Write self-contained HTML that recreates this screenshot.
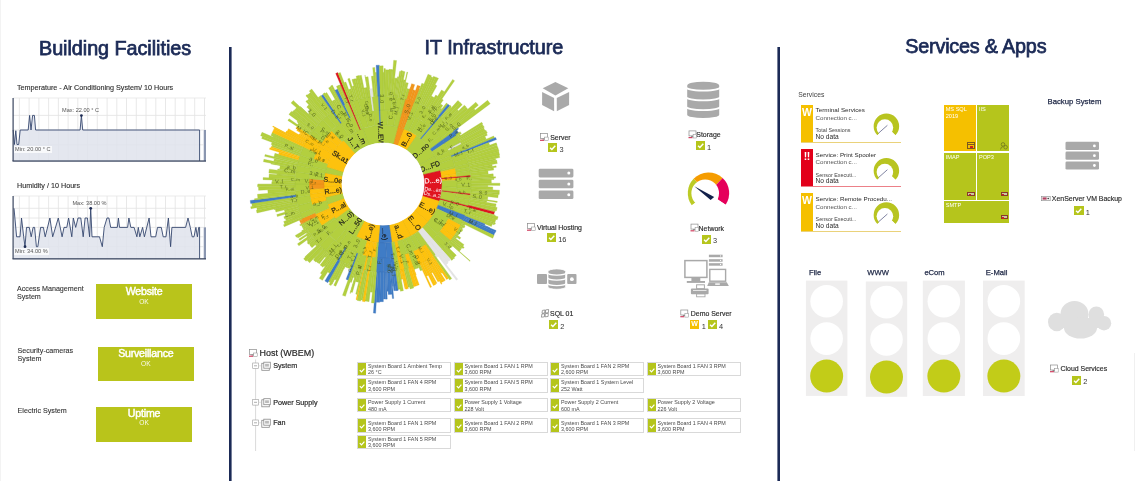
<!DOCTYPE html><html><head><meta charset="utf-8"><title>Dashboard</title><style>
*{margin:0;padding:0;box-sizing:border-box}
html,body{width:1136px;height:481px;overflow:hidden;background:#fff}
body{position:relative;font-family:"Liberation Sans",Arial,sans-serif;color:#333}
svg.bg{position:absolute;left:0;top:0}
div svg{display:block}
div{position:absolute;white-space:nowrap}
.t{font-size:19.8px;font-weight:normal;color:#1b2a56;line-height:22px;transform-origin:0 0;-webkit-text-stroke:0.75px #1b2a56}
.ct{font-size:7.2px;color:#2e2e2e;-webkit-text-stroke:0.12px #2e2e2e;line-height:8px}
.clbl{font-size:5.6px;color:#555;line-height:7px}
.clbl.mn{background:rgba(255,255,255,0.75);padding:0 1px}
.sb{background:#b9c41b}
.sbt{font-size:10.6px;font-weight:normal;color:#fff;text-align:center;line-height:13px;letter-spacing:-0.2px;-webkit-text-stroke:0.45px #fff}
.sbo{font-size:6.6px;color:rgba(255,255,255,0.92);text-align:center;line-height:7px}
.sl{font-size:7.15px;color:#333;-webkit-text-stroke:0.1px #333;line-height:8.3px;white-space:nowrap}
.il{font-size:6.95px;color:#2a2a2a;line-height:10px;-webkit-text-stroke:0.15px #2a2a2a}
.cn{font-size:7.4px;color:#333;line-height:10px}
.ck{background:#b5c51c}
.ck svg{position:absolute;left:0;top:0}
.wb{width:9.2px;height:9px;background:#f5c000;color:#fff;font-weight:bold;font-size:7px;line-height:8.6px;text-align:center}
.th{font-size:8.95px;color:#2a2a2a;line-height:13px;-webkit-text-stroke:0.2px #2a2a2a}
.tn{font-size:7.2px;color:#2a2a2a;line-height:11px;-webkit-text-stroke:0.2px #2a2a2a}
.sc{width:94px;height:14.4px;background:#fff;border:0.6px solid #d9d9d9}
.scg{left:0;top:0;width:8px;height:100%;background:#b5c51c}
.scg svg{position:absolute;left:0;top:0}
.sct{left:10px;top:0.3px;font-size:5.4px;line-height:6.2px;color:#4a4a4a}
.svh{font-size:6.8px;color:#444;line-height:9px}
.svc{left:801px;width:100px;height:38.4px;border-bottom:1px solid #f5c000}
.svs{left:0;top:0;width:11.6px;height:100%;color:#fff;font-weight:bold;font-size:10.5px;line-height:11px;padding-top:2.2px;text-align:center;letter-spacing:-0.5px}
.sv1{left:14.6px;top:1.5px;font-size:6.25px;color:#2a2a2a;line-height:8px}
.sv2{left:14.6px;top:9.3px;font-size:6.2px;color:#555;line-height:8px}
.sv3{left:14.6px;top:22.5px;font-size:5.4px;color:#444;line-height:7px}
.sv4{left:14.6px;top:28.4px;font-size:6.6px;color:#2a2a2a;line-height:8px}
.tm{font-size:5.6px;color:#fff;line-height:7.6px;padding:1px 0 0 2px}
.bk{font-size:7.75px;color:#1f2846;line-height:10px;-webkit-text-stroke:0.25px #1f2846}
.tll{font-size:7.6px;color:#1f2846;line-height:10px;-webkit-text-stroke:0.25px #1f2846}
</style></head><body><svg class="bg" width="1136" height="481" viewBox="0 0 1136 481"><rect x="229" y="47" width="2.6" height="434" fill="#1b2a56"/>
<rect x="777.4" y="47" width="2.6" height="434" fill="#1b2a56"/>
<rect x="0" y="0" width="1" height="481" fill="#f3f3f3"/>
<rect x="1134" y="353" width="1" height="98" fill="#f0f0f0"/>
<rect x="13" y="98" width="193" height="63" fill="#fff"/>
<line x1="19.4" y1="98" x2="19.4" y2="161" stroke="#e2e2e2" stroke-width="0.8"/>
<line x1="29.1" y1="98" x2="29.1" y2="161" stroke="#e2e2e2" stroke-width="0.8"/>
<line x1="38.9" y1="98" x2="38.9" y2="161" stroke="#e2e2e2" stroke-width="0.8"/>
<line x1="48.6" y1="98" x2="48.6" y2="161" stroke="#e2e2e2" stroke-width="0.8"/>
<line x1="58.4" y1="98" x2="58.4" y2="161" stroke="#e2e2e2" stroke-width="0.8"/>
<line x1="68.1" y1="98" x2="68.1" y2="161" stroke="#e2e2e2" stroke-width="0.8"/>
<line x1="77.8" y1="98" x2="77.8" y2="161" stroke="#e2e2e2" stroke-width="0.8"/>
<line x1="87.6" y1="98" x2="87.6" y2="161" stroke="#e2e2e2" stroke-width="0.8"/>
<line x1="97.3" y1="98" x2="97.3" y2="161" stroke="#e2e2e2" stroke-width="0.8"/>
<line x1="107.1" y1="98" x2="107.1" y2="161" stroke="#e2e2e2" stroke-width="0.8"/>
<line x1="116.8" y1="98" x2="116.8" y2="161" stroke="#e2e2e2" stroke-width="0.8"/>
<line x1="126.5" y1="98" x2="126.5" y2="161" stroke="#e2e2e2" stroke-width="0.8"/>
<line x1="136.3" y1="98" x2="136.3" y2="161" stroke="#e2e2e2" stroke-width="0.8"/>
<line x1="146.0" y1="98" x2="146.0" y2="161" stroke="#e2e2e2" stroke-width="0.8"/>
<line x1="155.8" y1="98" x2="155.8" y2="161" stroke="#e2e2e2" stroke-width="0.8"/>
<line x1="165.5" y1="98" x2="165.5" y2="161" stroke="#e2e2e2" stroke-width="0.8"/>
<line x1="175.2" y1="98" x2="175.2" y2="161" stroke="#e2e2e2" stroke-width="0.8"/>
<line x1="185.0" y1="98" x2="185.0" y2="161" stroke="#e2e2e2" stroke-width="0.8"/>
<line x1="194.7" y1="98" x2="194.7" y2="161" stroke="#e2e2e2" stroke-width="0.8"/>
<line x1="204.5" y1="98" x2="204.5" y2="161" stroke="#e2e2e2" stroke-width="0.8"/>
<line x1="13" y1="115.4" x2="206" y2="115.4" stroke="#e2e2e2" stroke-width="0.8"/>
<line x1="13" y1="130" x2="206" y2="130" stroke="#e2e2e2" stroke-width="0.8"/>
<line x1="13" y1="144.8" x2="206" y2="144.8" stroke="#e2e2e2" stroke-width="0.8"/>
<line x1="13" y1="98" x2="206" y2="98" stroke="#e6e6e6" stroke-width="0.8"/>
<path d="M13.2,130.0 L14.4,144.5 L15.8,130.7 L17.0,144.5 L18.7,144.5 L20.2,130.0 L28.2,130.0 L29.6,115.4 L31.0,130.0 L32.6,115.4 L34.4,115.4 L35.6,130.0 L80.1,130.0 L81.4,115.6 L82.7,130.0 L199.6,130.0 L199.6,161 L13.2,161 Z" fill="#dfe3ec" opacity="0.85"/>
<path d="M13.2,130.0 L14.4,144.5 L15.8,130.7 L17.0,144.5 L18.7,144.5 L20.2,130.0 L28.2,130.0 L29.6,115.4 L31.0,130.0 L32.6,115.4 L34.4,115.4 L35.6,130.0 L80.1,130.0 L81.4,115.6 L82.7,130.0 L199.6,130.0 L199.6,161" fill="none" stroke="#34466e" stroke-width="0.9"/>
<rect x="203.8" y="130" width="2.2" height="31" fill="#8a96b0"/>
<rect x="203.0" y="130" width="0.8" height="31" fill="#dfe3ec"/>
<rect x="12.5" y="98" width="1.2" height="63" fill="#3b4660"/>
<rect x="12.5" y="160.4" width="193.5" height="1.3" fill="#3b4660"/>
<circle cx="81.4" cy="115.6" r="1.4" fill="#1f2d55"/>
<rect x="13" y="196" width="193" height="62.80000000000001" fill="#fff"/>
<line x1="19.4" y1="196" x2="19.4" y2="258.8" stroke="#e2e2e2" stroke-width="0.8"/>
<line x1="29.1" y1="196" x2="29.1" y2="258.8" stroke="#e2e2e2" stroke-width="0.8"/>
<line x1="38.9" y1="196" x2="38.9" y2="258.8" stroke="#e2e2e2" stroke-width="0.8"/>
<line x1="48.6" y1="196" x2="48.6" y2="258.8" stroke="#e2e2e2" stroke-width="0.8"/>
<line x1="58.4" y1="196" x2="58.4" y2="258.8" stroke="#e2e2e2" stroke-width="0.8"/>
<line x1="68.1" y1="196" x2="68.1" y2="258.8" stroke="#e2e2e2" stroke-width="0.8"/>
<line x1="77.8" y1="196" x2="77.8" y2="258.8" stroke="#e2e2e2" stroke-width="0.8"/>
<line x1="87.6" y1="196" x2="87.6" y2="258.8" stroke="#e2e2e2" stroke-width="0.8"/>
<line x1="97.3" y1="196" x2="97.3" y2="258.8" stroke="#e2e2e2" stroke-width="0.8"/>
<line x1="107.1" y1="196" x2="107.1" y2="258.8" stroke="#e2e2e2" stroke-width="0.8"/>
<line x1="116.8" y1="196" x2="116.8" y2="258.8" stroke="#e2e2e2" stroke-width="0.8"/>
<line x1="126.5" y1="196" x2="126.5" y2="258.8" stroke="#e2e2e2" stroke-width="0.8"/>
<line x1="136.3" y1="196" x2="136.3" y2="258.8" stroke="#e2e2e2" stroke-width="0.8"/>
<line x1="146.0" y1="196" x2="146.0" y2="258.8" stroke="#e2e2e2" stroke-width="0.8"/>
<line x1="155.8" y1="196" x2="155.8" y2="258.8" stroke="#e2e2e2" stroke-width="0.8"/>
<line x1="165.5" y1="196" x2="165.5" y2="258.8" stroke="#e2e2e2" stroke-width="0.8"/>
<line x1="175.2" y1="196" x2="175.2" y2="258.8" stroke="#e2e2e2" stroke-width="0.8"/>
<line x1="185.0" y1="196" x2="185.0" y2="258.8" stroke="#e2e2e2" stroke-width="0.8"/>
<line x1="194.7" y1="196" x2="194.7" y2="258.8" stroke="#e2e2e2" stroke-width="0.8"/>
<line x1="204.5" y1="196" x2="204.5" y2="258.8" stroke="#e2e2e2" stroke-width="0.8"/>
<line x1="13" y1="208.3" x2="206" y2="208.3" stroke="#e2e2e2" stroke-width="0.8"/>
<line x1="13" y1="218" x2="206" y2="218" stroke="#e2e2e2" stroke-width="0.8"/>
<line x1="13" y1="227.4" x2="206" y2="227.4" stroke="#e2e2e2" stroke-width="0.8"/>
<line x1="13" y1="236.8" x2="206" y2="236.8" stroke="#e2e2e2" stroke-width="0.8"/>
<line x1="13" y1="246.7" x2="206" y2="246.7" stroke="#e2e2e2" stroke-width="0.8"/>
<line x1="13" y1="196" x2="206" y2="196" stroke="#e6e6e6" stroke-width="0.8"/>
<path d="M14.0,208.3 L16.6,236.8 L20.0,236.8 L21.5,218.0 L23.7,236.8 L25.0,246.7 L26.5,227.4 L29.3,227.4 L31.2,236.8 L33.1,227.4 L34.6,227.4 L36.4,246.7 L37.8,246.7 L40.6,227.4 L43.4,227.4 L45.2,236.8 L49.9,218.0 L52.7,236.8 L58.3,218.0 L62.1,236.8 L64.0,227.4 L66.8,227.4 L68.6,218.0 L71.8,236.8 L73.3,218.0 L75.7,227.4 L78.0,218.0 L80.8,218.0 L83.2,236.8 L85.1,218.0 L87.4,218.0 L89.6,236.8 L90.7,208.3 L92.0,236.8 L99.5,236.8 L102.3,246.7 L104.2,227.4 L107.0,218.0 L108.9,218.0 L110.7,227.4 L117.3,227.4 L118.4,218.0 L119.5,227.4 L127.6,227.4 L128.9,218.0 L130.8,227.4 L134.1,227.4 L136.9,236.8 L138.3,227.4 L139.8,236.8 L142.6,227.4 L144.4,236.8 L149.1,218.0 L151.0,236.8 L155.7,236.8 L157.5,227.4 L161.3,227.4 L163.2,236.8 L166.0,236.8 L168.4,218.0 L170.6,246.7 L171.9,227.4 L185.6,227.4 L188.0,218.0 L190.3,227.4 L192.2,236.8 L194.0,236.8 L195.9,227.4 L197.4,236.8 L198.7,227.4 L199.6,227.4 L199.6,258.8 L14.0,258.8 Z" fill="#dfe3ec" opacity="0.85"/>
<path d="M14.0,208.3 L16.6,236.8 L20.0,236.8 L21.5,218.0 L23.7,236.8 L25.0,246.7 L26.5,227.4 L29.3,227.4 L31.2,236.8 L33.1,227.4 L34.6,227.4 L36.4,246.7 L37.8,246.7 L40.6,227.4 L43.4,227.4 L45.2,236.8 L49.9,218.0 L52.7,236.8 L58.3,218.0 L62.1,236.8 L64.0,227.4 L66.8,227.4 L68.6,218.0 L71.8,236.8 L73.3,218.0 L75.7,227.4 L78.0,218.0 L80.8,218.0 L83.2,236.8 L85.1,218.0 L87.4,218.0 L89.6,236.8 L90.7,208.3 L92.0,236.8 L99.5,236.8 L102.3,246.7 L104.2,227.4 L107.0,218.0 L108.9,218.0 L110.7,227.4 L117.3,227.4 L118.4,218.0 L119.5,227.4 L127.6,227.4 L128.9,218.0 L130.8,227.4 L134.1,227.4 L136.9,236.8 L138.3,227.4 L139.8,236.8 L142.6,227.4 L144.4,236.8 L149.1,218.0 L151.0,236.8 L155.7,236.8 L157.5,227.4 L161.3,227.4 L163.2,236.8 L166.0,236.8 L168.4,218.0 L170.6,246.7 L171.9,227.4 L185.6,227.4 L188.0,218.0 L190.3,227.4 L192.2,236.8 L194.0,236.8 L195.9,227.4 L197.4,236.8 L198.7,227.4 L199.6,227.4 L199.6,258.8" fill="none" stroke="#34466e" stroke-width="0.9"/>
<rect x="203.8" y="227.4" width="2.2" height="31.400000000000006" fill="#8a96b0"/>
<rect x="203.0" y="227.4" width="0.8" height="31.400000000000006" fill="#dfe3ec"/>
<rect x="12.5" y="196" width="1.2" height="62.80000000000001" fill="#3b4660"/>
<rect x="12.5" y="258.2" width="193.5" height="1.3" fill="#3b4660"/>
<circle cx="90.71963316488863" cy="208.3146172562231" r="1.4" fill="#1f2d55"/>
<circle cx="25.026202507954334" cy="246.68257533221038" r="1.4" fill="#1f2d55"/>
<path d="M555.4,82.1 L568.3,88.3 L555.4,95.4 L542.7,88.3 Z" fill="#a9a9a9"/>
<path d="M542.1,92 L554.1,97.9 L554.1,111.2 L542.1,105 Z" fill="#a9a9a9"/>
<path d="M556.8,97.9 L569.1,92 L569.1,105 L556.8,111.2 Z" fill="#a9a9a9"/>
<path d="M687.2,85.7 A16,4 0 0 1 719.2,85.7 L719.2,114.7 A16,3.4 0 0 1 687.2,114.7 Z" fill="#a9a9a9"/>
<path d="M686.2,87.0 A17,3.6 0 0 0 720.2,87.0" fill="none" stroke="#fff" stroke-width="1.7"/>
<path d="M686.2,96.8 A17,3.6 0 0 0 720.2,96.8" fill="none" stroke="#fff" stroke-width="1.7"/>
<path d="M686.2,106.5 A17,3.6 0 0 0 720.2,106.5" fill="none" stroke="#fff" stroke-width="1.7"/>
<rect x="538.7" y="168.8" width="34.69999999999993" height="8.6" rx="1.3" fill="#a9a9a9"/>
<circle cx="568.8" cy="173.10000000000002" r="1.5" fill="#fff"/>
<rect x="538.7" y="179.7" width="34.69999999999993" height="8.6" rx="1.3" fill="#a9a9a9"/>
<circle cx="568.8" cy="184.0" r="1.5" fill="#fff"/>
<rect x="538.7" y="190.4" width="34.69999999999993" height="8.6" rx="1.3" fill="#a9a9a9"/>
<circle cx="568.8" cy="194.70000000000002" r="1.5" fill="#fff"/>
<path d="M708.5,193.1 L691.75,205.27 A20.7,20.7 0 0 1 693.61,178.72 Z" fill="#bccb26"/>
<path d="M708.5,193.1 L693.61,178.72 A20.7,20.7 0 0 1 722.62,177.96 Z" fill="#f59c00"/>
<path d="M708.5,193.1 L722.62,177.96 A20.7,20.7 0 0 1 725.66,204.68 Z" fill="#e5005b"/>
<circle cx="705.2" cy="193.3" r="13.8" fill="#fff"/>
<path d="M708.5,194.1 L690.14,206.44 L690.14,223.1 L727.32,223.1 L727.32,205.79 Z" fill="#fff"/>
<path d="M694.3,186.3 L714.2,197.0 L710.6,200.0 Z" fill="#13214a"/>
<rect x="537" y="274" width="10" height="10" rx="1" fill="#a9a9a9"/>
<rect x="567.2" y="274" width="9.3" height="10" rx="1" fill="#a9a9a9"/>
<circle cx="571.9" cy="279.2" r="1.9" fill="#fff"/>
<path d="M548,271.5 A8.800000000000011,2.6 0 0 1 565.6,271.5 L565.6,287 A8.800000000000011,2.3 0 0 1 548,287 Z" fill="#a9a9a9" stroke="#fff" stroke-width="0.8"/>
<path d="M547.5,272.6 A9.300000000000011,2.6 0 0 0 566.1,272.6" fill="none" stroke="#fff" stroke-width="1.2"/>
<path d="M547.5,277.6 A9.300000000000011,2.6 0 0 0 566.1,277.6" fill="none" stroke="#fff" stroke-width="1.2"/>
<path d="M547.5,283.0 A9.300000000000011,2.6 0 0 0 566.1,283.0" fill="none" stroke="#fff" stroke-width="1.2"/>
<rect x="684.9" y="260.6" width="22" height="16.8" fill="none" stroke="#a9a9a9" stroke-width="1.5"/>
<rect x="691.4" y="278" width="8.9" height="3.2" fill="#a9a9a9"/>
<rect x="686.8" y="281" width="18.2" height="1.9" fill="#a9a9a9"/>
<rect x="708.9" y="254.7" width="13.7" height="2.5" fill="#a9a9a9"/>
<circle cx="720.6" cy="255.95" r="0.6" fill="#fff"/>
<rect x="708.9" y="259.2" width="13.7" height="2.5" fill="#a9a9a9"/>
<circle cx="720.6" cy="260.45" r="0.6" fill="#fff"/>
<rect x="708.9" y="263.2" width="13.7" height="2.5" fill="#a9a9a9"/>
<circle cx="720.6" cy="264.45" r="0.6" fill="#fff"/>
<rect x="709.8" y="269.4" width="15.8" height="11.8" fill="none" stroke="#a9a9a9" stroke-width="1.4"/>
<path d="M708.8,282.2 L726.8,282.2 L728.9,285.9 L707.2,285.9 Z" fill="#a9a9a9"/>
<rect x="715.2" y="283.4" width="4.6" height="1.4" fill="#fff"/>
<rect x="696.6" y="284.8" width="7.8" height="3.9" fill="none" stroke="#a9a9a9" stroke-width="1"/>
<rect x="690.9" y="288.5" width="17.7" height="5.8" rx="1" fill="#a9a9a9"/>
<rect x="693" y="290" width="13.5" height="0.7" fill="#fff"/>
<rect x="696.6" y="293.8" width="8.4" height="3" fill="none" stroke="#a9a9a9" stroke-width="0.9"/>
<g fill="#dfdfdf"><ellipse cx="1056.8" cy="322" rx="8.8" ry="9.3"/><ellipse cx="1074.5" cy="314.2" rx="14" ry="13.2"/><ellipse cx="1096.3" cy="314.6" rx="7.8" ry="8.2"/><ellipse cx="1104" cy="323.2" rx="7.2" ry="7.2"/><ellipse cx="1080.5" cy="328" rx="16.5" ry="10.6"/><rect x="1058" y="318" width="46" height="10"/></g>
<rect x="1065.5" y="141.8" width="33.5" height="8.2" rx="1.3" fill="#a9a9a9"/>
<circle cx="1094.4" cy="145.9" r="1.4" fill="#fff"/>
<rect x="1065.5" y="151.6" width="33.5" height="8.2" rx="1.3" fill="#a9a9a9"/>
<circle cx="1094.4" cy="155.7" r="1.4" fill="#fff"/>
<rect x="1065.5" y="161.4" width="33.5" height="8.2" rx="1.3" fill="#a9a9a9"/>
<circle cx="1094.4" cy="165.5" r="1.4" fill="#fff"/>
<g transform="translate(540,133.10000000000002) scale(1.0)"><rect x="0.5" y="0.5" width="7" height="5" fill="none" stroke="#8a8a8a" stroke-width="0.7"/><rect x="2.5" y="5.5" width="3" height="1" fill="#8a8a8a"/><rect x="0" y="6.6" width="4" height="1.2" fill="#d04060"/><rect x="4.6" y="4" width="3.6" height="3.6" fill="#fff" stroke="#8a8a8a" stroke-width="0.5"/></g>
<g transform="translate(688.5,130.4) scale(1.0)"><rect x="0.5" y="0.5" width="7" height="5" fill="none" stroke="#8a8a8a" stroke-width="0.7"/><rect x="2.5" y="5.5" width="3" height="1" fill="#8a8a8a"/><rect x="0" y="6.6" width="4" height="1.2" fill="#d04060"/><rect x="4.6" y="4" width="3.6" height="3.6" fill="#fff" stroke="#8a8a8a" stroke-width="0.5"/></g>
<g transform="translate(527,223.0) scale(1.0)"><rect x="0.5" y="0.5" width="7" height="5" fill="none" stroke="#8a8a8a" stroke-width="0.7"/><rect x="2.5" y="5.5" width="3" height="1" fill="#8a8a8a"/><rect x="0" y="6.6" width="4" height="1.2" fill="#d04060"/><rect x="4.6" y="4" width="3.6" height="3.6" fill="#fff" stroke="#8a8a8a" stroke-width="0.5"/></g>
<g transform="translate(690.5,223.60000000000002) scale(1.0)"><rect x="0.5" y="0.5" width="7" height="5" fill="none" stroke="#8a8a8a" stroke-width="0.7"/><rect x="2.5" y="5.5" width="3" height="1" fill="#8a8a8a"/><rect x="0" y="6.6" width="4" height="1.2" fill="#d04060"/><rect x="4.6" y="4" width="3.6" height="3.6" fill="#fff" stroke="#8a8a8a" stroke-width="0.5"/></g>
<g transform="translate(540.4,309.4)" fill="none" stroke="#7a7a7a" stroke-width="0.7"><path d="M2,1 L4.5,0.6 L4.3,3.6 L1.6,3.9 Z"/><path d="M5.2,0.5 L8.2,0.1 L8,3.3 L5,3.6 Z"/><path d="M1.5,4.6 L4.2,4.3 L4,7.4 L1,7.8 Z"/><path d="M4.9,4.2 L7.9,3.9 L7.7,7.1 L4.7,7.4 Z"/></g>
<g transform="translate(680.3,309.5) scale(1.0)"><rect x="0.5" y="0.5" width="7" height="5" fill="none" stroke="#8a8a8a" stroke-width="0.7"/><rect x="2.5" y="5.5" width="3" height="1" fill="#8a8a8a"/><rect x="0" y="6.6" width="4" height="1.2" fill="#d04060"/><rect x="4.6" y="4" width="3.6" height="3.6" fill="#fff" stroke="#8a8a8a" stroke-width="0.5"/></g>
<rect x="1041.6" y="196.29999999999998" width="8.6" height="4.4" fill="#f4f4f4" stroke="#8a8a8a" stroke-width="0.6"/><rect x="1042.6" y="197.4" width="4" height="2.2" fill="#b04060"/><circle cx="1048.1999999999998" cy="198.5" r="0.8" fill="#333"/>
<g transform="translate(1050,364.5) scale(1.0)"><rect x="0.5" y="0.5" width="7" height="5" fill="none" stroke="#8a8a8a" stroke-width="0.7"/><rect x="2.5" y="5.5" width="3" height="1" fill="#8a8a8a"/><rect x="0" y="6.6" width="4" height="1.2" fill="#d04060"/><rect x="4.6" y="4" width="3.6" height="3.6" fill="#fff" stroke="#8a8a8a" stroke-width="0.5"/></g>
<g transform="translate(249,349) scale(1.0)"><rect x="0.5" y="0.5" width="7" height="5" fill="none" stroke="#8a8a8a" stroke-width="0.7"/><rect x="2.5" y="5.5" width="3" height="1" fill="#8a8a8a"/><rect x="0" y="6.6" width="4" height="1.2" fill="#d04060"/><rect x="4.6" y="4" width="3.6" height="3.6" fill="#fff" stroke="#8a8a8a" stroke-width="0.5"/></g>
<line x1="255.6" y1="359.5" x2="255.6" y2="451" stroke="#cfcfcf" stroke-width="0.8"/>
<rect x="252.7" y="363" width="5.6" height="5.6" fill="#fff" stroke="#9a9a9a" stroke-width="0.6"/>
<line x1="254" y1="365.8" x2="257" y2="365.8" stroke="#777" stroke-width="0.6"/>
<line x1="258.3" y1="365.8" x2="261" y2="365.8" stroke="#cfcfcf" stroke-width="0.6"/>
<g transform="translate(261.3,361.8)"><rect x="0.5" y="1.5" width="7.5" height="7" fill="none" stroke="#8a8a8a" stroke-width="0.8"/><rect x="2.5" y="0.4" width="6.5" height="6" fill="#fff" stroke="#8a8a8a" stroke-width="0.8"/><rect x="3.8" y="2" width="3.8" height="2.8" fill="#bbb"/></g>
<rect x="252.7" y="399.5" width="5.6" height="5.6" fill="#fff" stroke="#9a9a9a" stroke-width="0.6"/>
<line x1="254" y1="402.3" x2="257" y2="402.3" stroke="#777" stroke-width="0.6"/>
<line x1="258.3" y1="402.3" x2="261" y2="402.3" stroke="#cfcfcf" stroke-width="0.6"/>
<g transform="translate(261.3,398.3)"><rect x="0.5" y="1.5" width="7.5" height="7" fill="none" stroke="#8a8a8a" stroke-width="0.8"/><rect x="2.5" y="0.4" width="6.5" height="6" fill="#fff" stroke="#8a8a8a" stroke-width="0.8"/><rect x="3.8" y="2" width="3.8" height="2.8" fill="#bbb"/></g>
<rect x="252.7" y="420" width="5.6" height="5.6" fill="#fff" stroke="#9a9a9a" stroke-width="0.6"/>
<line x1="254" y1="422.8" x2="257" y2="422.8" stroke="#777" stroke-width="0.6"/>
<line x1="258.3" y1="422.8" x2="261" y2="422.8" stroke="#cfcfcf" stroke-width="0.6"/>
<g transform="translate(261.3,418.8)"><rect x="0.5" y="1.5" width="7.5" height="7" fill="none" stroke="#8a8a8a" stroke-width="0.8"/><rect x="2.5" y="0.4" width="6.5" height="6" fill="#fff" stroke="#8a8a8a" stroke-width="0.8"/><rect x="3.8" y="2" width="3.8" height="2.8" fill="#bbb"/></g>
<path d="M886.4,126.25 L877.38,135.27 A12.75,12.75 0 1 1 895.42,135.27 Z" fill="#b8c420"/>
<circle cx="884.9" cy="127.6" r="8.3" fill="#fff"/>
<path d="M886.4,126.75 L875.97,136.68 L875.97,146.25 L896.83,146.25 L896.83,136.68 Z" fill="#fff"/>
<line x1="878.6" y1="133.1" x2="887.4" y2="125.3" stroke="#4a4f7a" stroke-width="0.7"/>
<path d="M886.4,170.65 L877.38,179.67 A12.75,12.75 0 1 1 895.42,179.67 Z" fill="#b8c420"/>
<circle cx="884.9" cy="172.0" r="8.3" fill="#fff"/>
<path d="M886.4,171.15 L875.97,181.08 L875.97,190.65 L896.83,190.65 L896.83,181.08 Z" fill="#fff"/>
<line x1="878.6" y1="177.5" x2="887.4" y2="169.7" stroke="#4a4f7a" stroke-width="0.7"/>
<path d="M886.4,214.95000000000002 L877.38,223.97 A12.75,12.75 0 1 1 895.42,223.97 Z" fill="#b8c420"/>
<circle cx="884.9" cy="216.3" r="8.3" fill="#fff"/>
<path d="M886.4,215.45000000000002 L875.97,225.38 L875.97,234.95000000000002 L896.83,234.95000000000002 L896.83,225.38 Z" fill="#fff"/>
<line x1="878.6" y1="221.8" x2="887.4" y2="214.0" stroke="#4a4f7a" stroke-width="0.7"/>
<rect x="805.9" y="280.6" width="41.5" height="115.29999999999995" fill="#efeeee"/>
<circle cx="826.65" cy="301.20000000000005" r="16.3" fill="#fff"/>
<circle cx="826.65" cy="338.6" r="16.3" fill="#fff"/>
<circle cx="826.65" cy="376.1" r="16.5" fill="#c2cc18"/>
<rect x="865.8" y="281.5" width="41.40000000000009" height="115.30000000000001" fill="#efeeee"/>
<circle cx="886.5" cy="302.1" r="16.3" fill="#fff"/>
<circle cx="886.5" cy="339.5" r="16.3" fill="#fff"/>
<circle cx="886.5" cy="377.0" r="16.5" fill="#c2cc18"/>
<rect x="922.8" y="280.6" width="42.10000000000002" height="115.39999999999998" fill="#efeeee"/>
<circle cx="943.8499999999999" cy="301.20000000000005" r="16.3" fill="#fff"/>
<circle cx="943.8499999999999" cy="338.6" r="16.3" fill="#fff"/>
<circle cx="943.8499999999999" cy="376.1" r="16.5" fill="#c2cc18"/>
<rect x="983" y="280.6" width="41.700000000000045" height="115.39999999999998" fill="#efeeee"/>
<circle cx="1003.85" cy="301.20000000000005" r="16.3" fill="#fff"/>
<circle cx="1003.85" cy="338.6" r="16.3" fill="#fff"/>
<circle cx="1003.85" cy="376.1" r="16.5" fill="#c2cc18"/>
<g><path d="M362.82,128.56 A59.0,59.0 0 0 1 398.27,127.01 L393.74,143.91 A41.5,41.5 0 0 0 368.81,145.00 Z" fill="#b3cf3f" stroke="#a2c23a" stroke-width="0.5"/>
<path d="M398.27,127.01 A59.0,59.0 0 0 1 404.14,128.92 L397.87,145.26 A41.5,41.5 0 0 0 393.74,143.91 Z" fill="#f2961c" stroke="#e08a10" stroke-width="0.5"/>
<path d="M404.14,128.92 A59.0,59.0 0 0 1 416.84,135.67 L406.80,150.01 A41.5,41.5 0 0 0 397.87,145.26 Z" fill="#fdc20e" stroke="#eeb400" stroke-width="0.5"/>
<path d="M416.84,135.67 A59.0,59.0 0 0 1 435.09,156.30 L419.64,164.52 A41.5,41.5 0 0 0 406.80,150.01 Z" fill="#b3cf3f" stroke="#a2c23a" stroke-width="0.5"/>
<path d="M435.09,156.30 A59.0,59.0 0 0 1 440.49,170.73 L423.44,174.66 A41.5,41.5 0 0 0 419.64,164.52 Z" fill="#b3cf3f" stroke="#a2c23a" stroke-width="0.5"/>
<path d="M440.49,170.73 A59.0,59.0 0 0 1 439.42,201.25 L422.69,196.13 A41.5,41.5 0 0 0 423.44,174.66 Z" fill="#e0141f" stroke="#c8101a" stroke-width="0.5"/>
<path d="M439.42,201.25 A59.0,59.0 0 0 1 428.20,221.92 L414.79,210.68 A41.5,41.5 0 0 0 422.69,196.13 Z" fill="#fdc20e" stroke="#eeb400" stroke-width="0.5"/>
<path d="M428.20,221.92 A59.0,59.0 0 0 1 410.70,236.09 L402.48,220.64 A41.5,41.5 0 0 0 414.79,210.68 Z" fill="#fdc20e" stroke="#eeb400" stroke-width="0.5"/>
<path d="M410.70,236.09 A59.0,59.0 0 0 1 391.72,242.35 L389.13,225.04 A41.5,41.5 0 0 0 402.48,220.64 Z" fill="#fdc20e" stroke="#eeb400" stroke-width="0.5"/>
<path d="M391.72,242.35 A59.0,59.0 0 0 1 378.37,242.82 L379.74,225.37 A41.5,41.5 0 0 0 389.13,225.04 Z" fill="#3f7cc6" stroke="#3a70b4" stroke-width="0.5"/>
<path d="M378.37,242.82 A59.0,59.0 0 0 1 356.21,236.57 L364.16,220.98 A41.5,41.5 0 0 0 379.74,225.37 Z" fill="#fdc20e" stroke="#eeb400" stroke-width="0.5"/>
<path d="M356.21,236.57 A59.0,59.0 0 0 1 345.08,229.20 L356.32,215.79 A41.5,41.5 0 0 0 364.16,220.98 Z" fill="#b3cf3f" stroke="#a2c23a" stroke-width="0.5"/>
<path d="M345.08,229.20 A59.0,59.0 0 0 1 335.27,218.68 L349.43,208.39 A41.5,41.5 0 0 0 356.32,215.79 Z" fill="#b3cf3f" stroke="#a2c23a" stroke-width="0.5"/>
<path d="M335.27,218.68 A59.0,59.0 0 0 1 327.56,204.18 L344.00,198.19 A41.5,41.5 0 0 0 349.43,208.39 Z" fill="#fdc20e" stroke="#eeb400" stroke-width="0.5"/>
<path d="M327.56,204.18 A59.0,59.0 0 0 1 325.51,197.27 L342.56,193.34 A41.5,41.5 0 0 0 344.00,198.19 Z" fill="#b3cf3f" stroke="#a2c23a" stroke-width="0.5"/>
<path d="M325.51,197.27 A59.0,59.0 0 0 1 324.04,186.06 L341.53,185.45 A41.5,41.5 0 0 0 342.56,193.34 Z" fill="#fdc20e" stroke="#eeb400" stroke-width="0.5"/>
<path d="M324.04,186.06 A59.0,59.0 0 0 1 325.08,172.74 L342.26,176.08 A41.5,41.5 0 0 0 341.53,185.45 Z" fill="#fdc20e" stroke="#eeb400" stroke-width="0.5"/>
<path d="M325.08,172.74 A59.0,59.0 0 0 1 326.58,166.75 L343.31,171.87 A41.5,41.5 0 0 0 342.26,176.08 Z" fill="#b3cf3f" stroke="#a2c23a" stroke-width="0.5"/>
<path d="M326.58,166.75 A59.0,59.0 0 0 1 343.52,140.15 L355.23,153.16 A41.5,41.5 0 0 0 343.31,171.87 Z" fill="#fdc20e" stroke="#eeb400" stroke-width="0.5"/>
<path d="M343.52,140.15 A59.0,59.0 0 0 1 353.50,132.90 L362.25,148.06 A41.5,41.5 0 0 0 355.23,153.16 Z" fill="#b3cf3f" stroke="#a2c23a" stroke-width="0.5"/>
<path d="M353.50,132.90 A59.0,59.0 0 0 1 362.82,128.56 L368.81,145.00 A41.5,41.5 0 0 0 362.25,148.06 Z" fill="#b3cf3f" stroke="#a2c23a" stroke-width="0.5"/>
<path d="M357.69,114.46 A74.0,74.0 0 0 1 364.74,112.29 L368.44,126.82 A59,59 0 0 0 362.82,128.56 Z" fill="#b3cf3f" stroke="#a2c23a" stroke-width="0.4"/>
<path d="M364.74,112.29 A74.0,74.0 0 0 1 372.79,110.71 L374.86,125.56 A59,59 0 0 0 368.44,126.82 Z" fill="#b3cf3f" stroke="#a2c23a" stroke-width="0.4"/>
<path d="M372.79,110.71 A74.0,74.0 0 0 1 379.13,110.10 L379.91,125.08 A59,59 0 0 0 374.86,125.56 Z" fill="#b3cf3f" stroke="#a2c23a" stroke-width="0.4"/>
<path d="M379.13,110.10 A74.0,74.0 0 0 1 380.42,110.05 L380.94,125.04 A59,59 0 0 0 379.91,125.08 Z" fill="#3f7cc6" stroke="#3a70b4" stroke-width="0.4"/>
<path d="M380.42,110.05 A74.0,74.0 0 0 1 388.22,110.18 L387.16,125.15 A59,59 0 0 0 380.94,125.04 Z" fill="#b3cf3f" stroke="#a2c23a" stroke-width="0.4"/>
<path d="M388.22,110.18 A74.0,74.0 0 0 1 396.58,111.26 L393.82,126.00 A59,59 0 0 0 387.16,125.15 Z" fill="#b3cf3f" stroke="#a2c23a" stroke-width="0.4"/>
<path d="M396.58,111.26 A74.0,74.0 0 0 1 401.75,112.42 L397.95,126.93 A59,59 0 0 0 393.82,126.00 Z" fill="#b3cf3f" stroke="#a2c23a" stroke-width="0.4"/>
<path d="M401.75,112.42 A74.0,74.0 0 0 1 402.15,112.52 L398.27,127.01 A59,59 0 0 0 397.95,126.93 Z" fill="#b3cf3f" stroke="#a2c23a" stroke-width="0.4"/>
<path d="M402.15,112.52 A74.0,74.0 0 0 1 405.25,113.42 L400.74,127.73 A59,59 0 0 0 398.27,127.01 Z" fill="#f2961c" stroke="#e08a10" stroke-width="0.4"/>
<path d="M405.25,113.42 A74.0,74.0 0 0 1 407.09,114.03 L402.21,128.21 A59,59 0 0 0 400.74,127.73 Z" fill="#f2961c" stroke="#e08a10" stroke-width="0.4"/>
<path d="M407.09,114.03 A74.0,74.0 0 0 1 409.52,114.92 L404.14,128.92 A59,59 0 0 0 402.21,128.21 Z" fill="#f2961c" stroke="#e08a10" stroke-width="0.4"/>
<path d="M409.52,114.92 A74.0,74.0 0 0 1 415.23,117.39 L408.70,130.89 A59,59 0 0 0 404.14,128.92 Z" fill="#b3cf3f" stroke="#a2c23a" stroke-width="0.4"/>
<path d="M415.23,117.39 A74.0,74.0 0 0 1 419.29,119.51 L411.93,132.58 A59,59 0 0 0 408.70,130.89 Z" fill="#b3cf3f" stroke="#a2c23a" stroke-width="0.4"/>
<path d="M419.29,119.51 A74.0,74.0 0 0 1 427.76,125.07 L418.69,137.02 A59,59 0 0 0 411.93,132.58 Z" fill="#b3cf3f" stroke="#a2c23a" stroke-width="0.4"/>
<path d="M427.76,125.07 A74.0,74.0 0 0 1 430.07,126.90 L420.53,138.47 A59,59 0 0 0 418.69,137.02 Z" fill="#b3cf3f" stroke="#a2c23a" stroke-width="0.4"/>
<path d="M430.07,126.90 A74.0,74.0 0 0 1 431.06,127.73 L421.32,139.14 A59,59 0 0 0 420.53,138.47 Z" fill="#3f7cc6" stroke="#3a70b4" stroke-width="0.4"/>
<path d="M431.06,127.73 A74.0,74.0 0 0 1 439.18,135.84 L427.79,145.60 A59,59 0 0 0 421.32,139.14 Z" fill="#b3cf3f" stroke="#a2c23a" stroke-width="0.4"/>
<path d="M439.18,135.84 A74.0,74.0 0 0 1 442.49,139.98 L430.43,148.91 A59,59 0 0 0 427.79,145.60 Z" fill="#b3cf3f" stroke="#a2c23a" stroke-width="0.4"/>
<path d="M442.49,139.98 A74.0,74.0 0 0 1 444.71,143.16 L432.20,151.44 A59,59 0 0 0 430.43,148.91 Z" fill="#3f7cc6" stroke="#3a70b4" stroke-width="0.4"/>
<path d="M444.71,143.16 A74.0,74.0 0 0 1 449.05,150.63 L435.66,157.39 A59,59 0 0 0 432.20,151.44 Z" fill="#b3cf3f" stroke="#a2c23a" stroke-width="0.4"/>
<path d="M449.05,150.63 A74.0,74.0 0 0 1 451.19,155.25 L437.37,161.08 A59,59 0 0 0 435.66,157.39 Z" fill="#b3cf3f" stroke="#a2c23a" stroke-width="0.4"/>
<path d="M451.19,155.25 A74.0,74.0 0 0 1 452.64,158.97 L438.52,164.04 A59,59 0 0 0 437.37,161.08 Z" fill="#b3cf3f" stroke="#a2c23a" stroke-width="0.4"/>
<path d="M452.64,158.97 A74.0,74.0 0 0 1 454.92,166.60 L440.35,170.13 A59,59 0 0 0 438.52,164.04 Z" fill="#b3cf3f" stroke="#a2c23a" stroke-width="0.4"/>
<path d="M454.92,166.60 A74.0,74.0 0 0 1 455.38,168.61 L440.71,171.73 A59,59 0 0 0 440.35,170.13 Z" fill="#b3cf3f" stroke="#a2c23a" stroke-width="0.4"/>
<path d="M455.38,168.61 A74.0,74.0 0 0 1 456.31,173.88 L441.45,175.93 A59,59 0 0 0 440.71,171.73 Z" fill="#fdc20e" stroke="#eeb400" stroke-width="0.4"/>
<path d="M456.31,173.88 A74.0,74.0 0 0 1 456.66,176.91 L441.73,178.35 A59,59 0 0 0 441.45,175.93 Z" fill="#fdc20e" stroke="#eeb400" stroke-width="0.4"/>
<path d="M456.66,176.91 A74.0,74.0 0 0 1 456.76,178.07 L441.81,179.27 A59,59 0 0 0 441.73,178.35 Z" fill="#e0141f" stroke="#c8101a" stroke-width="0.4"/>
<path d="M456.76,178.07 A74.0,74.0 0 0 1 456.90,180.13 L441.92,180.91 A59,59 0 0 0 441.81,179.27 Z" fill="#fdc20e" stroke="#eeb400" stroke-width="0.4"/>
<path d="M456.90,180.13 A74.0,74.0 0 0 1 456.92,187.41 L441.94,186.72 A59,59 0 0 0 441.92,180.91 Z" fill="#b3cf3f" stroke="#a2c23a" stroke-width="0.4"/>
<path d="M456.92,187.41 A74.0,74.0 0 0 1 456.52,192.38 L441.62,190.68 A59,59 0 0 0 441.94,186.72 Z" fill="#b3cf3f" stroke="#a2c23a" stroke-width="0.4"/>
<path d="M456.52,192.38 A74.0,74.0 0 0 1 456.40,193.40 L441.52,191.50 A59,59 0 0 0 441.62,190.68 Z" fill="#e0141f" stroke="#c8101a" stroke-width="0.4"/>
<path d="M456.40,193.40 A74.0,74.0 0 0 1 454.76,202.08 L440.21,198.41 A59,59 0 0 0 441.52,191.50 Z" fill="#b3cf3f" stroke="#a2c23a" stroke-width="0.4"/>
<path d="M454.76,202.08 A74.0,74.0 0 0 1 454.64,202.53 L440.12,198.77 A59,59 0 0 0 440.21,198.41 Z" fill="#b3cf3f" stroke="#a2c23a" stroke-width="0.4"/>
<path d="M454.64,202.53 A74.0,74.0 0 0 1 454.34,203.65 L439.88,199.67 A59,59 0 0 0 440.12,198.77 Z" fill="#e0141f" stroke="#c8101a" stroke-width="0.4"/>
<path d="M454.34,203.65 A74.0,74.0 0 0 1 452.08,210.52 L438.08,205.14 A59,59 0 0 0 439.88,199.67 Z" fill="#b3cf3f" stroke="#a2c23a" stroke-width="0.4"/>
<path d="M452.08,210.52 A74.0,74.0 0 0 1 450.34,214.69 L436.69,208.47 A59,59 0 0 0 438.08,205.14 Z" fill="#3f7cc6" stroke="#3a70b4" stroke-width="0.4"/>
<path d="M450.34,214.69 A74.0,74.0 0 0 1 444.72,224.83 L432.21,216.55 A59,59 0 0 0 436.69,208.47 Z" fill="#b3cf3f" stroke="#a2c23a" stroke-width="0.4"/>
<path d="M444.72,224.83 A74.0,74.0 0 0 1 437.59,233.96 L426.53,223.83 A59,59 0 0 0 432.21,216.55 Z" fill="#b3cf3f" stroke="#a2c23a" stroke-width="0.4"/>
<path d="M437.59,233.96 A74.0,74.0 0 0 1 432.52,238.99 L422.48,227.85 A59,59 0 0 0 426.53,223.83 Z" fill="#b3cf3f" stroke="#a2c23a" stroke-width="0.4"/>
<path d="M432.52,238.99 A74.0,74.0 0 0 1 427.02,243.49 L418.09,231.43 A59,59 0 0 0 422.48,227.85 Z" fill="#e4e4e4" stroke="#d8d8d8" stroke-width="0.4"/>
<path d="M427.02,243.49 A74.0,74.0 0 0 1 421.78,247.02 L413.92,234.25 A59,59 0 0 0 418.09,231.43 Z" fill="#b3cf3f" stroke="#a2c23a" stroke-width="0.4"/>
<path d="M421.78,247.02 A74.0,74.0 0 0 1 416.86,249.80 L410.00,236.46 A59,59 0 0 0 413.92,234.25 Z" fill="#b3cf3f" stroke="#a2c23a" stroke-width="0.4"/>
<path d="M416.86,249.80 A74.0,74.0 0 0 1 411.31,252.37 L405.57,238.51 A59,59 0 0 0 410.00,236.46 Z" fill="#b3cf3f" stroke="#a2c23a" stroke-width="0.4"/>
<path d="M411.31,252.37 A74.0,74.0 0 0 1 407.18,253.94 L402.28,239.76 A59,59 0 0 0 405.57,238.51 Z" fill="#b3cf3f" stroke="#a2c23a" stroke-width="0.4"/>
<path d="M407.18,253.94 A74.0,74.0 0 0 1 400.90,255.80 L397.27,241.25 A59,59 0 0 0 402.28,239.76 Z" fill="#b3cf3f" stroke="#a2c23a" stroke-width="0.4"/>
<path d="M400.90,255.80 A74.0,74.0 0 0 1 397.12,256.64 L394.26,241.92 A59,59 0 0 0 397.27,241.25 Z" fill="#fdc20e" stroke="#eeb400" stroke-width="0.4"/>
<path d="M397.12,256.64 A74.0,74.0 0 0 1 393.30,257.28 L391.21,242.43 A59,59 0 0 0 394.26,241.92 Z" fill="#b3cf3f" stroke="#a2c23a" stroke-width="0.4"/>
<path d="M393.30,257.28 A74.0,74.0 0 0 1 386.46,257.92 L385.76,242.94 A59,59 0 0 0 391.21,242.43 Z" fill="#3f7cc6" stroke="#3a70b4" stroke-width="0.4"/>
<path d="M386.46,257.92 A74.0,74.0 0 0 1 377.19,257.77 L378.37,242.82 A59,59 0 0 0 385.76,242.94 Z" fill="#3f7cc6" stroke="#3a70b4" stroke-width="0.4"/>
<path d="M377.19,257.77 A74.0,74.0 0 0 1 375.26,257.59 L376.83,242.68 A59,59 0 0 0 378.37,242.82 Z" fill="#b3cf3f" stroke="#a2c23a" stroke-width="0.4"/>
<path d="M375.26,257.59 A74.0,74.0 0 0 1 371.42,257.09 L373.77,242.27 A59,59 0 0 0 376.83,242.68 Z" fill="#fdc20e" stroke="#eeb400" stroke-width="0.4"/>
<path d="M371.42,257.09 A74.0,74.0 0 0 1 366.02,256.03 L369.47,241.43 A59,59 0 0 0 373.77,242.27 Z" fill="#fdc20e" stroke="#eeb400" stroke-width="0.4"/>
<path d="M366.02,256.03 A74.0,74.0 0 0 1 362.60,255.13 L366.74,240.71 A59,59 0 0 0 369.47,241.43 Z" fill="#fdc20e" stroke="#eeb400" stroke-width="0.4"/>
<path d="M362.60,255.13 A74.0,74.0 0 0 1 355.49,252.70 L361.07,238.77 A59,59 0 0 0 366.74,240.71 Z" fill="#b3cf3f" stroke="#a2c23a" stroke-width="0.4"/>
<path d="M355.49,252.70 A74.0,74.0 0 0 1 345.22,247.63 L352.88,234.73 A59,59 0 0 0 361.07,238.77 Z" fill="#b3cf3f" stroke="#a2c23a" stroke-width="0.4"/>
<path d="M345.22,247.63 A74.0,74.0 0 0 1 339.41,243.80 L348.25,231.68 A59,59 0 0 0 352.88,234.73 Z" fill="#b3cf3f" stroke="#a2c23a" stroke-width="0.4"/>
<path d="M339.41,243.80 A74.0,74.0 0 0 1 335.91,241.08 L345.45,229.51 A59,59 0 0 0 348.25,231.68 Z" fill="#b3cf3f" stroke="#a2c23a" stroke-width="0.4"/>
<path d="M335.91,241.08 A74.0,74.0 0 0 1 329.50,235.12 L340.34,224.76 A59,59 0 0 0 345.45,229.51 Z" fill="#b3cf3f" stroke="#a2c23a" stroke-width="0.4"/>
<path d="M329.50,235.12 A74.0,74.0 0 0 1 323.15,227.52 L335.28,218.70 A59,59 0 0 0 340.34,224.76 Z" fill="#b3cf3f" stroke="#a2c23a" stroke-width="0.4"/>
<path d="M323.15,227.52 A74.0,74.0 0 0 1 321.65,225.38 L334.09,216.99 A59,59 0 0 0 335.28,218.70 Z" fill="#b3cf3f" stroke="#a2c23a" stroke-width="0.4"/>
<path d="M321.65,225.38 A74.0,74.0 0 0 1 319.22,221.53 L332.15,213.92 A59,59 0 0 0 334.09,216.99 Z" fill="#fdc20e" stroke="#eeb400" stroke-width="0.4"/>
<path d="M319.22,221.53 A74.0,74.0 0 0 1 316.20,215.84 L329.74,209.38 A59,59 0 0 0 332.15,213.92 Z" fill="#fdc20e" stroke="#eeb400" stroke-width="0.4"/>
<path d="M316.20,215.84 A74.0,74.0 0 0 1 315.40,214.10 L329.10,208.00 A59,59 0 0 0 329.74,209.38 Z" fill="#fdc20e" stroke="#eeb400" stroke-width="0.4"/>
<path d="M315.40,214.10 A74.0,74.0 0 0 1 312.03,204.96 L326.42,200.71 A59,59 0 0 0 329.10,208.00 Z" fill="#b3cf3f" stroke="#a2c23a" stroke-width="0.4"/>
<path d="M312.03,204.96 A74.0,74.0 0 0 1 311.87,204.40 L326.29,200.26 A59,59 0 0 0 326.42,200.71 Z" fill="#b3cf3f" stroke="#a2c23a" stroke-width="0.4"/>
<path d="M311.87,204.40 A74.0,74.0 0 0 1 310.49,198.78 L325.19,195.78 A59,59 0 0 0 326.29,200.26 Z" fill="#fdc20e" stroke="#eeb400" stroke-width="0.4"/>
<path d="M310.49,198.78 A74.0,74.0 0 0 1 309.71,194.19 L324.56,192.12 A59,59 0 0 0 325.19,195.78 Z" fill="#fdc20e" stroke="#eeb400" stroke-width="0.4"/>
<path d="M309.71,194.19 A74.0,74.0 0 0 1 309.23,189.88 L324.19,188.69 A59,59 0 0 0 324.56,192.12 Z" fill="#fdc20e" stroke="#eeb400" stroke-width="0.4"/>
<path d="M309.23,189.88 A74.0,74.0 0 0 1 309.18,189.16 L324.14,188.12 A59,59 0 0 0 324.19,188.69 Z" fill="#fdc20e" stroke="#eeb400" stroke-width="0.4"/>
<path d="M309.18,189.16 A74.0,74.0 0 0 1 309.00,183.91 L324.00,183.93 A59,59 0 0 0 324.14,188.12 Z" fill="#f2961c" stroke="#e08a10" stroke-width="0.4"/>
<path d="M309.00,183.91 A74.0,74.0 0 0 1 309.18,178.84 L324.14,179.88 A59,59 0 0 0 324.00,183.93 Z" fill="#f2961c" stroke="#e08a10" stroke-width="0.4"/>
<path d="M309.18,178.84 A74.0,74.0 0 0 1 310.05,171.55 L324.84,174.07 A59,59 0 0 0 324.14,179.88 Z" fill="#b3cf3f" stroke="#a2c23a" stroke-width="0.4"/>
<path d="M310.05,171.55 A74.0,74.0 0 0 1 311.14,166.31 L325.71,169.90 A59,59 0 0 0 324.84,174.07 Z" fill="#b3cf3f" stroke="#a2c23a" stroke-width="0.4"/>
<path d="M311.14,166.31 A74.0,74.0 0 0 1 313.46,158.69 L327.56,163.82 A59,59 0 0 0 325.71,169.90 Z" fill="#b3cf3f" stroke="#a2c23a" stroke-width="0.4"/>
<path d="M313.46,158.69 A74.0,74.0 0 0 1 315.29,154.15 L329.01,160.20 A59,59 0 0 0 327.56,163.82 Z" fill="#fdc20e" stroke="#eeb400" stroke-width="0.4"/>
<path d="M315.29,154.15 A74.0,74.0 0 0 1 319.34,146.28 L332.24,153.92 A59,59 0 0 0 329.01,160.20 Z" fill="#fdc20e" stroke="#eeb400" stroke-width="0.4"/>
<path d="M319.34,146.28 A74.0,74.0 0 0 1 321.90,142.25 L334.29,150.71 A59,59 0 0 0 332.24,153.92 Z" fill="#fdc20e" stroke="#eeb400" stroke-width="0.4"/>
<path d="M321.90,142.25 A74.0,74.0 0 0 1 326.21,136.56 L337.72,146.18 A59,59 0 0 0 334.29,150.71 Z" fill="#fdc20e" stroke="#eeb400" stroke-width="0.4"/>
<path d="M326.21,136.56 A74.0,74.0 0 0 1 329.90,132.46 L340.67,142.91 A59,59 0 0 0 337.72,146.18 Z" fill="#fdc20e" stroke="#eeb400" stroke-width="0.4"/>
<path d="M329.90,132.46 A74.0,74.0 0 0 1 331.60,130.77 L342.02,141.56 A59,59 0 0 0 340.67,142.91 Z" fill="#fdc20e" stroke="#eeb400" stroke-width="0.4"/>
<path d="M331.60,130.77 A74.0,74.0 0 0 1 340.37,123.51 L349.01,135.77 A59,59 0 0 0 342.02,141.56 Z" fill="#b3cf3f" stroke="#a2c23a" stroke-width="0.4"/>
<path d="M340.37,123.51 A74.0,74.0 0 0 1 349.00,118.27 L355.89,131.60 A59,59 0 0 0 349.01,135.77 Z" fill="#b3cf3f" stroke="#a2c23a" stroke-width="0.4"/>
<path d="M349.00,118.27 A74.0,74.0 0 0 1 354.09,115.88 L359.95,129.69 A59,59 0 0 0 355.89,131.60 Z" fill="#b3cf3f" stroke="#a2c23a" stroke-width="0.4"/>
<path d="M354.09,115.88 A74.0,74.0 0 0 1 355.04,115.49 L360.71,129.37 A59,59 0 0 0 359.95,129.69 Z" fill="#e0141f" stroke="#c8101a" stroke-width="0.4"/>
<path d="M355.04,115.49 A74.0,74.0 0 0 1 357.69,114.46 L362.82,128.56 A59,59 0 0 0 360.71,129.37 Z" fill="#b3cf3f" stroke="#a2c23a" stroke-width="0.4"/>
<path d="M352.90,101.31 A88.0,88.0 0 0 1 358.12,99.59 L362.08,113.02 A74,74 0 0 0 357.69,114.46 Z" fill="#b3cf3f" stroke="#a2c23a" stroke-width="0.4"/>
<path d="M358.12,99.59 A88.0,88.0 0 0 1 366.20,97.62 L368.87,111.36 A74,74 0 0 0 362.08,113.02 Z" fill="#b3cf3f" stroke="#a2c23a" stroke-width="0.4"/>
<path d="M366.20,97.62 A88.0,88.0 0 0 1 370.75,96.86 L372.70,110.72 A74,74 0 0 0 368.87,111.36 Z" fill="#b3cf3f" stroke="#a2c23a" stroke-width="0.4"/>
<path d="M370.75,96.86 A88.0,88.0 0 0 1 372.28,96.66 L373.98,110.55 A74,74 0 0 0 372.70,110.72 Z" fill="#e4e4e4" stroke="#d8d8d8" stroke-width="0.4"/>
<path d="M372.28,96.66 A88.0,88.0 0 0 1 378.39,96.12 L379.13,110.10 A74,74 0 0 0 373.98,110.55 Z" fill="#b3cf3f" stroke="#a2c23a" stroke-width="0.4"/>
<path d="M378.39,96.12 A88.0,88.0 0 0 1 379.93,96.05 L380.42,110.05 A74,74 0 0 0 379.13,110.10 Z" fill="#3f7cc6" stroke="#3a70b4" stroke-width="0.4"/>
<path d="M379.93,96.05 A88.0,88.0 0 0 1 384.59,96.01 L384.33,110.01 A74,74 0 0 0 380.42,110.05 Z" fill="#b3cf3f" stroke="#a2c23a" stroke-width="0.4"/>
<path d="M384.59,96.01 A88.0,88.0 0 0 1 392.39,96.50 L390.89,110.42 A74,74 0 0 0 384.33,110.01 Z" fill="#b3cf3f" stroke="#a2c23a" stroke-width="0.4"/>
<path d="M392.39,96.50 A88.0,88.0 0 0 1 397.43,97.19 L395.14,111.00 A74,74 0 0 0 390.89,110.42 Z" fill="#b3cf3f" stroke="#a2c23a" stroke-width="0.4"/>
<path d="M397.43,97.19 A88.0,88.0 0 0 1 402.23,98.13 L399.17,111.79 A74,74 0 0 0 395.14,111.00 Z" fill="#b3cf3f" stroke="#a2c23a" stroke-width="0.4"/>
<path d="M402.23,98.13 A88.0,88.0 0 0 1 405.66,98.97 L402.05,112.49 A74,74 0 0 0 399.17,111.79 Z" fill="#b3cf3f" stroke="#a2c23a" stroke-width="0.4"/>
<path d="M405.66,98.97 A88.0,88.0 0 0 1 405.78,99.00 L402.15,112.52 A74,74 0 0 0 402.05,112.49 Z" fill="#b3cf3f" stroke="#a2c23a" stroke-width="0.4"/>
<path d="M405.78,99.00 A88.0,88.0 0 0 1 409.46,100.07 L405.25,113.42 A74,74 0 0 0 402.15,112.52 Z" fill="#f2961c" stroke="#e08a10" stroke-width="0.4"/>
<path d="M409.46,100.07 A88.0,88.0 0 0 1 411.65,100.79 L407.09,114.03 A74,74 0 0 0 405.25,113.42 Z" fill="#f2961c" stroke="#e08a10" stroke-width="0.4"/>
<path d="M411.65,100.79 A88.0,88.0 0 0 1 414.54,101.84 L409.52,114.92 A74,74 0 0 0 407.09,114.03 Z" fill="#f2961c" stroke="#e08a10" stroke-width="0.4"/>
<path d="M414.54,101.84 A88.0,88.0 0 0 1 419.47,103.92 L413.67,116.66 A74,74 0 0 0 409.52,114.92 Z" fill="#b3cf3f" stroke="#a2c23a" stroke-width="0.4"/>
<path d="M419.47,103.92 A88.0,88.0 0 0 1 424.72,106.52 L418.08,118.84 A74,74 0 0 0 413.67,116.66 Z" fill="#b3cf3f" stroke="#a2c23a" stroke-width="0.4"/>
<path d="M424.72,106.52 A88.0,88.0 0 0 1 432.38,111.16 L424.53,122.75 A74,74 0 0 0 418.08,118.84 Z" fill="#b3cf3f" stroke="#a2c23a" stroke-width="0.4"/>
<path d="M432.38,111.16 A88.0,88.0 0 0 1 437.26,114.72 L428.63,125.74 A74,74 0 0 0 424.53,122.75 Z" fill="#b3cf3f" stroke="#a2c23a" stroke-width="0.4"/>
<path d="M437.26,114.72 A88.0,88.0 0 0 1 438.97,116.10 L430.07,126.90 A74,74 0 0 0 428.63,125.74 Z" fill="#b3cf3f" stroke="#a2c23a" stroke-width="0.4"/>
<path d="M438.97,116.10 A88.0,88.0 0 0 1 440.15,117.08 L431.06,127.73 A74,74 0 0 0 430.07,126.90 Z" fill="#3f7cc6" stroke="#3a70b4" stroke-width="0.4"/>
<path d="M440.15,117.08 A88.0,88.0 0 0 1 443.28,119.88 L433.69,130.08 A74,74 0 0 0 431.06,127.73 Z" fill="#b3cf3f" stroke="#a2c23a" stroke-width="0.4"/>
<path d="M443.28,119.88 A88.0,88.0 0 0 1 446.14,122.70 L436.09,132.45 A74,74 0 0 0 433.69,130.08 Z" fill="#b3cf3f" stroke="#a2c23a" stroke-width="0.4"/>
<path d="M446.14,122.70 A88.0,88.0 0 0 1 451.85,129.20 L440.90,137.92 A74,74 0 0 0 436.09,132.45 Z" fill="#b3cf3f" stroke="#a2c23a" stroke-width="0.4"/>
<path d="M451.85,129.20 A88.0,88.0 0 0 1 453.74,131.66 L442.49,139.98 A74,74 0 0 0 440.90,137.92 Z" fill="#b3cf3f" stroke="#a2c23a" stroke-width="0.4"/>
<path d="M453.74,131.66 A88.0,88.0 0 0 1 456.38,135.43 L444.71,143.15 A74,74 0 0 0 442.49,139.98 Z" fill="#3f7cc6" stroke="#3a70b4" stroke-width="0.4"/>
<path d="M456.38,135.43 A88.0,88.0 0 0 1 456.38,135.43 L444.71,143.16 A74,74 0 0 0 444.71,143.15 Z" fill="#3f7cc6" stroke="#3a70b4" stroke-width="0.4"/>
<path d="M456.38,135.43 A88.0,88.0 0 0 1 460.30,141.95 L448.01,148.64 A74,74 0 0 0 444.71,143.16 Z" fill="#b3cf3f" stroke="#a2c23a" stroke-width="0.4"/>
<path d="M460.30,141.95 A88.0,88.0 0 0 1 460.70,142.69 L448.34,149.26 A74,74 0 0 0 448.01,148.64 Z" fill="#b3cf3f" stroke="#a2c23a" stroke-width="0.4"/>
<path d="M460.70,142.69 A88.0,88.0 0 0 1 461.41,144.05 L448.93,150.40 A74,74 0 0 0 448.34,149.26 Z" fill="#e4e4e4" stroke="#d8d8d8" stroke-width="0.4"/>
<path d="M461.41,144.05 A88.0,88.0 0 0 1 464.30,150.32 L451.37,155.68 A74,74 0 0 0 448.93,150.40 Z" fill="#b3cf3f" stroke="#a2c23a" stroke-width="0.4"/>
<path d="M464.30,150.32 A88.0,88.0 0 0 1 464.88,151.75 L451.85,156.88 A74,74 0 0 0 451.37,155.68 Z" fill="#3f7cc6" stroke="#3a70b4" stroke-width="0.4"/>
<path d="M464.88,151.75 A88.0,88.0 0 0 1 467.12,158.15 L453.73,162.26 A74,74 0 0 0 451.85,156.88 Z" fill="#b3cf3f" stroke="#a2c23a" stroke-width="0.4"/>
<path d="M467.12,158.15 A88.0,88.0 0 0 1 468.60,163.61 L454.99,166.85 A74,74 0 0 0 453.73,162.26 Z" fill="#b3cf3f" stroke="#a2c23a" stroke-width="0.4"/>
<path d="M468.60,163.61 A88.0,88.0 0 0 1 469.39,167.23 L455.64,169.90 A74,74 0 0 0 454.99,166.85 Z" fill="#b3cf3f" stroke="#a2c23a" stroke-width="0.4"/>
<path d="M469.39,167.23 A88.0,88.0 0 0 1 469.96,170.49 L456.12,172.64 A74,74 0 0 0 455.64,169.90 Z" fill="#b3cf3f" stroke="#a2c23a" stroke-width="0.4"/>
<path d="M469.96,170.49 A88.0,88.0 0 0 1 470.59,175.57 L456.66,176.91 A74,74 0 0 0 456.12,172.64 Z" fill="#b3cf3f" stroke="#a2c23a" stroke-width="0.4"/>
<path d="M470.59,175.57 A88.0,88.0 0 0 1 470.72,176.94 L456.76,178.07 A74,74 0 0 0 456.66,176.91 Z" fill="#e0141f" stroke="#c8101a" stroke-width="0.4"/>
<path d="M470.72,176.94 A88.0,88.0 0 0 1 471.00,184.34 L457.00,184.28 A74,74 0 0 0 456.76,178.07 Z" fill="#b3cf3f" stroke="#a2c23a" stroke-width="0.4"/>
<path d="M471.00,184.34 A88.0,88.0 0 0 1 470.86,188.98 L456.88,188.19 A74,74 0 0 0 457.00,184.28 Z" fill="#b3cf3f" stroke="#a2c23a" stroke-width="0.4"/>
<path d="M470.86,188.98 A88.0,88.0 0 0 1 470.43,193.96 L456.52,192.38 A74,74 0 0 0 456.88,188.19 Z" fill="#b3cf3f" stroke="#a2c23a" stroke-width="0.4"/>
<path d="M470.43,193.96 A88.0,88.0 0 0 1 470.29,195.18 L456.40,193.40 A74,74 0 0 0 456.52,192.38 Z" fill="#e0141f" stroke="#c8101a" stroke-width="0.4"/>
<path d="M470.29,195.18 A88.0,88.0 0 0 1 469.53,200.00 L455.77,197.45 A74,74 0 0 0 456.40,193.40 Z" fill="#b3cf3f" stroke="#a2c23a" stroke-width="0.4"/>
<path d="M469.53,200.00 A88.0,88.0 0 0 1 468.68,204.06 L455.05,200.87 A74,74 0 0 0 455.77,197.45 Z" fill="#b3cf3f" stroke="#a2c23a" stroke-width="0.4"/>
<path d="M468.68,204.06 A88.0,88.0 0 0 1 468.20,206.03 L454.64,202.53 A74,74 0 0 0 455.05,200.87 Z" fill="#b3cf3f" stroke="#a2c23a" stroke-width="0.4"/>
<path d="M468.20,206.03 A88.0,88.0 0 0 1 467.84,207.37 L454.34,203.65 A74,74 0 0 0 454.64,202.53 Z" fill="#e0141f" stroke="#c8101a" stroke-width="0.4"/>
<path d="M467.84,207.37 A88.0,88.0 0 0 1 466.54,211.65 L453.25,207.25 A74,74 0 0 0 454.34,203.65 Z" fill="#b3cf3f" stroke="#a2c23a" stroke-width="0.4"/>
<path d="M466.54,211.65 A88.0,88.0 0 0 1 465.16,215.54 L452.08,210.52 A74,74 0 0 0 453.25,207.25 Z" fill="#b3cf3f" stroke="#a2c23a" stroke-width="0.4"/>
<path d="M465.16,215.54 A88.0,88.0 0 0 1 463.08,220.49 L450.34,214.69 A74,74 0 0 0 452.08,210.52 Z" fill="#3f7cc6" stroke="#3a70b4" stroke-width="0.4"/>
<path d="M463.08,220.49 A88.0,88.0 0 0 1 460.70,225.31 L448.34,218.74 A74,74 0 0 0 450.34,214.69 Z" fill="#b3cf3f" stroke="#a2c23a" stroke-width="0.4"/>
<path d="M460.70,225.31 A88.0,88.0 0 0 1 458.33,229.48 L446.35,222.25 A74,74 0 0 0 448.34,218.74 Z" fill="#fdc20e" stroke="#eeb400" stroke-width="0.4"/>
<path d="M458.33,229.48 A88.0,88.0 0 0 1 453.47,236.70 L442.26,228.32 A74,74 0 0 0 446.35,222.25 Z" fill="#fdc20e" stroke="#eeb400" stroke-width="0.4"/>
<path d="M453.47,236.70 A88.0,88.0 0 0 1 450.80,240.10 L440.01,231.18 A74,74 0 0 0 442.26,228.32 Z" fill="#fdc20e" stroke="#eeb400" stroke-width="0.4"/>
<path d="M450.80,240.10 A88.0,88.0 0 0 1 450.41,240.57 L439.69,231.57 A74,74 0 0 0 440.01,231.18 Z" fill="#fdc20e" stroke="#eeb400" stroke-width="0.4"/>
<path d="M450.41,240.57 A88.0,88.0 0 0 1 447.28,244.10 L437.05,234.54 A74,74 0 0 0 439.69,231.57 Z" fill="#b3cf3f" stroke="#a2c23a" stroke-width="0.4"/>
<path d="M447.28,244.10 A88.0,88.0 0 0 1 443.17,248.21 L433.60,238.00 A74,74 0 0 0 437.05,234.54 Z" fill="#b3cf3f" stroke="#a2c23a" stroke-width="0.4"/>
<path d="M443.17,248.21 A88.0,88.0 0 0 1 441.88,249.40 L432.52,238.99 A74,74 0 0 0 433.60,238.00 Z" fill="#b3cf3f" stroke="#a2c23a" stroke-width="0.4"/>
<path d="M441.88,249.40 A88.0,88.0 0 0 1 438.73,252.10 L429.87,241.27 A74,74 0 0 0 432.52,238.99 Z" fill="#e4e4e4" stroke="#d8d8d8" stroke-width="0.4"/>
<path d="M438.73,252.10 A88.0,88.0 0 0 1 435.34,254.74 L427.02,243.49 A74,74 0 0 0 429.87,241.27 Z" fill="#e4e4e4" stroke="#d8d8d8" stroke-width="0.4"/>
<path d="M435.34,254.74 A88.0,88.0 0 0 1 433.47,256.09 L425.44,244.62 A74,74 0 0 0 427.02,243.49 Z" fill="#b3cf3f" stroke="#a2c23a" stroke-width="0.4"/>
<path d="M433.47,256.09 A88.0,88.0 0 0 1 430.25,258.24 L422.73,246.43 A74,74 0 0 0 425.44,244.62 Z" fill="#fdc20e" stroke="#eeb400" stroke-width="0.4"/>
<path d="M430.25,258.24 A88.0,88.0 0 0 1 425.70,260.95 L418.90,248.71 A74,74 0 0 0 422.73,246.43 Z" fill="#fdc20e" stroke="#eeb400" stroke-width="0.4"/>
<path d="M425.70,260.95 A88.0,88.0 0 0 1 418.79,264.39 L413.10,251.60 A74,74 0 0 0 418.90,248.71 Z" fill="#fdc20e" stroke="#eeb400" stroke-width="0.4"/>
<path d="M418.79,264.39 A88.0,88.0 0 0 1 413.10,266.69 L408.31,253.54 A74,74 0 0 0 413.10,251.60 Z" fill="#b3cf3f" stroke="#a2c23a" stroke-width="0.4"/>
<path d="M413.10,266.69 A88.0,88.0 0 0 1 408.73,268.15 L404.64,254.77 A74,74 0 0 0 408.31,253.54 Z" fill="#fdc20e" stroke="#eeb400" stroke-width="0.4"/>
<path d="M408.73,268.15 A88.0,88.0 0 0 1 404.29,269.39 L400.90,255.80 A74,74 0 0 0 404.64,254.77 Z" fill="#b3cf3f" stroke="#a2c23a" stroke-width="0.4"/>
<path d="M404.29,269.39 A88.0,88.0 0 0 1 399.79,270.38 L397.12,256.64 A74,74 0 0 0 400.90,255.80 Z" fill="#fdc20e" stroke="#eeb400" stroke-width="0.4"/>
<path d="M399.79,270.38 A88.0,88.0 0 0 1 395.91,271.05 L393.86,257.20 A74,74 0 0 0 397.12,256.64 Z" fill="#b3cf3f" stroke="#a2c23a" stroke-width="0.4"/>
<path d="M395.91,271.05 A88.0,88.0 0 0 1 395.25,271.14 L393.30,257.28 A74,74 0 0 0 393.86,257.20 Z" fill="#b3cf3f" stroke="#a2c23a" stroke-width="0.4"/>
<path d="M395.25,271.14 A88.0,88.0 0 0 1 392.09,271.53 L390.64,257.60 A74,74 0 0 0 393.30,257.28 Z" fill="#3f7cc6" stroke="#3a70b4" stroke-width="0.4"/>
<path d="M392.09,271.53 A88.0,88.0 0 0 1 383.44,272.00 L383.37,258.00 A74,74 0 0 0 390.64,257.60 Z" fill="#3f7cc6" stroke="#3a70b4" stroke-width="0.4"/>
<path d="M383.44,272.00 A88.0,88.0 0 0 1 376.10,271.73 L377.19,257.77 A74,74 0 0 0 383.37,258.00 Z" fill="#3f7cc6" stroke="#3a70b4" stroke-width="0.4"/>
<path d="M376.10,271.73 A88.0,88.0 0 0 1 369.99,271.03 L372.06,257.19 A74,74 0 0 0 377.19,257.77 Z" fill="#b3cf3f" stroke="#a2c23a" stroke-width="0.4"/>
<path d="M369.99,271.03 A88.0,88.0 0 0 1 368.48,270.79 L370.79,256.99 A74,74 0 0 0 372.06,257.19 Z" fill="#fdc20e" stroke="#eeb400" stroke-width="0.4"/>
<path d="M368.48,270.79 A88.0,88.0 0 0 1 365.00,270.14 L367.87,256.44 A74,74 0 0 0 370.79,256.99 Z" fill="#b3cf3f" stroke="#a2c23a" stroke-width="0.4"/>
<path d="M365.00,270.14 A88.0,88.0 0 0 1 363.20,269.74 L366.35,256.10 A74,74 0 0 0 367.87,256.44 Z" fill="#fdc20e" stroke="#eeb400" stroke-width="0.4"/>
<path d="M363.20,269.74 A88.0,88.0 0 0 1 355.92,267.73 L360.23,254.41 A74,74 0 0 0 366.35,256.10 Z" fill="#b3cf3f" stroke="#a2c23a" stroke-width="0.4"/>
<path d="M355.92,267.73 A88.0,88.0 0 0 1 352.90,266.69 L357.69,253.54 A74,74 0 0 0 360.23,254.41 Z" fill="#b3cf3f" stroke="#a2c23a" stroke-width="0.4"/>
<path d="M352.90,266.69 A88.0,88.0 0 0 1 351.46,266.16 L356.48,253.08 A74,74 0 0 0 357.69,253.54 Z" fill="#3f7cc6" stroke="#3a70b4" stroke-width="0.4"/>
<path d="M351.46,266.16 A88.0,88.0 0 0 1 348.19,264.82 L353.73,251.96 A74,74 0 0 0 356.48,253.08 Z" fill="#b3cf3f" stroke="#a2c23a" stroke-width="0.4"/>
<path d="M348.19,264.82 A88.0,88.0 0 0 1 342.39,262.07 L348.85,249.65 A74,74 0 0 0 353.73,251.96 Z" fill="#b3cf3f" stroke="#a2c23a" stroke-width="0.4"/>
<path d="M342.39,262.07 A88.0,88.0 0 0 1 339.00,260.21 L346.00,248.09 A74,74 0 0 0 348.85,249.65 Z" fill="#b3cf3f" stroke="#a2c23a" stroke-width="0.4"/>
<path d="M339.00,260.21 A88.0,88.0 0 0 1 337.68,259.43 L344.89,247.43 A74,74 0 0 0 346.00,248.09 Z" fill="#3f7cc6" stroke="#3a70b4" stroke-width="0.4"/>
<path d="M337.68,259.43 A88.0,88.0 0 0 1 331.34,255.24 L339.56,243.91 A74,74 0 0 0 344.89,247.43 Z" fill="#b3cf3f" stroke="#a2c23a" stroke-width="0.4"/>
<path d="M331.34,255.24 A88.0,88.0 0 0 1 325.54,250.65 L334.68,240.05 A74,74 0 0 0 339.56,243.91 Z" fill="#b3cf3f" stroke="#a2c23a" stroke-width="0.4"/>
<path d="M325.54,250.65 A88.0,88.0 0 0 1 319.77,245.20 L329.83,235.46 A74,74 0 0 0 334.68,240.05 Z" fill="#b3cf3f" stroke="#a2c23a" stroke-width="0.4"/>
<path d="M319.77,245.20 A88.0,88.0 0 0 1 314.04,238.67 L325.01,229.97 A74,74 0 0 0 329.83,235.46 Z" fill="#b3cf3f" stroke="#a2c23a" stroke-width="0.4"/>
<path d="M314.04,238.67 A88.0,88.0 0 0 1 310.91,234.47 L322.38,226.44 A74,74 0 0 0 325.01,229.97 Z" fill="#b3cf3f" stroke="#a2c23a" stroke-width="0.4"/>
<path d="M310.91,234.47 A88.0,88.0 0 0 1 306.99,228.34 L319.08,221.29 A74,74 0 0 0 322.38,226.44 Z" fill="#b3cf3f" stroke="#a2c23a" stroke-width="0.4"/>
<path d="M306.99,228.34 A88.0,88.0 0 0 1 303.91,222.58 L316.49,216.44 A74,74 0 0 0 319.08,221.29 Z" fill="#b3cf3f" stroke="#a2c23a" stroke-width="0.4"/>
<path d="M303.91,222.58 A88.0,88.0 0 0 1 302.00,218.38 L314.88,212.91 A74,74 0 0 0 316.49,216.44 Z" fill="#f2961c" stroke="#e08a10" stroke-width="0.4"/>
<path d="M302.00,218.38 A88.0,88.0 0 0 1 299.96,213.13 L313.17,208.50 A74,74 0 0 0 314.88,212.91 Z" fill="#b3cf3f" stroke="#a2c23a" stroke-width="0.4"/>
<path d="M299.96,213.13 A88.0,88.0 0 0 1 297.68,205.54 L311.25,202.11 A74,74 0 0 0 313.17,208.50 Z" fill="#b3cf3f" stroke="#a2c23a" stroke-width="0.4"/>
<path d="M297.68,205.54 A88.0,88.0 0 0 1 296.02,197.33 L309.85,195.21 A74,74 0 0 0 311.25,202.11 Z" fill="#b3cf3f" stroke="#a2c23a" stroke-width="0.4"/>
<path d="M296.02,197.33 A88.0,88.0 0 0 1 295.26,190.79 L309.22,189.71 A74,74 0 0 0 309.85,195.21 Z" fill="#b3cf3f" stroke="#a2c23a" stroke-width="0.4"/>
<path d="M295.26,190.79 A88.0,88.0 0 0 1 295.00,183.88 L309.00,183.90 A74,74 0 0 0 309.22,189.71 Z" fill="#b3cf3f" stroke="#a2c23a" stroke-width="0.4"/>
<path d="M295.00,183.88 A88.0,88.0 0 0 1 295.17,178.47 L309.15,179.35 A74,74 0 0 0 309.00,183.90 Z" fill="#b3cf3f" stroke="#a2c23a" stroke-width="0.4"/>
<path d="M295.17,178.47 A88.0,88.0 0 0 1 295.84,171.85 L309.71,173.78 A74,74 0 0 0 309.15,179.35 Z" fill="#b3cf3f" stroke="#a2c23a" stroke-width="0.4"/>
<path d="M295.84,171.85 A88.0,88.0 0 0 1 297.04,165.15 L310.72,168.15 A74,74 0 0 0 309.71,173.78 Z" fill="#b3cf3f" stroke="#a2c23a" stroke-width="0.4"/>
<path d="M297.04,165.15 A88.0,88.0 0 0 1 297.88,161.68 L311.42,165.23 A74,74 0 0 0 310.72,168.15 Z" fill="#b3cf3f" stroke="#a2c23a" stroke-width="0.4"/>
<path d="M297.88,161.68 A88.0,88.0 0 0 1 299.92,154.99 L313.14,159.60 A74,74 0 0 0 311.42,165.23 Z" fill="#b3cf3f" stroke="#a2c23a" stroke-width="0.4"/>
<path d="M299.92,154.99 A88.0,88.0 0 0 1 303.24,146.81 L315.93,152.73 A74,74 0 0 0 313.14,159.60 Z" fill="#b3cf3f" stroke="#a2c23a" stroke-width="0.4"/>
<path d="M303.24,146.81 A88.0,88.0 0 0 1 307.19,139.31 L319.25,146.42 A74,74 0 0 0 315.93,152.73 Z" fill="#fdc20e" stroke="#eeb400" stroke-width="0.4"/>
<path d="M307.19,139.31 A88.0,88.0 0 0 1 310.04,134.79 L321.65,142.62 A74,74 0 0 0 319.25,146.42 Z" fill="#fdc20e" stroke="#eeb400" stroke-width="0.4"/>
<path d="M310.04,134.79 A88.0,88.0 0 0 1 313.24,130.36 L324.33,138.90 A74,74 0 0 0 321.65,142.62 Z" fill="#b3cf3f" stroke="#a2c23a" stroke-width="0.4"/>
<path d="M313.24,130.36 A88.0,88.0 0 0 1 318.11,124.55 L328.44,134.01 A74,74 0 0 0 324.33,138.90 Z" fill="#b3cf3f" stroke="#a2c23a" stroke-width="0.4"/>
<path d="M318.11,124.55 A88.0,88.0 0 0 1 322.78,119.83 L332.36,130.04 A74,74 0 0 0 328.44,134.01 Z" fill="#b3cf3f" stroke="#a2c23a" stroke-width="0.4"/>
<path d="M322.78,119.83 A88.0,88.0 0 0 1 327.12,116.02 L336.01,126.83 A74,74 0 0 0 332.36,130.04 Z" fill="#b3cf3f" stroke="#a2c23a" stroke-width="0.4"/>
<path d="M327.12,116.02 A88.0,88.0 0 0 1 332.53,111.91 L340.56,123.38 A74,74 0 0 0 336.01,126.83 Z" fill="#b3cf3f" stroke="#a2c23a" stroke-width="0.4"/>
<path d="M332.53,111.91 A88.0,88.0 0 0 1 333.79,111.04 L341.62,122.65 A74,74 0 0 0 340.56,123.38 Z" fill="#3f7cc6" stroke="#3a70b4" stroke-width="0.4"/>
<path d="M333.79,111.04 A88.0,88.0 0 0 1 340.34,107.03 L347.13,119.28 A74,74 0 0 0 341.62,122.65 Z" fill="#b3cf3f" stroke="#a2c23a" stroke-width="0.4"/>
<path d="M340.34,107.03 A88.0,88.0 0 0 1 343.05,105.59 L349.40,118.07 A74,74 0 0 0 347.13,119.28 Z" fill="#b3cf3f" stroke="#a2c23a" stroke-width="0.4"/>
<path d="M343.05,105.59 A88.0,88.0 0 0 1 344.42,104.91 L350.56,117.49 A74,74 0 0 0 349.40,118.07 Z" fill="#3f7cc6" stroke="#3a70b4" stroke-width="0.4"/>
<path d="M344.42,104.91 A88.0,88.0 0 0 1 348.62,103.00 L354.09,115.88 A74,74 0 0 0 350.56,117.49 Z" fill="#b3cf3f" stroke="#a2c23a" stroke-width="0.4"/>
<path d="M348.62,103.00 A88.0,88.0 0 0 1 349.75,102.52 L355.04,115.49 A74,74 0 0 0 354.09,115.88 Z" fill="#e0141f" stroke="#c8101a" stroke-width="0.4"/>
<path d="M349.75,102.52 A88.0,88.0 0 0 1 352.90,101.31 L357.69,114.46 A74,74 0 0 0 355.04,115.49 Z" fill="#b3cf3f" stroke="#a2c23a" stroke-width="0.4"/>
<path d="M348.64,89.60 A100.5,100.5 0 0 1 351.03,88.76 L355.00,100.57 A88,88 0 0 0 352.90,101.31 Z" fill="#b3cf3f" stroke="#a2c23a" stroke-width="0.3"/>
<path d="M347.74,78.95 A110.8,110.8 0 0 1 349.51,78.37 L356.40,100.12 A88,88 0 0 0 355.00,100.57 Z" fill="#b3cf3f" stroke="#a2c23a" stroke-width="0.3"/>
<path d="M352.09,86.50 A102.3,102.3 0 0 1 353.83,85.96 L357.90,99.66 A88,88 0 0 0 356.40,100.12 Z" fill="#b3cf3f" stroke="#a2c23a" stroke-width="0.3"/>
<path d="M351.94,79.62 A108.9,108.9 0 0 1 354.76,78.83 L360.18,99.01 A88,88 0 0 0 357.90,99.66 Z" fill="#b3cf3f" stroke="#a2c23a" stroke-width="0.3"/>
<path d="M354.78,78.91 A108.8,108.8 0 0 1 356.66,78.42 L361.70,98.62 A88,88 0 0 0 360.18,99.01 Z" fill="#b3cf3f" stroke="#a2c23a" stroke-width="0.3"/>
<path d="M356.12,76.28 A111.0,111.0 0 0 1 359.15,75.57 L364.10,98.05 A88,88 0 0 0 361.70,98.62 Z" fill="#b3cf3f" stroke="#a2c23a" stroke-width="0.3"/>
<path d="M359.20,75.77 A110.8,110.8 0 0 1 361.38,75.31 L365.83,97.69 A88,88 0 0 0 364.10,98.05 Z" fill="#b3cf3f" stroke="#a2c23a" stroke-width="0.3"/>
<path d="M363.91,88.04 A97.8,97.8 0 0 1 366.98,87.47 L368.60,97.19 A88,88 0 0 0 365.83,97.69 Z" fill="#b3cf3f" stroke="#a2c23a" stroke-width="0.3"/>
<path d="M364.94,75.13 A110.4,110.4 0 0 1 365.04,75.11 L368.68,97.17 A88,88 0 0 0 368.60,97.19 Z" fill="#b3cf3f" stroke="#a2c23a" stroke-width="0.3"/>
<path d="M365.37,77.11 A108.3,108.3 0 0 1 368.02,76.70 L370.83,96.84 A88,88 0 0 0 368.68,97.17 Z" fill="#b3cf3f" stroke="#a2c23a" stroke-width="0.3"/>
<path d="M369.72,88.88 A96.0,96.0 0 0 1 372.72,88.51 L373.58,96.51 A88,88 0 0 0 370.83,96.84 Z" fill="#e4e4e4" stroke="#d8d8d8" stroke-width="0.3"/>
<path d="M371.40,76.29 A108.3,108.3 0 0 1 373.47,76.08 L375.26,96.34 A88,88 0 0 0 373.58,96.51 Z" fill="#b3cf3f" stroke="#a2c23a" stroke-width="0.3"/>
<path d="M372.72,67.65 A116.8,116.8 0 0 1 374.75,67.49 L376.79,96.22 A88,88 0 0 0 375.26,96.34 Z" fill="#b3cf3f" stroke="#a2c23a" stroke-width="0.3"/>
<path d="M375.11,72.49 A111.8,111.8 0 0 1 376.51,72.40 L377.89,96.15 A88,88 0 0 0 376.79,96.22 Z" fill="#b3cf3f" stroke="#a2c23a" stroke-width="0.3"/>
<path d="M376.10,65.30 A118.9,118.9 0 0 1 379.30,65.15 L380.26,96.04 A88,88 0 0 0 377.89,96.15 Z" fill="#3f7cc6" stroke="#3a70b4" stroke-width="0.3"/>
<path d="M379.33,65.92 A118.1,118.1 0 0 1 383.11,65.86 L383.08,96.00 A88,88 0 0 0 380.26,96.04 Z" fill="#b3cf3f" stroke="#a2c23a" stroke-width="0.3"/>
<path d="M383.10,72.39 A111.6,111.6 0 0 1 383.95,72.39 L383.75,96.00 A88,88 0 0 0 383.08,96.00 Z" fill="#b3cf3f" stroke="#a2c23a" stroke-width="0.3"/>
<path d="M383.98,68.49 A115.5,115.5 0 0 1 385.31,68.51 L384.76,96.02 A88,88 0 0 0 383.75,96.00 Z" fill="#b3cf3f" stroke="#a2c23a" stroke-width="0.3"/>
<path d="M385.29,69.78 A114.2,114.2 0 0 1 388.98,69.92 L387.61,96.12 A88,88 0 0 0 384.76,96.02 Z" fill="#b3cf3f" stroke="#a2c23a" stroke-width="0.3"/>
<path d="M389.01,69.35 A114.8,114.8 0 0 1 392.02,69.55 L389.91,96.27 A88,88 0 0 0 387.61,96.12 Z" fill="#b3cf3f" stroke="#a2c23a" stroke-width="0.3"/>
<path d="M392.00,69.78 A114.6,114.6 0 0 1 392.86,69.85 L390.57,96.33 A88,88 0 0 0 389.91,96.27 Z" fill="#b3cf3f" stroke="#a2c23a" stroke-width="0.3"/>
<path d="M393.68,60.30 A124.2,124.2 0 0 1 396.55,60.58 L392.60,96.53 A88,88 0 0 0 390.57,96.33 Z" fill="#b3cf3f" stroke="#a2c23a" stroke-width="0.3"/>
<path d="M394.64,77.99 A106.6,106.6 0 0 1 397.25,78.31 L394.76,96.79 A88,88 0 0 0 392.60,96.53 Z" fill="#b3cf3f" stroke="#a2c23a" stroke-width="0.3"/>
<path d="M397.46,76.75 A108.2,108.2 0 0 1 398.74,76.93 L395.80,96.94 A88,88 0 0 0 394.76,96.79 Z" fill="#b3cf3f" stroke="#a2c23a" stroke-width="0.3"/>
<path d="M399.55,71.42 A113.8,113.8 0 0 1 400.79,71.61 L396.75,97.08 A88,88 0 0 0 395.80,96.94 Z" fill="#b3cf3f" stroke="#a2c23a" stroke-width="0.3"/>
<path d="M400.95,70.59 A114.8,114.8 0 0 1 402.83,70.91 L398.20,97.32 A88,88 0 0 0 396.75,97.08 Z" fill="#b3cf3f" stroke="#a2c23a" stroke-width="0.3"/>
<path d="M402.76,71.27 A114.4,114.4 0 0 1 404.94,71.68 L399.87,97.63 A88,88 0 0 0 398.20,97.32 Z" fill="#b3cf3f" stroke="#a2c23a" stroke-width="0.3"/>
<path d="M403.38,79.66 A106.3,106.3 0 0 1 405.24,80.04 L401.41,97.95 A88,88 0 0 0 399.87,97.63 Z" fill="#b3cf3f" stroke="#a2c23a" stroke-width="0.3"/>
<path d="M406.94,72.09 A114.4,114.4 0 0 1 407.72,72.26 L402.01,98.08 A88,88 0 0 0 401.41,97.95 Z" fill="#b3cf3f" stroke="#a2c23a" stroke-width="0.3"/>
<path d="M405.47,82.43 A104.0,104.0 0 0 1 408.26,83.09 L404.37,98.63 A88,88 0 0 0 402.01,98.08 Z" fill="#b3cf3f" stroke="#a2c23a" stroke-width="0.3"/>
<path d="M406.93,88.42 A98.5,98.5 0 0 1 409.86,89.20 L406.99,99.33 A88,88 0 0 0 404.37,98.63 Z" fill="#b3cf3f" stroke="#a2c23a" stroke-width="0.3"/>
<path d="M410.39,87.33 A100.5,100.5 0 0 1 410.54,87.38 L407.12,99.37 A88,88 0 0 0 406.99,99.33 Z" fill="#f2961c" stroke="#e08a10" stroke-width="0.3"/>
<path d="M411.59,83.69 A104.3,104.3 0 0 1 414.68,84.63 L409.73,100.16 A88,88 0 0 0 407.12,99.37 Z" fill="#f2961c" stroke="#e08a10" stroke-width="0.3"/>
<path d="M413.07,89.68 A99.0,99.0 0 0 1 415.53,90.50 L411.91,100.89 A88,88 0 0 0 409.73,100.16 Z" fill="#f2961c" stroke="#e08a10" stroke-width="0.3"/>
<path d="M417.34,85.27 A104.5,104.5 0 0 1 420.28,86.34 L414.38,101.79 A88,88 0 0 0 411.91,100.89 Z" fill="#f2961c" stroke="#e08a10" stroke-width="0.3"/>
<path d="M419.23,89.10 A101.6,101.6 0 0 1 419.55,89.22 L414.66,101.89 A88,88 0 0 0 414.38,101.79 Z" fill="#f2961c" stroke="#e08a10" stroke-width="0.3"/>
<path d="M421.86,83.22 A108.0,108.0 0 0 1 423.98,84.06 L416.38,102.58 A88,88 0 0 0 414.66,101.89 Z" fill="#b3cf3f" stroke="#a2c23a" stroke-width="0.3"/>
<path d="M428.01,74.23 A118.6,118.6 0 0 1 431.38,75.67 L418.89,103.65 A88,88 0 0 0 416.38,102.58 Z" fill="#b3cf3f" stroke="#a2c23a" stroke-width="0.3"/>
<path d="M430.92,76.70 A117.5,117.5 0 0 1 432.93,77.62 L420.39,104.34 A88,88 0 0 0 418.89,103.65 Z" fill="#b3cf3f" stroke="#a2c23a" stroke-width="0.3"/>
<path d="M433.57,76.25 A119.0,119.0 0 0 1 435.45,77.15 L421.78,105.00 A88,88 0 0 0 420.39,104.34 Z" fill="#b3cf3f" stroke="#a2c23a" stroke-width="0.3"/>
<path d="M435.58,76.89 A119.3,119.3 0 0 1 438.50,78.37 L423.93,106.10 A88,88 0 0 0 421.78,105.00 Z" fill="#b3cf3f" stroke="#a2c23a" stroke-width="0.3"/>
<path d="M435.10,84.83 A112.0,112.0 0 0 1 436.87,85.78 L425.32,106.85 A88,88 0 0 0 423.93,106.10 Z" fill="#b3cf3f" stroke="#a2c23a" stroke-width="0.3"/>
<path d="M431.28,95.98 A100.4,100.4 0 0 1 434.20,97.64 L427.88,108.30 A88,88 0 0 0 425.32,106.85 Z" fill="#b3cf3f" stroke="#a2c23a" stroke-width="0.3"/>
<path d="M435.70,95.11 A103.3,103.3 0 0 1 437.65,96.30 L429.54,109.31 A88,88 0 0 0 427.88,108.30 Z" fill="#b3cf3f" stroke="#a2c23a" stroke-width="0.3"/>
<path d="M441.59,89.97 A110.8,110.8 0 0 1 444.43,91.80 L431.79,110.76 A88,88 0 0 0 429.54,109.31 Z" fill="#b3cf3f" stroke="#a2c23a" stroke-width="0.3"/>
<path d="M452.67,79.43 A125.7,125.7 0 0 1 454.57,80.72 L433.13,111.67 A88,88 0 0 0 431.79,110.76 Z" fill="#b3cf3f" stroke="#a2c23a" stroke-width="0.3"/>
<path d="M441.87,99.05 A103.4,103.4 0 0 1 443.31,100.07 L434.35,112.54 A88,88 0 0 0 433.13,111.67 Z" fill="#b3cf3f" stroke="#a2c23a" stroke-width="0.3"/>
<path d="M440.57,103.88 A98.7,98.7 0 0 1 442.90,105.61 L436.43,114.08 A88,88 0 0 0 434.35,112.54 Z" fill="#b3cf3f" stroke="#a2c23a" stroke-width="0.3"/>
<path d="M440.84,108.31 A95.3,95.3 0 0 1 441.76,109.02 L437.28,114.73 A88,88 0 0 0 436.43,114.08 Z" fill="#b3cf3f" stroke="#a2c23a" stroke-width="0.3"/>
<path d="M446.40,103.09 A102.8,102.8 0 0 1 447.87,104.25 L438.53,115.73 A88,88 0 0 0 437.28,114.73 Z" fill="#b3cf3f" stroke="#a2c23a" stroke-width="0.3"/>
<path d="M447.94,104.16 A102.9,102.9 0 0 1 449.90,105.79 L440.20,117.13 A88,88 0 0 0 438.53,115.73 Z" fill="#3f7cc6" stroke="#3a70b4" stroke-width="0.3"/>
<path d="M450.23,105.41 A103.4,103.4 0 0 1 451.29,106.32 L441.10,117.91 A88,88 0 0 0 440.20,117.13 Z" fill="#b3cf3f" stroke="#a2c23a" stroke-width="0.3"/>
<path d="M450.64,107.06 A102.4,102.4 0 0 1 451.41,107.75 L441.77,118.50 A88,88 0 0 0 441.10,117.91 Z" fill="#b3cf3f" stroke="#a2c23a" stroke-width="0.3"/>
<path d="M457.91,100.51 A112.2,112.2 0 0 1 460.03,102.46 L443.43,120.03 A88,88 0 0 0 441.77,118.50 Z" fill="#b3cf3f" stroke="#a2c23a" stroke-width="0.3"/>
<path d="M460.01,102.48 A112.1,112.1 0 0 1 462.23,104.64 L445.18,121.73 A88,88 0 0 0 443.43,120.03 Z" fill="#b3cf3f" stroke="#a2c23a" stroke-width="0.3"/>
<path d="M457.20,109.68 A105.0,105.0 0 0 1 458.42,110.91 L446.19,122.76 A88,88 0 0 0 445.18,121.73 Z" fill="#b3cf3f" stroke="#a2c23a" stroke-width="0.3"/>
<path d="M464.39,105.13 A113.3,113.3 0 0 1 466.02,106.84 L447.46,124.09 A88,88 0 0 0 446.19,122.76 Z" fill="#b3cf3f" stroke="#a2c23a" stroke-width="0.3"/>
<path d="M465.85,107.00 A113.1,113.1 0 0 1 467.83,109.19 L449.00,125.80 A88,88 0 0 0 447.46,124.09 Z" fill="#b3cf3f" stroke="#a2c23a" stroke-width="0.3"/>
<path d="M475.78,102.19 A123.7,123.7 0 0 1 478.36,105.22 L450.84,127.95 A88,88 0 0 0 449.00,125.80 Z" fill="#b3cf3f" stroke="#a2c23a" stroke-width="0.3"/>
<path d="M474.08,108.75 A118.1,118.1 0 0 1 475.24,110.19 L451.71,129.02 A88,88 0 0 0 450.84,127.95 Z" fill="#b3cf3f" stroke="#a2c23a" stroke-width="0.3"/>
<path d="M487.59,100.31 A133.9,133.9 0 0 1 490.21,103.70 L453.43,131.24 A88,88 0 0 0 451.71,129.02 Z" fill="#b3cf3f" stroke="#a2c23a" stroke-width="0.3"/>
<path d="M457.90,127.90 A93.6,93.6 0 0 1 458.65,128.91 L454.14,132.20 A88,88 0 0 0 453.43,131.24 Z" fill="#3f7cc6" stroke="#3a70b4" stroke-width="0.3"/>
<path d="M456.56,130.43 A91.0,91.0 0 0 1 458.33,132.94 L455.84,134.62 A88,88 0 0 0 454.14,132.20 Z" fill="#3f7cc6" stroke="#3a70b4" stroke-width="0.3"/>
<path d="M460.19,131.68 A93.3,93.3 0 0 1 461.37,133.46 L456.96,136.31 A88,88 0 0 0 455.84,134.62 Z" fill="#b3cf3f" stroke="#a2c23a" stroke-width="0.3"/>
<path d="M459.94,134.39 A91.6,91.6 0 0 1 460.62,135.46 L457.61,137.34 A88,88 0 0 0 456.96,136.31 Z" fill="#b3cf3f" stroke="#a2c23a" stroke-width="0.3"/>
<path d="M481.69,122.28 A116.4,116.4 0 0 1 482.70,123.93 L458.37,138.58 A88,88 0 0 0 457.61,137.34 Z" fill="#b3cf3f" stroke="#a2c23a" stroke-width="0.3"/>
<path d="M482.21,124.22 A115.8,115.8 0 0 1 483.36,126.16 L459.24,140.06 A88,88 0 0 0 458.37,138.58 Z" fill="#b3cf3f" stroke="#a2c23a" stroke-width="0.3"/>
<path d="M483.59,126.03 A116.1,116.1 0 0 1 484.31,127.29 L459.79,141.01 A88,88 0 0 0 459.24,140.06 Z" fill="#b3cf3f" stroke="#a2c23a" stroke-width="0.3"/>
<path d="M483.54,127.72 A115.2,115.2 0 0 1 485.11,130.63 L460.99,143.24 A88,88 0 0 0 459.79,141.01 Z" fill="#b3cf3f" stroke="#a2c23a" stroke-width="0.3"/>
<path d="M485.93,130.20 A116.1,116.1 0 0 1 487.35,132.99 L462.06,145.35 A88,88 0 0 0 460.99,143.24 Z" fill="#b3cf3f" stroke="#a2c23a" stroke-width="0.3"/>
<path d="M486.49,133.41 A115.2,115.2 0 0 1 487.35,135.22 L462.72,146.74 A88,88 0 0 0 462.06,145.35 Z" fill="#b3cf3f" stroke="#a2c23a" stroke-width="0.3"/>
<path d="M484.97,136.34 A112.6,112.6 0 0 1 486.26,139.22 L463.73,148.99 A88,88 0 0 0 462.72,146.74 Z" fill="#b3cf3f" stroke="#a2c23a" stroke-width="0.3"/>
<path d="M493.67,136.00 A120.6,120.6 0 0 1 494.53,138.02 L464.36,150.46 A88,88 0 0 0 463.73,148.99 Z" fill="#b3cf3f" stroke="#a2c23a" stroke-width="0.3"/>
<path d="M495.66,137.55 A121.9,121.9 0 0 1 496.47,139.55 L464.94,151.90 A88,88 0 0 0 464.36,150.46 Z" fill="#3f7cc6" stroke="#3a70b4" stroke-width="0.3"/>
<path d="M488.69,142.60 A113.5,113.5 0 0 1 489.69,145.23 L465.71,153.94 A88,88 0 0 0 464.94,151.90 Z" fill="#b3cf3f" stroke="#a2c23a" stroke-width="0.3"/>
<path d="M496.23,142.85 A120.5,120.5 0 0 1 497.02,145.10 L466.29,155.59 A88,88 0 0 0 465.71,153.94 Z" fill="#b3cf3f" stroke="#a2c23a" stroke-width="0.3"/>
<path d="M496.95,145.13 A120.4,120.4 0 0 1 497.80,147.69 L466.90,157.46 A88,88 0 0 0 466.29,155.59 Z" fill="#b3cf3f" stroke="#a2c23a" stroke-width="0.3"/>
<path d="M497.93,147.65 A120.5,120.5 0 0 1 498.99,151.17 L467.67,160.04 A88,88 0 0 0 466.90,157.46 Z" fill="#b3cf3f" stroke="#a2c23a" stroke-width="0.3"/>
<path d="M498.59,151.28 A120.1,120.1 0 0 1 499.56,154.93 L468.38,162.71 A88,88 0 0 0 467.67,160.04 Z" fill="#b3cf3f" stroke="#a2c23a" stroke-width="0.3"/>
<path d="M499.13,155.04 A119.7,119.7 0 0 1 499.74,157.59 L468.83,164.58 A88,88 0 0 0 468.38,162.71 Z" fill="#b3cf3f" stroke="#a2c23a" stroke-width="0.3"/>
<path d="M495.35,158.58 A115.2,115.2 0 0 1 495.69,160.13 L469.09,165.77 A88,88 0 0 0 468.83,164.58 Z" fill="#b3cf3f" stroke="#a2c23a" stroke-width="0.3"/>
<path d="M496.58,159.94 A116.1,116.1 0 0 1 497.28,163.53 L469.62,168.48 A88,88 0 0 0 469.09,165.77 Z" fill="#b3cf3f" stroke="#a2c23a" stroke-width="0.3"/>
<path d="M491.99,164.48 A110.7,110.7 0 0 1 492.32,166.45 L469.89,170.05 A88,88 0 0 0 469.62,168.48 Z" fill="#b3cf3f" stroke="#a2c23a" stroke-width="0.3"/>
<path d="M496.07,165.85 A114.5,114.5 0 0 1 496.28,167.26 L470.05,171.13 A88,88 0 0 0 469.89,170.05 Z" fill="#b3cf3f" stroke="#a2c23a" stroke-width="0.3"/>
<path d="M493.39,167.68 A111.6,111.6 0 0 1 493.72,170.02 L470.31,172.98 A88,88 0 0 0 470.05,171.13 Z" fill="#b3cf3f" stroke="#a2c23a" stroke-width="0.3"/>
<path d="M487.83,170.76 A105.7,105.7 0 0 1 488.21,174.32 L470.63,175.93 A88,88 0 0 0 470.31,172.98 Z" fill="#b3cf3f" stroke="#a2c23a" stroke-width="0.3"/>
<path d="M493.16,173.86 A110.6,110.6 0 0 1 493.39,176.81 L470.81,178.28 A88,88 0 0 0 470.63,175.93 Z" fill="#b3cf3f" stroke="#a2c23a" stroke-width="0.3"/>
<path d="M495.54,176.67 A112.8,112.8 0 0 1 495.62,178.11 L470.88,179.41 A88,88 0 0 0 470.81,178.28 Z" fill="#b3cf3f" stroke="#a2c23a" stroke-width="0.3"/>
<path d="M493.95,178.20 A111.1,111.1 0 0 1 494.01,179.44 L470.93,180.39 A88,88 0 0 0 470.88,179.41 Z" fill="#b3cf3f" stroke="#a2c23a" stroke-width="0.3"/>
<path d="M491.30,179.55 A108.4,108.4 0 0 1 491.39,183.23 L471.00,183.37 A88,88 0 0 0 470.93,180.39 Z" fill="#b3cf3f" stroke="#a2c23a" stroke-width="0.3"/>
<path d="M499.90,183.17 A116.9,116.9 0 0 1 499.89,185.40 L470.99,185.05 A88,88 0 0 0 471.00,183.37 Z" fill="#b3cf3f" stroke="#a2c23a" stroke-width="0.3"/>
<path d="M487.82,185.25 A104.8,104.8 0 0 1 487.79,186.82 L470.97,186.36 A88,88 0 0 0 470.99,185.05 Z" fill="#b3cf3f" stroke="#a2c23a" stroke-width="0.3"/>
<path d="M492.81,186.95 A109.8,109.8 0 0 1 492.69,189.86 L470.87,188.69 A88,88 0 0 0 470.97,186.36 Z" fill="#b3cf3f" stroke="#a2c23a" stroke-width="0.3"/>
<path d="M499.42,190.22 A116.6,116.6 0 0 1 499.23,193.11 L470.73,190.88 A88,88 0 0 0 470.87,188.69 Z" fill="#b3cf3f" stroke="#a2c23a" stroke-width="0.3"/>
<path d="M499.27,193.11 A116.6,116.6 0 0 1 499.15,194.53 L470.64,191.94 A88,88 0 0 0 470.73,190.88 Z" fill="#b3cf3f" stroke="#a2c23a" stroke-width="0.3"/>
<path d="M498.23,194.44 A115.7,115.7 0 0 1 497.88,197.73 L470.38,194.44 A88,88 0 0 0 470.64,191.94 Z" fill="#b3cf3f" stroke="#a2c23a" stroke-width="0.3"/>
<path d="M487.90,196.53 A105.6,105.6 0 0 1 487.45,199.86 L470.00,197.21 A88,88 0 0 0 470.38,194.44 Z" fill="#b3cf3f" stroke="#a2c23a" stroke-width="0.3"/>
<path d="M497.32,201.36 A115.6,115.6 0 0 1 497.13,202.54 L469.86,198.11 A88,88 0 0 0 470.00,197.21 Z" fill="#b3cf3f" stroke="#a2c23a" stroke-width="0.3"/>
<path d="M486.82,200.87 A105.2,105.2 0 0 1 486.59,202.24 L469.67,199.26 A88,88 0 0 0 469.86,198.11 Z" fill="#b3cf3f" stroke="#a2c23a" stroke-width="0.3"/>
<path d="M496.14,203.92 A114.9,114.9 0 0 1 495.53,207.11 L469.20,201.70 A88,88 0 0 0 469.67,199.26 Z" fill="#b3cf3f" stroke="#a2c23a" stroke-width="0.3"/>
<path d="M497.14,207.44 A116.5,116.5 0 0 1 496.42,210.69 L468.66,204.16 A88,88 0 0 0 469.20,201.70 Z" fill="#b3cf3f" stroke="#a2c23a" stroke-width="0.3"/>
<path d="M495.36,210.45 A115.4,115.4 0 0 1 494.98,212.02 L468.37,205.36 A88,88 0 0 0 468.66,204.16 Z" fill="#b3cf3f" stroke="#a2c23a" stroke-width="0.3"/>
<path d="M494.48,211.90 A114.9,114.9 0 0 1 493.77,214.61 L467.82,207.44 A88,88 0 0 0 468.37,205.36 Z" fill="#e0141f" stroke="#c8101a" stroke-width="0.3"/>
<path d="M495.28,215.02 A116.5,116.5 0 0 1 495.05,215.83 L467.65,208.05 A88,88 0 0 0 467.82,207.44 Z" fill="#b3cf3f" stroke="#a2c23a" stroke-width="0.3"/>
<path d="M498.08,216.69 A119.6,119.6 0 0 1 497.20,219.67 L467.00,210.24 A88,88 0 0 0 467.65,208.05 Z" fill="#b3cf3f" stroke="#a2c23a" stroke-width="0.3"/>
<path d="M495.97,219.29 A118.4,118.4 0 0 1 494.81,222.83 L466.13,212.87 A88,88 0 0 0 467.00,210.24 Z" fill="#b3cf3f" stroke="#a2c23a" stroke-width="0.3"/>
<path d="M495.51,223.07 A119.1,119.1 0 0 1 495.09,224.25 L465.82,213.74 A88,88 0 0 0 466.13,212.87 Z" fill="#b3cf3f" stroke="#a2c23a" stroke-width="0.3"/>
<path d="M494.33,223.98 A118.3,118.3 0 0 1 494.05,224.77 L465.61,214.33 A88,88 0 0 0 465.82,213.74 Z" fill="#b3cf3f" stroke="#a2c23a" stroke-width="0.3"/>
<path d="M492.29,224.12 A116.4,116.4 0 0 1 491.41,226.44 L464.94,216.08 A88,88 0 0 0 465.61,214.33 Z" fill="#b3cf3f" stroke="#a2c23a" stroke-width="0.3"/>
<path d="M484.97,223.92 A109.5,109.5 0 0 1 484.41,225.32 L464.49,217.21 A88,88 0 0 0 464.94,216.08 Z" fill="#3f7cc6" stroke="#3a70b4" stroke-width="0.3"/>
<path d="M489.64,227.45 A115.1,115.1 0 0 1 489.48,227.84 L464.37,217.51 A88,88 0 0 0 464.49,217.21 Z" fill="#3f7cc6" stroke="#3a70b4" stroke-width="0.3"/>
<path d="M496.15,230.59 A122.4,122.4 0 0 1 495.49,232.14 L463.90,218.62 A88,88 0 0 0 464.37,217.51 Z" fill="#3f7cc6" stroke="#3a70b4" stroke-width="0.3"/>
<path d="M495.21,232.02 A122.1,122.1 0 0 1 493.82,235.14 L462.90,220.87 A88,88 0 0 0 463.90,218.62 Z" fill="#3f7cc6" stroke="#3a70b4" stroke-width="0.3"/>
<path d="M494.11,235.27 A122.4,122.4 0 0 1 492.69,238.25 L461.88,223.02 A88,88 0 0 0 462.90,220.87 Z" fill="#b3cf3f" stroke="#a2c23a" stroke-width="0.3"/>
<path d="M465.06,224.59 A91.6,91.6 0 0 1 464.43,225.85 L461.27,224.22 A88,88 0 0 0 461.88,223.02 Z" fill="#b3cf3f" stroke="#a2c23a" stroke-width="0.3"/>
<path d="M465.03,226.16 A92.2,92.2 0 0 1 464.02,228.08 L460.30,226.06 A88,88 0 0 0 461.27,224.22 Z" fill="#b3cf3f" stroke="#a2c23a" stroke-width="0.3"/>
<path d="M462.93,227.49 A91.0,91.0 0 0 1 461.97,229.23 L459.36,227.74 A88,88 0 0 0 460.30,226.06 Z" fill="#b3cf3f" stroke="#a2c23a" stroke-width="0.3"/>
<path d="M462.91,229.77 A92.1,92.1 0 0 1 461.75,231.74 L458.25,229.62 A88,88 0 0 0 459.36,227.74 Z" fill="#b3cf3f" stroke="#a2c23a" stroke-width="0.3"/>
<path d="M460.81,231.18 A91.0,91.0 0 0 1 459.38,233.46 L456.87,231.83 A88,88 0 0 0 458.25,229.62 Z" fill="#b3cf3f" stroke="#a2c23a" stroke-width="0.3"/>
<path d="M459.38,233.46 A91.0,91.0 0 0 1 458.65,234.58 L456.16,232.91 A88,88 0 0 0 456.87,231.83 Z" fill="#b3cf3f" stroke="#a2c23a" stroke-width="0.3"/>
<path d="M458.65,234.58 A91.0,91.0 0 0 1 457.91,235.67 L455.44,233.97 A88,88 0 0 0 456.16,232.91 Z" fill="#b3cf3f" stroke="#a2c23a" stroke-width="0.3"/>
<path d="M460.82,237.68 A94.5,94.5 0 0 1 459.70,239.26 L454.40,235.44 A88,88 0 0 0 455.44,233.97 Z" fill="#b3cf3f" stroke="#a2c23a" stroke-width="0.3"/>
<path d="M456.83,237.19 A91.0,91.0 0 0 1 455.86,238.52 L453.46,236.72 A88,88 0 0 0 454.40,235.44 Z" fill="#b3cf3f" stroke="#a2c23a" stroke-width="0.3"/>
<path d="M464.02,244.63 A101.2,101.2 0 0 1 462.86,246.15 L452.45,238.05 A88,88 0 0 0 453.46,236.72 Z" fill="#b3cf3f" stroke="#a2c23a" stroke-width="0.3"/>
<path d="M464.22,247.21 A102.9,102.9 0 0 1 463.12,248.60 L451.51,239.23 A88,88 0 0 0 452.45,238.05 Z" fill="#b3cf3f" stroke="#a2c23a" stroke-width="0.3"/>
<path d="M462.03,247.72 A101.5,101.5 0 0 1 460.88,249.12 L450.51,240.45 A88,88 0 0 0 451.51,239.23 Z" fill="#b3cf3f" stroke="#a2c23a" stroke-width="0.3"/>
<path d="M461.07,249.28 A101.8,101.8 0 0 1 459.36,251.27 L449.03,242.17 A88,88 0 0 0 450.51,240.45 Z" fill="#b3cf3f" stroke="#a2c23a" stroke-width="0.3"/>
<path d="M470.24,260.86 A116.3,116.3 0 0 1 469.87,261.28 L448.75,242.49 A88,88 0 0 0 449.03,242.17 Z" fill="#b3cf3f" stroke="#a2c23a" stroke-width="0.3"/>
<path d="M452.63,245.94 A93.2,93.2 0 0 1 450.96,247.76 L447.18,244.21 A88,88 0 0 0 448.75,242.49 Z" fill="#b3cf3f" stroke="#a2c23a" stroke-width="0.3"/>
<path d="M450.78,247.59 A92.9,92.9 0 0 1 449.63,248.79 L446.09,245.35 A88,88 0 0 0 447.18,244.21 Z" fill="#b3cf3f" stroke="#a2c23a" stroke-width="0.3"/>
<path d="M456.33,255.30 A102.3,102.3 0 0 1 453.89,257.73 L443.99,247.43 A88,88 0 0 0 446.09,245.35 Z" fill="#b3cf3f" stroke="#a2c23a" stroke-width="0.3"/>
<path d="M454.43,258.29 A103.1,103.1 0 0 1 454.07,258.64 L443.68,247.73 A88,88 0 0 0 443.99,247.43 Z" fill="#b3cf3f" stroke="#a2c23a" stroke-width="0.3"/>
<path d="M453.84,258.40 A102.7,102.7 0 0 1 451.70,260.38 L441.85,249.43 A88,88 0 0 0 443.68,247.73 Z" fill="#b3cf3f" stroke="#a2c23a" stroke-width="0.3"/>
<path d="M450.97,259.57 A101.6,101.6 0 0 1 449.49,260.87 L440.57,250.55 A88,88 0 0 0 441.85,249.43 Z" fill="#e4e4e4" stroke="#d8d8d8" stroke-width="0.3"/>
<path d="M449.24,260.58 A101.3,101.3 0 0 1 447.53,262.03 L439.08,251.82 A88,88 0 0 0 440.57,250.55 Z" fill="#e4e4e4" stroke="#d8d8d8" stroke-width="0.3"/>
<path d="M448.26,262.92 A102.4,102.4 0 0 1 446.24,264.54 L437.35,253.21 A88,88 0 0 0 439.08,251.82 Z" fill="#e4e4e4" stroke="#d8d8d8" stroke-width="0.3"/>
<path d="M457.75,279.20 A121.0,121.0 0 0 1 456.39,280.25 L436.36,253.98 A88,88 0 0 0 437.35,253.21 Z" fill="#e4e4e4" stroke="#d8d8d8" stroke-width="0.3"/>
<path d="M438.18,256.36 A91.0,91.0 0 0 1 436.52,257.60 L434.76,255.17 A88,88 0 0 0 436.36,253.98 Z" fill="#e4e4e4" stroke="#d8d8d8" stroke-width="0.3"/>
<path d="M451.72,278.50 A116.8,116.8 0 0 1 449.68,279.95 L433.22,256.27 A88,88 0 0 0 434.76,255.17 Z" fill="#b3cf3f" stroke="#a2c23a" stroke-width="0.3"/>
<path d="M448.45,278.19 A114.7,114.7 0 0 1 446.60,279.45 L431.80,257.23 A88,88 0 0 0 433.22,256.27 Z" fill="#fdc20e" stroke="#eeb400" stroke-width="0.3"/>
<path d="M442.04,272.60 A106.5,106.5 0 0 1 440.88,273.36 L430.84,257.86 A88,88 0 0 0 431.80,257.23 Z" fill="#fdc20e" stroke="#eeb400" stroke-width="0.3"/>
<path d="M445.32,280.22 A114.6,114.6 0 0 1 443.74,281.23 L429.62,258.63 A88,88 0 0 0 430.84,257.86 Z" fill="#fdc20e" stroke="#eeb400" stroke-width="0.3"/>
<path d="M443.69,281.14 A114.5,114.5 0 0 1 441.26,282.62 L427.76,259.77 A88,88 0 0 0 429.62,258.63 Z" fill="#fdc20e" stroke="#eeb400" stroke-width="0.3"/>
<path d="M441.99,283.85 A116.0,116.0 0 0 1 441.29,284.26 L427.23,260.08 A88,88 0 0 0 427.76,259.77 Z" fill="#fdc20e" stroke="#eeb400" stroke-width="0.3"/>
<path d="M439.35,280.93 A112.1,112.1 0 0 1 437.88,281.77 L426.08,260.74 A88,88 0 0 0 427.23,260.08 Z" fill="#fdc20e" stroke="#eeb400" stroke-width="0.3"/>
<path d="M432.64,272.44 A101.4,101.4 0 0 1 431.47,273.08 L425.06,261.30 A88,88 0 0 0 426.08,260.74 Z" fill="#fdc20e" stroke="#eeb400" stroke-width="0.3"/>
<path d="M436.94,283.14 A112.9,112.9 0 0 1 435.69,283.81 L424.08,261.82 A88,88 0 0 0 425.06,261.30 Z" fill="#fdc20e" stroke="#eeb400" stroke-width="0.3"/>
<path d="M435.91,284.22 A113.3,113.3 0 0 1 433.33,285.53 L422.08,262.84 A88,88 0 0 0 424.08,261.82 Z" fill="#fdc20e" stroke="#eeb400" stroke-width="0.3"/>
<path d="M428.27,275.33 A101.9,101.9 0 0 1 426.54,276.17 L420.59,263.57 A88,88 0 0 0 422.08,262.84 Z" fill="#fdc20e" stroke="#eeb400" stroke-width="0.3"/>
<path d="M431.59,286.88 A113.8,113.8 0 0 1 430.26,287.49 L419.56,264.05 A88,88 0 0 0 420.59,263.57 Z" fill="#fdc20e" stroke="#eeb400" stroke-width="0.3"/>
<path d="M422.27,270.00 A94.5,94.5 0 0 1 420.34,270.85 L417.76,264.84 A88,88 0 0 0 419.56,264.05 Z" fill="#b3cf3f" stroke="#a2c23a" stroke-width="0.3"/>
<path d="M418.95,267.60 A91.0,91.0 0 0 1 417.20,268.33 L416.07,265.55 A88,88 0 0 0 417.76,264.84 Z" fill="#b3cf3f" stroke="#a2c23a" stroke-width="0.3"/>
<path d="M417.20,268.33 A91.0,91.0 0 0 1 414.24,269.47 L413.21,266.65 A88,88 0 0 0 416.07,265.55 Z" fill="#b3cf3f" stroke="#a2c23a" stroke-width="0.3"/>
<path d="M416.23,274.89 A96.8,96.8 0 0 1 415.72,275.08 L412.75,266.82 A88,88 0 0 0 413.21,266.65 Z" fill="#fdc20e" stroke="#eeb400" stroke-width="0.3"/>
<path d="M419.20,284.77 A107.1,107.1 0 0 1 416.82,285.60 L410.79,267.50 A88,88 0 0 0 412.75,266.82 Z" fill="#fdc20e" stroke="#eeb400" stroke-width="0.3"/>
<path d="M416.87,285.76 A107.2,107.2 0 0 1 413.43,286.84 L407.96,268.38 A88,88 0 0 0 410.79,267.50 Z" fill="#fdc20e" stroke="#eeb400" stroke-width="0.3"/>
<path d="M413.75,287.93 A108.4,108.4 0 0 1 410.11,288.94 L405.01,269.20 A88,88 0 0 0 407.96,268.38 Z" fill="#b3cf3f" stroke="#a2c23a" stroke-width="0.3"/>
<path d="M409.57,286.86 A106.2,106.2 0 0 1 408.03,287.25 L403.73,269.52 A88,88 0 0 0 405.01,269.20 Z" fill="#b3cf3f" stroke="#a2c23a" stroke-width="0.3"/>
<path d="M408.36,288.62 A107.7,107.7 0 0 1 405.93,289.18 L401.74,269.98 A88,88 0 0 0 403.73,269.52 Z" fill="#fdc20e" stroke="#eeb400" stroke-width="0.3"/>
<path d="M405.82,288.66 A107.1,107.1 0 0 1 404.98,288.84 L401.06,270.13 A88,88 0 0 0 401.74,269.98 Z" fill="#fdc20e" stroke="#eeb400" stroke-width="0.3"/>
<path d="M402.90,278.93 A97.0,97.0 0 0 1 401.21,279.27 L399.52,270.44 A88,88 0 0 0 401.06,270.13 Z" fill="#fdc20e" stroke="#eeb400" stroke-width="0.3"/>
<path d="M403.39,290.67 A108.6,108.6 0 0 1 400.44,291.19 L397.13,270.86 A88,88 0 0 0 399.52,270.44 Z" fill="#b3cf3f" stroke="#a2c23a" stroke-width="0.3"/>
<path d="M400.10,289.10 A106.5,106.5 0 0 1 398.04,289.41 L395.43,271.12 A88,88 0 0 0 397.13,270.86 Z" fill="#b3cf3f" stroke="#a2c23a" stroke-width="0.3"/>
<path d="M398.18,290.39 A107.5,107.5 0 0 1 395.69,290.72 L393.39,271.38 A88,88 0 0 0 395.43,271.12 Z" fill="#3f7cc6" stroke="#3a70b4" stroke-width="0.3"/>
<path d="M395.67,290.51 A107.3,107.3 0 0 1 393.81,290.72 L391.87,271.55 A88,88 0 0 0 393.39,271.38 Z" fill="#3f7cc6" stroke="#3a70b4" stroke-width="0.3"/>
<path d="M393.35,286.15 A102.7,102.7 0 0 1 392.59,286.23 L391.22,271.62 A88,88 0 0 0 391.87,271.55 Z" fill="#3f7cc6" stroke="#3a70b4" stroke-width="0.3"/>
<path d="M393.73,298.41 A114.9,114.9 0 0 1 392.39,298.53 L390.19,271.71 A88,88 0 0 0 391.22,271.62 Z" fill="#3f7cc6" stroke="#3a70b4" stroke-width="0.3"/>
<path d="M392.03,294.15 A110.5,110.5 0 0 1 388.24,294.39 L387.17,271.90 A88,88 0 0 0 390.19,271.71 Z" fill="#3f7cc6" stroke="#3a70b4" stroke-width="0.3"/>
<path d="M388.09,291.15 A107.3,107.3 0 0 1 386.93,291.19 L386.22,271.94 A88,88 0 0 0 387.17,271.90 Z" fill="#3f7cc6" stroke="#3a70b4" stroke-width="0.3"/>
<path d="M387.22,299.11 A115.2,115.2 0 0 1 385.75,299.16 L385.10,271.97 A88,88 0 0 0 386.22,271.94 Z" fill="#3f7cc6" stroke="#3a70b4" stroke-width="0.3"/>
<path d="M385.75,299.02 A115.1,115.1 0 0 1 383.37,299.06 L383.28,272.00 A88,88 0 0 0 385.10,271.97 Z" fill="#3f7cc6" stroke="#3a70b4" stroke-width="0.3"/>
<path d="M383.36,301.67 A117.7,117.7 0 0 1 379.80,301.63 L380.61,271.97 A88,88 0 0 0 383.27,272.00 Z" fill="#3f7cc6" stroke="#3a70b4" stroke-width="0.3"/>
<path d="M379.78,302.31 A118.4,118.4 0 0 1 376.26,302.16 L377.99,271.86 A88,88 0 0 0 380.61,271.97 Z" fill="#3f7cc6" stroke="#3a70b4" stroke-width="0.3"/>
<path d="M375.63,313.22 A129.4,129.4 0 0 1 373.40,313.07 L376.47,271.76 A88,88 0 0 0 377.99,271.86 Z" fill="#3f7cc6" stroke="#3a70b4" stroke-width="0.3"/>
<path d="M374.14,303.06 A119.4,119.4 0 0 1 371.37,302.82 L374.43,271.58 A88,88 0 0 0 376.47,271.76 Z" fill="#b3cf3f" stroke="#a2c23a" stroke-width="0.3"/>
<path d="M372.41,292.17 A108.7,108.7 0 0 1 370.19,291.93 L372.63,271.39 A88,88 0 0 0 374.43,271.58 Z" fill="#b3cf3f" stroke="#a2c23a" stroke-width="0.3"/>
<path d="M369.03,301.64 A118.5,118.5 0 0 1 364.96,301.08 L369.60,270.97 A88,88 0 0 0 372.63,271.39 Z" fill="#b3cf3f" stroke="#a2c23a" stroke-width="0.3"/>
<path d="M364.86,301.74 A119.1,119.1 0 0 1 362.32,301.32 L367.72,270.66 A88,88 0 0 0 369.60,270.97 Z" fill="#fdc20e" stroke="#eeb400" stroke-width="0.3"/>
<path d="M362.54,300.07 A117.9,117.9 0 0 1 360.89,299.77 L366.49,270.44 A88,88 0 0 0 367.72,270.66 Z" fill="#b3cf3f" stroke="#a2c23a" stroke-width="0.3"/>
<path d="M360.64,301.08 A119.2,119.2 0 0 1 356.99,300.32 L363.80,269.88 A88,88 0 0 0 366.49,270.44 Z" fill="#b3cf3f" stroke="#a2c23a" stroke-width="0.3"/>
<path d="M357.13,299.68 A118.5,118.5 0 0 1 356.01,299.42 L362.96,269.69 A88,88 0 0 0 363.80,269.88 Z" fill="#fdc20e" stroke="#eeb400" stroke-width="0.3"/>
<path d="M357.17,294.44 A113.4,113.4 0 0 1 355.74,294.09 L361.85,269.42 A88,88 0 0 0 362.96,269.69 Z" fill="#b3cf3f" stroke="#a2c23a" stroke-width="0.3"/>
<path d="M358.68,282.23 A101.2,101.2 0 0 1 355.52,281.39 L359.10,268.69 A88,88 0 0 0 361.85,269.42 Z" fill="#b3cf3f" stroke="#a2c23a" stroke-width="0.3"/>
<path d="M352.40,292.44 A112.7,112.7 0 0 1 350.79,291.97 L357.84,268.33 A88,88 0 0 0 359.10,268.69 Z" fill="#b3cf3f" stroke="#a2c23a" stroke-width="0.3"/>
<path d="M350.36,293.38 A114.1,114.1 0 0 1 349.93,293.25 L357.50,268.23 A88,88 0 0 0 357.84,268.33 Z" fill="#b3cf3f" stroke="#a2c23a" stroke-width="0.3"/>
<path d="M354.62,277.75 A97.9,97.9 0 0 1 353.07,277.26 L356.11,267.79 A88,88 0 0 0 357.50,268.23 Z" fill="#b3cf3f" stroke="#a2c23a" stroke-width="0.3"/>
<path d="M351.43,282.38 A103.3,103.3 0 0 1 350.21,281.98 L355.07,267.45 A88,88 0 0 0 356.11,267.79 Z" fill="#b3cf3f" stroke="#a2c23a" stroke-width="0.3"/>
<path d="M345.42,296.30 A118.4,118.4 0 0 1 342.52,295.29 L352.92,266.70 A88,88 0 0 0 355.07,267.45 Z" fill="#b3cf3f" stroke="#a2c23a" stroke-width="0.3"/>
<path d="M348.09,279.98 A102.1,102.1 0 0 1 346.07,279.22 L351.18,266.05 A88,88 0 0 0 352.92,266.70 Z" fill="#3f7cc6" stroke="#3a70b4" stroke-width="0.3"/>
<path d="M350.10,268.84 A91.0,91.0 0 0 1 347.24,267.68 L348.42,264.92 A88,88 0 0 0 351.18,266.05 Z" fill="#b3cf3f" stroke="#a2c23a" stroke-width="0.3"/>
<path d="M347.24,267.68 A91.0,91.0 0 0 1 345.00,266.69 L346.25,263.96 A88,88 0 0 0 348.42,264.92 Z" fill="#b3cf3f" stroke="#a2c23a" stroke-width="0.3"/>
<path d="M343.95,268.98 A93.5,93.5 0 0 1 343.77,268.90 L346.08,263.88 A88,88 0 0 0 346.25,263.96 Z" fill="#b3cf3f" stroke="#a2c23a" stroke-width="0.3"/>
<path d="M335.79,286.16 A112.5,112.5 0 0 1 333.77,285.21 L344.51,263.13 A88,88 0 0 0 346.08,263.88 Z" fill="#b3cf3f" stroke="#a2c23a" stroke-width="0.3"/>
<path d="M336.24,280.12 A106.9,106.9 0 0 1 334.58,279.30 L343.14,262.46 A88,88 0 0 0 344.51,263.13 Z" fill="#b3cf3f" stroke="#a2c23a" stroke-width="0.3"/>
<path d="M332.06,284.27 A112.5,112.5 0 0 1 331.77,284.12 L342.92,262.34 A88,88 0 0 0 343.14,262.46 Z" fill="#b3cf3f" stroke="#a2c23a" stroke-width="0.3"/>
<path d="M331.04,285.55 A114.1,114.1 0 0 1 329.11,284.54 L341.43,261.56 A88,88 0 0 0 342.92,262.34 Z" fill="#b3cf3f" stroke="#a2c23a" stroke-width="0.3"/>
<path d="M330.25,282.41 A111.7,111.7 0 0 1 328.47,281.44 L340.03,260.79 A88,88 0 0 0 341.43,261.56 Z" fill="#b3cf3f" stroke="#a2c23a" stroke-width="0.3"/>
<path d="M327.78,282.68 A113.1,113.1 0 0 1 324.88,281.00 L337.77,259.49 A88,88 0 0 0 340.03,260.79 Z" fill="#3f7cc6" stroke="#3a70b4" stroke-width="0.3"/>
<path d="M329.52,273.26 A104.1,104.1 0 0 1 327.64,272.10 L336.18,258.51 A88,88 0 0 0 337.77,259.49 Z" fill="#b3cf3f" stroke="#a2c23a" stroke-width="0.3"/>
<path d="M322.45,280.36 A113.8,113.8 0 0 1 319.28,278.29 L333.73,256.91 A88,88 0 0 0 336.18,258.51 Z" fill="#b3cf3f" stroke="#a2c23a" stroke-width="0.3"/>
<path d="M322.01,274.25 A108.9,108.9 0 0 1 320.40,273.14 L332.43,256.02 A88,88 0 0 0 333.73,256.91 Z" fill="#b3cf3f" stroke="#a2c23a" stroke-width="0.3"/>
<path d="M325.06,266.50 A100.8,100.8 0 0 1 323.97,265.73 L331.48,255.34 A88,88 0 0 0 332.43,256.02 Z" fill="#b3cf3f" stroke="#a2c23a" stroke-width="0.3"/>
<path d="M322.95,267.14 A102.6,102.6 0 0 1 320.10,265.01 L329.03,253.51 A88,88 0 0 0 331.48,255.34 Z" fill="#b3cf3f" stroke="#a2c23a" stroke-width="0.3"/>
<path d="M325.86,257.60 A93.2,93.2 0 0 1 324.93,256.86 L328.15,252.82 A88,88 0 0 0 329.03,253.51 Z" fill="#b3cf3f" stroke="#a2c23a" stroke-width="0.3"/>
<path d="M319.37,263.84 A102.1,102.1 0 0 1 317.91,262.66 L326.90,251.80 A88,88 0 0 0 328.15,252.82 Z" fill="#b3cf3f" stroke="#a2c23a" stroke-width="0.3"/>
<path d="M317.75,262.85 A102.3,102.3 0 0 1 316.25,261.58 L325.60,250.71 A88,88 0 0 0 326.90,251.80 Z" fill="#b3cf3f" stroke="#a2c23a" stroke-width="0.3"/>
<path d="M315.85,262.04 A103.0,103.0 0 0 1 313.42,259.88 L323.53,248.86 A88,88 0 0 0 325.60,250.71 Z" fill="#b3cf3f" stroke="#a2c23a" stroke-width="0.3"/>
<path d="M314.68,258.52 A101.1,101.1 0 0 1 314.12,258.00 L323.04,248.41 A88,88 0 0 0 323.53,248.86 Z" fill="#b3cf3f" stroke="#a2c23a" stroke-width="0.3"/>
<path d="M309.67,262.78 A107.6,107.6 0 0 1 307.02,260.24 L320.88,246.33 A88,88 0 0 0 323.04,248.41 Z" fill="#b3cf3f" stroke="#a2c23a" stroke-width="0.3"/>
<path d="M306.04,261.22 A109.0,109.0 0 0 1 303.62,258.73 L318.93,244.32 A88,88 0 0 0 320.88,246.33 Z" fill="#b3cf3f" stroke="#a2c23a" stroke-width="0.3"/>
<path d="M305.36,257.10 A106.6,106.6 0 0 1 305.02,256.73 L318.65,244.02 A88,88 0 0 0 318.93,244.32 Z" fill="#b3cf3f" stroke="#a2c23a" stroke-width="0.3"/>
<path d="M316.45,246.07 A91.0,91.0 0 0 1 315.23,244.74 L317.47,242.73 A88,88 0 0 0 318.65,244.02 Z" fill="#b3cf3f" stroke="#a2c23a" stroke-width="0.3"/>
<path d="M311.97,247.66 A95.4,95.4 0 0 1 309.97,245.35 L315.62,240.60 A88,88 0 0 0 317.47,242.73 Z" fill="#b3cf3f" stroke="#a2c23a" stroke-width="0.3"/>
<path d="M310.22,245.13 A95.0,95.0 0 0 1 309.06,243.72 L314.54,239.29 A88,88 0 0 0 315.62,240.60 Z" fill="#b3cf3f" stroke="#a2c23a" stroke-width="0.3"/>
<path d="M308.35,244.29 A96.0,96.0 0 0 1 307.18,242.82 L313.47,237.94 A88,88 0 0 0 314.54,239.29 Z" fill="#b3cf3f" stroke="#a2c23a" stroke-width="0.3"/>
<path d="M308.07,242.13 A94.8,94.8 0 0 1 307.26,241.07 L312.72,236.96 A88,88 0 0 0 313.47,237.94 Z" fill="#b3cf3f" stroke="#a2c23a" stroke-width="0.3"/>
<path d="M307.55,240.85 A94.5,94.5 0 0 1 306.90,239.99 L312.12,236.15 A88,88 0 0 0 312.72,236.96 Z" fill="#b3cf3f" stroke="#a2c23a" stroke-width="0.3"/>
<path d="M298.90,245.87 A104.4,104.4 0 0 1 297.47,243.87 L310.91,234.47 A88,88 0 0 0 312.12,236.15 Z" fill="#b3cf3f" stroke="#a2c23a" stroke-width="0.3"/>
<path d="M307.33,236.97 A92.4,92.4 0 0 1 306.57,235.87 L310.19,233.42 A88,88 0 0 0 310.91,234.47 Z" fill="#b3cf3f" stroke="#a2c23a" stroke-width="0.3"/>
<path d="M299.81,240.46 A100.5,100.5 0 0 1 298.84,239.00 L309.33,232.14 A88,88 0 0 0 310.19,233.42 Z" fill="#b3cf3f" stroke="#a2c23a" stroke-width="0.3"/>
<path d="M306.82,233.78 A91.0,91.0 0 0 1 306.20,232.82 L308.74,231.21 A88,88 0 0 0 309.33,232.14 Z" fill="#b3cf3f" stroke="#a2c23a" stroke-width="0.3"/>
<path d="M297.97,238.05 A100.8,100.8 0 0 1 297.17,236.78 L308.04,230.09 A88,88 0 0 0 308.74,231.21 Z" fill="#b3cf3f" stroke="#a2c23a" stroke-width="0.3"/>
<path d="M296.39,237.26 A101.7,101.7 0 0 1 295.28,235.42 L307.08,228.51 A88,88 0 0 0 308.04,230.09 Z" fill="#b3cf3f" stroke="#a2c23a" stroke-width="0.3"/>
<path d="M302.02,231.47 A93.9,93.9 0 0 1 301.62,230.79 L306.71,227.86 A88,88 0 0 0 307.08,228.51 Z" fill="#b3cf3f" stroke="#a2c23a" stroke-width="0.3"/>
<path d="M303.75,229.56 A91.4,91.4 0 0 1 302.76,227.79 L305.75,226.16 A88,88 0 0 0 306.71,227.86 Z" fill="#b3cf3f" stroke="#a2c23a" stroke-width="0.3"/>
<path d="M302.77,227.79 A91.4,91.4 0 0 1 301.97,226.29 L304.98,224.71 A88,88 0 0 0 305.75,226.16 Z" fill="#b3cf3f" stroke="#a2c23a" stroke-width="0.3"/>
<path d="M302.03,226.26 A91.3,91.3 0 0 1 301.39,225.00 L304.37,223.51 A88,88 0 0 0 304.98,224.71 Z" fill="#b3cf3f" stroke="#a2c23a" stroke-width="0.3"/>
<path d="M300.13,225.64 A92.7,92.7 0 0 1 299.67,224.71 L303.93,222.63 A88,88 0 0 0 304.37,223.51 Z" fill="#b3cf3f" stroke="#a2c23a" stroke-width="0.3"/>
<path d="M301.24,223.95 A91.0,91.0 0 0 1 300.74,222.92 L303.45,221.63 A88,88 0 0 0 303.93,222.63 Z" fill="#f2961c" stroke="#e08a10" stroke-width="0.3"/>
<path d="M300.69,222.94 A91.1,91.1 0 0 1 299.80,220.98 L302.59,219.74 A88,88 0 0 0 303.45,221.63 Z" fill="#f2961c" stroke="#e08a10" stroke-width="0.3"/>
<path d="M299.84,220.96 A91.0,91.0 0 0 1 299.47,220.10 L302.22,218.91 A88,88 0 0 0 302.59,219.74 Z" fill="#f2961c" stroke="#e08a10" stroke-width="0.3"/>
<path d="M284.27,226.67 A107.6,107.6 0 0 1 283.47,224.77 L301.57,217.36 A88,88 0 0 0 302.22,218.91 Z" fill="#b3cf3f" stroke="#a2c23a" stroke-width="0.3"/>
<path d="M284.83,224.22 A106.1,106.1 0 0 1 283.72,221.40 L300.65,215.02 A88,88 0 0 0 301.57,217.36 Z" fill="#b3cf3f" stroke="#a2c23a" stroke-width="0.3"/>
<path d="M293.21,217.83 A96.0,96.0 0 0 1 293.17,217.72 L300.61,214.93 A88,88 0 0 0 300.65,215.02 Z" fill="#b3cf3f" stroke="#a2c23a" stroke-width="0.3"/>
<path d="M286.05,220.39 A103.6,103.6 0 0 1 285.34,218.43 L300.01,213.26 A88,88 0 0 0 300.61,214.93 Z" fill="#b3cf3f" stroke="#a2c23a" stroke-width="0.3"/>
<path d="M284.51,218.72 A104.4,104.4 0 0 1 283.84,216.76 L299.44,211.61 A88,88 0 0 0 300.01,213.26 Z" fill="#b3cf3f" stroke="#a2c23a" stroke-width="0.3"/>
<path d="M286.34,215.93 A101.8,101.8 0 0 1 285.72,214.00 L298.91,209.93 A88,88 0 0 0 299.44,211.61 Z" fill="#b3cf3f" stroke="#a2c23a" stroke-width="0.3"/>
<path d="M277.38,216.57 A110.5,110.5 0 0 1 276.78,214.58 L298.43,208.35 A88,88 0 0 0 298.91,209.93 Z" fill="#b3cf3f" stroke="#a2c23a" stroke-width="0.3"/>
<path d="M284.98,212.22 A102.0,102.0 0 0 1 284.32,209.83 L297.87,206.29 A88,88 0 0 0 298.43,208.35 Z" fill="#b3cf3f" stroke="#a2c23a" stroke-width="0.3"/>
<path d="M275.91,212.04 A110.7,110.7 0 0 1 275.23,209.31 L297.33,204.12 A88,88 0 0 0 297.87,206.29 Z" fill="#b3cf3f" stroke="#a2c23a" stroke-width="0.3"/>
<path d="M274.16,209.56 A111.8,111.8 0 0 1 274.05,209.05 L297.24,203.72 A88,88 0 0 0 297.33,204.12 Z" fill="#b3cf3f" stroke="#a2c23a" stroke-width="0.3"/>
<path d="M256.99,212.98 A129.3,129.3 0 0 1 256.37,210.14 L296.82,201.79 A88,88 0 0 0 297.24,203.72 Z" fill="#b3cf3f" stroke="#a2c23a" stroke-width="0.3"/>
<path d="M257.28,209.95 A128.4,128.4 0 0 1 256.83,207.65 L296.51,200.21 A88,88 0 0 0 296.82,201.79 Z" fill="#b3cf3f" stroke="#a2c23a" stroke-width="0.3"/>
<path d="M251.03,208.73 A134.3,134.3 0 0 1 250.68,206.77 L296.27,198.92 A88,88 0 0 0 296.51,200.21 Z" fill="#b3cf3f" stroke="#a2c23a" stroke-width="0.3"/>
<path d="M252.24,206.50 A132.7,132.7 0 0 1 251.73,203.26 L295.93,196.78 A88,88 0 0 0 296.27,198.92 Z" fill="#b3cf3f" stroke="#a2c23a" stroke-width="0.3"/>
<path d="M250.62,203.42 A133.8,133.8 0 0 1 250.22,200.49 L295.67,194.84 A88,88 0 0 0 295.93,196.78 Z" fill="#3f7cc6" stroke="#3a70b4" stroke-width="0.3"/>
<path d="M254.63,199.94 A129.4,129.4 0 0 1 254.48,198.73 L295.57,194.02 A88,88 0 0 0 295.67,194.84 Z" fill="#b3cf3f" stroke="#a2c23a" stroke-width="0.3"/>
<path d="M257.87,198.34 A126.0,126.0 0 0 1 257.47,194.30 L295.29,191.19 A88,88 0 0 0 295.57,194.02 Z" fill="#b3cf3f" stroke="#a2c23a" stroke-width="0.3"/>
<path d="M268.04,193.43 A115.3,115.3 0 0 1 267.80,189.87 L295.11,188.48 A88,88 0 0 0 295.29,191.19 Z" fill="#b3cf3f" stroke="#a2c23a" stroke-width="0.3"/>
<path d="M258.60,190.34 A124.6,124.6 0 0 1 258.47,186.80 L295.02,185.98 A88,88 0 0 0 295.11,188.48 Z" fill="#b3cf3f" stroke="#a2c23a" stroke-width="0.3"/>
<path d="M257.57,186.82 A125.5,125.5 0 0 1 257.54,184.75 L295.00,184.52 A88,88 0 0 0 295.02,185.98 Z" fill="#b3cf3f" stroke="#a2c23a" stroke-width="0.3"/>
<path d="M257.91,184.74 A125.1,125.1 0 0 1 257.91,183.94 L295.00,183.96 A88,88 0 0 0 295.00,184.52 Z" fill="#b3cf3f" stroke="#a2c23a" stroke-width="0.3"/>
<path d="M271.77,183.94 A111.2,111.2 0 0 1 271.80,181.67 L295.02,182.16 A88,88 0 0 0 295.00,183.96 Z" fill="#b3cf3f" stroke="#a2c23a" stroke-width="0.3"/>
<path d="M272.30,181.68 A110.7,110.7 0 0 1 272.34,179.98 L295.06,180.80 A88,88 0 0 0 295.02,182.16 Z" fill="#b3cf3f" stroke="#a2c23a" stroke-width="0.3"/>
<path d="M263.06,179.64 A120.0,120.0 0 0 1 263.15,177.59 L295.13,179.30 A88,88 0 0 0 295.06,180.80 Z" fill="#b3cf3f" stroke="#a2c23a" stroke-width="0.3"/>
<path d="M268.96,177.90 A114.2,114.2 0 0 1 269.23,174.08 L295.33,176.36 A88,88 0 0 0 295.13,179.30 Z" fill="#b3cf3f" stroke="#a2c23a" stroke-width="0.3"/>
<path d="M276.85,174.75 A106.6,106.6 0 0 1 276.93,173.86 L295.40,175.63 A88,88 0 0 0 295.33,176.36 Z" fill="#b3cf3f" stroke="#a2c23a" stroke-width="0.3"/>
<path d="M268.87,173.09 A114.6,114.6 0 0 1 269.32,169.16 L295.74,172.61 A88,88 0 0 0 295.40,175.63 Z" fill="#b3cf3f" stroke="#a2c23a" stroke-width="0.3"/>
<path d="M277.62,170.24 A106.3,106.3 0 0 1 277.80,168.88 L295.89,171.48 A88,88 0 0 0 295.74,172.61 Z" fill="#b3cf3f" stroke="#a2c23a" stroke-width="0.3"/>
<path d="M279.68,169.15 A104.4,104.4 0 0 1 280.25,165.62 L296.38,168.50 A88,88 0 0 0 295.89,171.48 Z" fill="#b3cf3f" stroke="#a2c23a" stroke-width="0.3"/>
<path d="M270.87,163.94 A113.9,113.9 0 0 1 271.00,163.19 L296.48,167.93 A88,88 0 0 0 296.38,168.50 Z" fill="#b3cf3f" stroke="#a2c23a" stroke-width="0.3"/>
<path d="M263.42,161.78 A121.6,121.6 0 0 1 263.92,159.29 L296.84,166.12 A88,88 0 0 0 296.48,167.93 Z" fill="#b3cf3f" stroke="#a2c23a" stroke-width="0.3"/>
<path d="M273.76,161.33 A111.6,111.6 0 0 1 274.36,158.63 L297.31,163.99 A88,88 0 0 0 296.84,166.12 Z" fill="#b3cf3f" stroke="#a2c23a" stroke-width="0.3"/>
<path d="M264.68,156.37 A121.5,121.5 0 0 1 265.13,154.53 L297.63,162.65 A88,88 0 0 0 297.31,163.99 Z" fill="#b3cf3f" stroke="#a2c23a" stroke-width="0.3"/>
<path d="M274.03,156.75 A112.3,112.3 0 0 1 274.94,153.37 L298.34,160.00 A88,88 0 0 0 297.63,162.65 Z" fill="#b3cf3f" stroke="#a2c23a" stroke-width="0.3"/>
<path d="M278.61,154.41 A108.5,108.5 0 0 1 279.23,152.29 L298.84,158.28 A88,88 0 0 0 298.34,160.00 Z" fill="#fdc20e" stroke="#eeb400" stroke-width="0.3"/>
<path d="M269.45,149.30 A118.7,118.7 0 0 1 269.95,147.70 L299.21,157.09 A88,88 0 0 0 298.84,158.28 Z" fill="#fdc20e" stroke="#eeb400" stroke-width="0.3"/>
<path d="M270.96,148.02 A117.7,117.7 0 0 1 271.49,146.41 L299.61,155.89 A88,88 0 0 0 299.21,157.09 Z" fill="#fdc20e" stroke="#eeb400" stroke-width="0.3"/>
<path d="M271.81,146.52 A117.3,117.3 0 0 1 272.34,144.98 L300.01,154.74 A88,88 0 0 0 299.61,155.89 Z" fill="#b3cf3f" stroke="#a2c23a" stroke-width="0.3"/>
<path d="M271.24,144.59 A118.5,118.5 0 0 1 272.05,142.36 L300.61,153.08 A88,88 0 0 0 300.01,154.74 Z" fill="#b3cf3f" stroke="#a2c23a" stroke-width="0.3"/>
<path d="M261.67,138.47 A129.6,129.6 0 0 1 262.46,136.43 L301.14,151.69 A88,88 0 0 0 300.61,153.08 Z" fill="#b3cf3f" stroke="#a2c23a" stroke-width="0.3"/>
<path d="M260.62,135.70 A131.6,131.6 0 0 1 262.00,132.35 L302.07,149.45 A88,88 0 0 0 301.14,151.69 Z" fill="#b3cf3f" stroke="#a2c23a" stroke-width="0.3"/>
<path d="M272.77,136.95 A119.8,119.8 0 0 1 273.03,136.34 L302.26,149.01 A88,88 0 0 0 302.07,149.45 Z" fill="#b3cf3f" stroke="#a2c23a" stroke-width="0.3"/>
<path d="M270.96,135.44 A122.1,122.1 0 0 1 272.30,132.46 L303.22,146.86 A88,88 0 0 0 302.26,149.01 Z" fill="#b3cf3f" stroke="#a2c23a" stroke-width="0.3"/>
<path d="M272.25,132.44 A122.2,122.2 0 0 1 273.85,129.14 L304.37,144.48 A88,88 0 0 0 303.22,146.86 Z" fill="#fdc20e" stroke="#eeb400" stroke-width="0.3"/>
<path d="M273.92,129.17 A122.1,122.1 0 0 1 274.63,127.78 L304.89,143.48 A88,88 0 0 0 304.37,144.48 Z" fill="#fdc20e" stroke="#eeb400" stroke-width="0.3"/>
<path d="M272.67,126.76 A124.3,124.3 0 0 1 273.01,126.10 L305.13,143.01 A88,88 0 0 0 304.89,143.48 Z" fill="#fdc20e" stroke="#eeb400" stroke-width="0.3"/>
<path d="M285.66,132.76 A110.0,110.0 0 0 1 286.54,131.12 L305.84,141.70 A88,88 0 0 0 305.13,143.01 Z" fill="#fdc20e" stroke="#eeb400" stroke-width="0.3"/>
<path d="M287.09,131.42 A109.4,109.4 0 0 1 288.62,128.71 L307.07,139.52 A88,88 0 0 0 305.84,141.70 Z" fill="#fdc20e" stroke="#eeb400" stroke-width="0.3"/>
<path d="M298.89,134.73 A97.5,97.5 0 0 1 299.49,133.72 L307.61,138.61 A88,88 0 0 0 307.07,139.52 Z" fill="#fdc20e" stroke="#eeb400" stroke-width="0.3"/>
<path d="M300.05,134.06 A96.8,96.8 0 0 1 300.70,132.98 L308.21,137.63 A88,88 0 0 0 307.61,138.61 Z" fill="#fdc20e" stroke="#eeb400" stroke-width="0.3"/>
<path d="M296.72,130.51 A101.5,101.5 0 0 1 297.44,129.36 L308.84,136.63 A88,88 0 0 0 308.21,137.63 Z" fill="#fdc20e" stroke="#eeb400" stroke-width="0.3"/>
<path d="M295.81,128.31 A103.5,103.5 0 0 1 296.97,126.53 L309.83,135.11 A88,88 0 0 0 308.84,136.63 Z" fill="#fdc20e" stroke="#eeb400" stroke-width="0.3"/>
<path d="M287.88,120.45 A114.4,114.4 0 0 1 289.07,118.71 L310.74,133.77 A88,88 0 0 0 309.83,135.11 Z" fill="#b3cf3f" stroke="#a2c23a" stroke-width="0.3"/>
<path d="M297.53,124.59 A104.1,104.1 0 0 1 298.61,123.06 L311.65,132.48 A88,88 0 0 0 310.74,133.77 Z" fill="#b3cf3f" stroke="#a2c23a" stroke-width="0.3"/>
<path d="M297.01,121.91 A106.1,106.1 0 0 1 297.73,120.92 L312.25,131.66 A88,88 0 0 0 311.65,132.48 Z" fill="#b3cf3f" stroke="#a2c23a" stroke-width="0.3"/>
<path d="M288.96,114.43 A117.0,117.0 0 0 1 290.62,112.25 L313.50,130.02 A88,88 0 0 0 312.25,131.66 Z" fill="#b3cf3f" stroke="#a2c23a" stroke-width="0.3"/>
<path d="M290.82,112.40 A116.7,116.7 0 0 1 291.72,111.26 L314.18,129.16 A88,88 0 0 0 313.50,130.02 Z" fill="#b3cf3f" stroke="#a2c23a" stroke-width="0.3"/>
<path d="M292.95,112.24 A115.1,115.1 0 0 1 293.05,112.11 L314.26,129.06 A88,88 0 0 0 314.18,129.16 Z" fill="#b3cf3f" stroke="#a2c23a" stroke-width="0.3"/>
<path d="M292.65,111.79 A115.7,115.7 0 0 1 294.11,109.99 L315.37,127.69 A88,88 0 0 0 314.26,129.06 Z" fill="#b3cf3f" stroke="#a2c23a" stroke-width="0.3"/>
<path d="M294.47,110.29 A115.2,115.2 0 0 1 296.61,107.80 L317.00,125.79 A88,88 0 0 0 315.37,127.69 Z" fill="#b3cf3f" stroke="#a2c23a" stroke-width="0.3"/>
<path d="M291.09,102.94 A122.5,122.5 0 0 1 293.26,100.54 L318.56,124.07 A88,88 0 0 0 317.00,125.79 Z" fill="#b3cf3f" stroke="#a2c23a" stroke-width="0.3"/>
<path d="M300.14,106.94 A113.2,113.2 0 0 1 300.47,106.59 L318.81,123.80 A88,88 0 0 0 318.56,124.07 Z" fill="#b3cf3f" stroke="#a2c23a" stroke-width="0.3"/>
<path d="M308.33,113.97 A102.4,102.4 0 0 1 309.24,113.02 L319.59,122.98 A88,88 0 0 0 318.81,123.80 Z" fill="#b3cf3f" stroke="#a2c23a" stroke-width="0.3"/>
<path d="M308.26,112.08 A103.7,103.7 0 0 1 310.03,110.28 L321.09,121.46 A88,88 0 0 0 319.59,122.98 Z" fill="#b3cf3f" stroke="#a2c23a" stroke-width="0.3"/>
<path d="M306.78,107.00 A108.3,108.3 0 0 1 309.03,104.83 L322.92,119.70 A88,88 0 0 0 321.09,121.46 Z" fill="#b3cf3f" stroke="#a2c23a" stroke-width="0.3"/>
<path d="M305.83,101.41 A113.0,113.0 0 0 1 307.16,100.18 L323.96,118.74 A88,88 0 0 0 322.92,119.70 Z" fill="#b3cf3f" stroke="#a2c23a" stroke-width="0.3"/>
<path d="M307.33,100.36 A112.8,112.8 0 0 1 308.75,99.09 L325.07,117.76 A88,88 0 0 0 323.96,118.74 Z" fill="#b3cf3f" stroke="#a2c23a" stroke-width="0.3"/>
<path d="M305.85,95.78 A117.2,117.2 0 0 1 307.21,94.61 L326.09,116.88 A88,88 0 0 0 325.07,117.76 Z" fill="#b3cf3f" stroke="#a2c23a" stroke-width="0.3"/>
<path d="M307.55,95.00 A116.7,116.7 0 0 1 310.51,92.58 L328.33,115.04 A88,88 0 0 0 326.09,116.88 Z" fill="#b3cf3f" stroke="#a2c23a" stroke-width="0.3"/>
<path d="M309.25,90.98 A118.7,118.7 0 0 1 311.72,89.07 L330.16,113.63 A88,88 0 0 0 328.33,115.04 Z" fill="#b3cf3f" stroke="#a2c23a" stroke-width="0.3"/>
<path d="M318.07,97.53 A108.1,108.1 0 0 1 321.02,95.39 L332.56,111.89 A88,88 0 0 0 330.16,113.63 Z" fill="#b3cf3f" stroke="#a2c23a" stroke-width="0.3"/>
<path d="M321.24,95.71 A107.7,107.7 0 0 1 323.11,94.42 L334.09,110.84 A88,88 0 0 0 332.56,111.89 Z" fill="#3f7cc6" stroke="#3a70b4" stroke-width="0.3"/>
<path d="M322.87,94.06 A108.2,108.2 0 0 1 324.75,92.83 L335.62,109.84 A88,88 0 0 0 334.09,110.84 Z" fill="#b3cf3f" stroke="#a2c23a" stroke-width="0.3"/>
<path d="M325.17,93.48 A107.4,107.4 0 0 1 326.68,92.53 L336.87,109.06 A88,88 0 0 0 335.62,109.84 Z" fill="#b3cf3f" stroke="#a2c23a" stroke-width="0.3"/>
<path d="M332.05,101.24 A97.2,97.2 0 0 1 333.71,100.25 L338.37,108.16 A88,88 0 0 0 336.87,109.06 Z" fill="#b3cf3f" stroke="#a2c23a" stroke-width="0.3"/>
<path d="M333.77,100.35 A97.1,97.1 0 0 1 335.15,99.55 L339.62,107.44 A88,88 0 0 0 338.37,108.16 Z" fill="#b3cf3f" stroke="#a2c23a" stroke-width="0.3"/>
<path d="M328.62,87.90 A110.4,110.4 0 0 1 330.92,86.64 L341.49,106.40 A88,88 0 0 0 339.66,107.41 Z" fill="#b3cf3f" stroke="#a2c23a" stroke-width="0.3"/>
<path d="M330.58,86.00 A111.1,111.1 0 0 1 332.32,85.08 L342.88,105.68 A88,88 0 0 0 341.49,106.40 Z" fill="#b3cf3f" stroke="#a2c23a" stroke-width="0.3"/>
<path d="M334.96,90.22 A105.4,105.4 0 0 1 337.63,88.90 L345.11,104.58 A88,88 0 0 0 342.88,105.68 Z" fill="#3f7cc6" stroke="#3a70b4" stroke-width="0.3"/>
<path d="M336.43,86.38 A108.2,108.2 0 0 1 338.80,85.29 L347.03,103.69 A88,88 0 0 0 345.11,104.58 Z" fill="#b3cf3f" stroke="#a2c23a" stroke-width="0.3"/>
<path d="M338.86,85.43 A108.0,108.0 0 0 1 340.54,84.70 L348.40,103.09 A88,88 0 0 0 347.03,103.69 Z" fill="#b3cf3f" stroke="#a2c23a" stroke-width="0.3"/>
<path d="M335.73,73.45 A120.2,120.2 0 0 1 337.74,72.62 L349.87,102.47 A88,88 0 0 0 348.40,103.09 Z" fill="#e0141f" stroke="#c8101a" stroke-width="0.3"/>
<path d="M338.05,73.39 A119.4,119.4 0 0 1 340.29,72.50 L351.52,101.82 A88,88 0 0 0 349.87,102.47 Z" fill="#b3cf3f" stroke="#a2c23a" stroke-width="0.3"/>
<path d="M344.21,82.72 A108.5,108.5 0 0 1 345.89,82.09 L352.89,101.31 A88,88 0 0 0 351.52,101.82 Z" fill="#b3cf3f" stroke="#a2c23a" stroke-width="0.3"/>
<g font-family="Liberation Sans, sans-serif"><text x="380.8" y="133.8" transform="rotate(447.5 380.8 133.8)" font-size="7.2" fill="#1a1a1a" stroke="#1a1a1a" stroke-width="0.15" text-anchor="middle" dominant-baseline="central">W...EW</text>
<text x="406.6" y="139.6" transform="rotate(-62.0 406.6 139.6)" font-size="7.2" fill="#1a1a1a" stroke="#1a1a1a" stroke-width="0.15" text-anchor="middle" dominant-baseline="central">B...0</text>
<text x="420.6" y="150.7" transform="rotate(-41.5 420.6 150.7)" font-size="7.2" fill="#1a1a1a" stroke="#1a1a1a" stroke-width="0.15" text-anchor="middle" dominant-baseline="central">D...no</text>
<text x="430.1" y="166.4" transform="rotate(-20.5 430.1 166.4)" font-size="7.2" fill="#1a1a1a" stroke="#1a1a1a" stroke-width="0.15" text-anchor="middle" dominant-baseline="central">D...FD</text>
<text x="433.1" y="180.5" transform="rotate(-4.0 433.1 180.5)" font-size="7.2" fill="#fff" stroke="#fff" stroke-width="0.15" text-anchor="middle" dominant-baseline="central">D...e)</text>
<text x="427.2" y="208.0" transform="rotate(28.5 427.2 208.0)" font-size="7.2" fill="#1a1a1a" stroke="#1a1a1a" stroke-width="0.15" text-anchor="middle" dominant-baseline="central">E...e)</text>
<text x="414.6" y="223.1" transform="rotate(51.0 414.6 223.1)" font-size="7.2" fill="#1a1a1a" stroke="#1a1a1a" stroke-width="0.15" text-anchor="middle" dominant-baseline="central">E...O</text>
<text x="398.7" y="231.7" transform="rotate(71.8 398.7 231.7)" font-size="7.2" fill="#1a1a1a" stroke="#1a1a1a" stroke-width="0.15" text-anchor="middle" dominant-baseline="central">a...d</text>
<text x="384.8" y="234.2" transform="rotate(88.0 384.8 234.2)" font-size="7.2" fill="#1a1a1a" stroke="#1a1a1a" stroke-width="0.15" text-anchor="middle" dominant-baseline="central">...e)</text>
<text x="369.4" y="232.4" transform="rotate(285.8 369.4 232.4)" font-size="7.2" fill="#1a1a1a" stroke="#1a1a1a" stroke-width="0.15" text-anchor="middle" dominant-baseline="central">K...e)</text>
<text x="355.3" y="225.9" transform="rotate(303.5 355.3 225.9)" font-size="7.2" fill="#1a1a1a" stroke="#1a1a1a" stroke-width="0.15" text-anchor="middle" dominant-baseline="central">L...50</text>
<text x="346.2" y="218.3" transform="rotate(317.0 346.2 218.3)" font-size="7.2" fill="#1a1a1a" stroke="#1a1a1a" stroke-width="0.15" text-anchor="middle" dominant-baseline="central">N...0)</text>
<text x="338.6" y="207.6" transform="rotate(332.0 338.6 207.6)" font-size="7.2" fill="#1a1a1a" stroke="#1a1a1a" stroke-width="0.15" text-anchor="middle" dominant-baseline="central">P...al</text>
<text x="333.2" y="190.6" transform="rotate(352.5 333.2 190.6)" font-size="7.2" fill="#1a1a1a" stroke="#1a1a1a" stroke-width="0.15" text-anchor="middle" dominant-baseline="central">R...e)</text>
<text x="332.9" y="180.1" transform="rotate(364.5 332.9 180.1)" font-size="7.2" fill="#1a1a1a" stroke="#1a1a1a" stroke-width="0.15" text-anchor="middle" dominant-baseline="central">S...0e</text>
<text x="340.6" y="157.0" transform="rotate(392.5 340.6 157.0)" font-size="7.2" fill="#1a1a1a" stroke="#1a1a1a" stroke-width="0.15" text-anchor="middle" dominant-baseline="central">Sk.a1</text>
<text x="353.5" y="143.3" transform="rotate(414.0 353.5 143.3)" font-size="7.2" fill="#1a1a1a" stroke="#1a1a1a" stroke-width="0.15" text-anchor="middle" dominant-baseline="central">J...T</text>
<text x="361.8" y="138.5" transform="rotate(425.0 361.8 138.5)" font-size="7.2" fill="#1a1a1a" stroke="#1a1a1a" stroke-width="0.15" text-anchor="middle" dominant-baseline="central">...m</text>
<text x="433.0" y="189.3" transform="rotate(6.0 433.0 189.3)" font-size="5.4" fill="#fff" text-anchor="middle" dominant-baseline="central">De...an</text>
<text x="432.2" y="194.4" transform="rotate(12.0 432.2 194.4)" font-size="5.4" fill="#fff" text-anchor="middle" dominant-baseline="central">Ds..a.2</text>
<text x="469.1" y="177.5" transform="rotate(-4.3 469.1 177.5)" font-size="5.4" fill="#3a4a10" fill-opacity="0.75" text-anchor="middle" dominant-baseline="central">F..</text>
<text x="396.3" y="264.7" transform="rotate(80.7 396.3 264.7)" font-size="4.2" fill="#3a4a10" fill-opacity="0.75" text-anchor="middle" dominant-baseline="central">V..1</text>
<text x="339.2" y="116.1" transform="rotate(417.2 339.2 116.1)" font-size="4.2" fill="#3a4a10" fill-opacity="0.75" text-anchor="middle" dominant-baseline="central">T..r</text>
<text x="470.2" y="150.6" transform="rotate(-21.0 470.2 150.6)" font-size="5.4" fill="#3a4a10" fill-opacity="0.75" text-anchor="middle" dominant-baseline="central">T..r</text>
<text x="395.5" y="267.2" transform="rotate(81.5 395.5 267.2)" font-size="4.2" fill="#3a4a10" fill-opacity="0.75" text-anchor="middle" dominant-baseline="central">a_b</text>
<text x="319.2" y="240.3" transform="rotate(318.5 319.2 240.3)" font-size="4.8" fill="#3a4a10" fill-opacity="0.75" text-anchor="middle" dominant-baseline="central">T..r</text>
<text x="289.7" y="189.1" transform="rotate(356.9 289.7 189.1)" font-size="4.2" fill="#3a4a10" fill-opacity="0.75" text-anchor="middle" dominant-baseline="central">P..al</text>
<text x="295.3" y="179.5" transform="rotate(363.0 295.3 179.5)" font-size="4.2" fill="#3a4a10" fill-opacity="0.75" text-anchor="middle" dominant-baseline="central">C..m</text>
<text x="316.9" y="151.1" transform="rotate(386.5 316.9 151.1)" font-size="5.4" fill="#3a4a10" fill-opacity="0.75" text-anchor="middle" dominant-baseline="central">V..1</text>
<text x="345.8" y="116.2" transform="rotate(421.3 345.8 116.2)" font-size="4.8" fill="#3a4a10" fill-opacity="0.75" text-anchor="middle" dominant-baseline="central">M..l</text>
<text x="294.2" y="196.3" transform="rotate(352.1 294.2 196.3)" font-size="4.8" fill="#3a4a10" fill-opacity="0.75" text-anchor="middle" dominant-baseline="central">a_b</text>
<text x="422.2" y="128.1" transform="rotate(-54.9 422.2 128.1)" font-size="4.8" fill="#3a4a10" fill-opacity="0.75" text-anchor="middle" dominant-baseline="central">D..e</text>
<text x="366.5" y="108.9" transform="rotate(437.6 366.5 108.9)" font-size="4.8" fill="#3a4a10" fill-opacity="0.75" text-anchor="middle" dominant-baseline="central">C..m</text>
<text x="379.5" y="261.4" transform="rotate(272.6 379.5 261.4)" font-size="5.4" fill="#3a4a10" fill-opacity="0.75" text-anchor="middle" dominant-baseline="central">F..</text>
<text x="343.3" y="251.1" transform="rotate(300.6 343.3 251.1)" font-size="5.4" fill="#3a4a10" fill-opacity="0.75" text-anchor="middle" dominant-baseline="central">F..</text>
<text x="350.2" y="127.9" transform="rotate(419.7 350.2 127.9)" font-size="5.4" fill="#3a4a10" fill-opacity="0.75" text-anchor="middle" dominant-baseline="central">C..m</text>
<text x="323.8" y="216.0" transform="rotate(331.7 323.8 216.0)" font-size="5.4" fill="#3a4a10" fill-opacity="0.75" text-anchor="middle" dominant-baseline="central">F..</text>
<text x="335.3" y="114.1" transform="rotate(415.7 335.3 114.1)" font-size="5.4" fill="#3a4a10" fill-opacity="0.75" text-anchor="middle" dominant-baseline="central">D..e</text>
<text x="309.6" y="142.7" transform="rotate(389.4 309.6 142.7)" font-size="4.2" fill="#3a4a10" fill-opacity="0.75" text-anchor="middle" dominant-baseline="central">C..m</text>
<text x="418.1" y="100.6" transform="rotate(-67.2 418.1 100.6)" font-size="4.2" fill="#3a4a10" fill-opacity="0.75" text-anchor="middle" dominant-baseline="central">3..0</text>
<text x="437.8" y="220.8" transform="rotate(33.9 437.8 220.8)" font-size="4.2" fill="#3a4a10" fill-opacity="0.75" text-anchor="middle" dominant-baseline="central">a_b</text>
<text x="472.6" y="209.3" transform="rotate(15.8 472.6 209.3)" font-size="4.2" fill="#3a4a10" fill-opacity="0.75" text-anchor="middle" dominant-baseline="central">P..al</text>
<text x="332.8" y="248.8" transform="rotate(307.8 332.8 248.8)" font-size="5.4" fill="#3a4a10" fill-opacity="0.75" text-anchor="middle" dominant-baseline="central">M..l</text>
<text x="343.2" y="250.0" transform="rotate(301.1 343.2 250.0)" font-size="5.4" fill="#3a4a10" fill-opacity="0.75" text-anchor="middle" dominant-baseline="central">C..m</text>
<text x="448.2" y="178.2" transform="rotate(-5.1 448.2 178.2)" font-size="4.2" fill="#3a4a10" fill-opacity="0.75" text-anchor="middle" dominant-baseline="central">S..0</text>
<text x="433.9" y="120.9" transform="rotate(-51.1 433.9 120.9)" font-size="4.8" fill="#3a4a10" fill-opacity="0.75" text-anchor="middle" dominant-baseline="central">D..e</text>
<text x="454.5" y="203.1" transform="rotate(15.0 454.5 203.1)" font-size="4.8" fill="#3a4a10" fill-opacity="0.75" text-anchor="middle" dominant-baseline="central">S..0</text>
<text x="473.0" y="222.2" transform="rotate(23.0 473.0 222.2)" font-size="4.8" fill="#3a4a10" fill-opacity="0.75" text-anchor="middle" dominant-baseline="central">M..l</text>
<text x="402.1" y="259.0" transform="rotate(75.7 402.1 259.0)" font-size="5.4" fill="#3a4a10" fill-opacity="0.75" text-anchor="middle" dominant-baseline="central">V..1</text>
<text x="353.7" y="258.9" transform="rotate(291.3 353.7 258.9)" font-size="4.8" fill="#3a4a10" fill-opacity="0.75" text-anchor="middle" dominant-baseline="central">T..r</text>
<text x="418.0" y="259.7" transform="rotate(65.2 418.0 259.7)" font-size="4.8" fill="#3a4a10" fill-opacity="0.75" text-anchor="middle" dominant-baseline="central">D..e</text>
<text x="410.1" y="249.4" transform="rotate(67.5 410.1 249.4)" font-size="5.4" fill="#3a4a10" fill-opacity="0.75" text-anchor="middle" dominant-baseline="central">C..m</text>
<text x="457.6" y="230.7" transform="rotate(32.0 457.6 230.7)" font-size="4.8" fill="#3a4a10" fill-opacity="0.75" text-anchor="middle" dominant-baseline="central">V..1</text>
<text x="393.5" y="101.2" transform="rotate(-82.8 393.5 101.2)" font-size="4.2" fill="#3a4a10" fill-opacity="0.75" text-anchor="middle" dominant-baseline="central">a_b</text>
<text x="329.4" y="232.2" transform="rotate(318.1 329.4 232.2)" font-size="5.4" fill="#3a4a10" fill-opacity="0.75" text-anchor="middle" dominant-baseline="central">F..</text>
<text x="340.7" y="110.0" transform="rotate(420.2 340.7 110.0)" font-size="5.4" fill="#3a4a10" fill-opacity="0.75" text-anchor="middle" dominant-baseline="central">C..m</text>
<text x="388.6" y="268.4" transform="rotate(86.2 388.6 268.4)" font-size="4.8" fill="#3a4a10" fill-opacity="0.75" text-anchor="middle" dominant-baseline="central">S..0</text>
<text x="465.7" y="184.6" transform="rotate(0.4 465.7 184.6)" font-size="5.4" fill="#3a4a10" fill-opacity="0.75" text-anchor="middle" dominant-baseline="central">V..1</text>
<text x="452.1" y="216.5" transform="rotate(25.2 452.1 216.5)" font-size="4.8" fill="#3a4a10" fill-opacity="0.75" text-anchor="middle" dominant-baseline="central">F..</text>
<text x="321.9" y="143.1" transform="rotate(393.8 321.9 143.1)" font-size="4.2" fill="#3a4a10" fill-opacity="0.75" text-anchor="middle" dominant-baseline="central">M..l</text>
<text x="318.6" y="174.9" transform="rotate(368.0 318.6 174.9)" font-size="5.4" fill="#3a4a10" fill-opacity="0.75" text-anchor="middle" dominant-baseline="central">V..1</text>
<text x="305.4" y="191.2" transform="rotate(354.7 305.4 191.2)" font-size="5.4" fill="#3a4a10" fill-opacity="0.75" text-anchor="middle" dominant-baseline="central">D..e</text>
<text x="313.8" y="159.7" transform="rotate(379.4 313.8 159.7)" font-size="5.4" fill="#3a4a10" fill-opacity="0.75" text-anchor="middle" dominant-baseline="central">a_b</text>
<text x="415.7" y="259.9" transform="rotate(66.7 415.7 259.9)" font-size="5.4" fill="#3a4a10" fill-opacity="0.75" text-anchor="middle" dominant-baseline="central">P..al</text>
<text x="450.6" y="216.8" transform="rotate(25.9 450.6 216.8)" font-size="4.8" fill="#3a4a10" fill-opacity="0.75" text-anchor="middle" dominant-baseline="central">D..e</text>
<text x="289.1" y="147.0" transform="rotate(381.5 289.1 147.0)" font-size="4.8" fill="#3a4a10" fill-opacity="0.75" text-anchor="middle" dominant-baseline="central">P..al</text>
<text x="309.6" y="187.7" transform="rotate(357.1 309.6 187.7)" font-size="4.8" fill="#3a4a10" fill-opacity="0.75" text-anchor="middle" dominant-baseline="central">V..1</text>
<text x="477.3" y="196.3" transform="rotate(7.4 477.3 196.3)" font-size="5.4" fill="#3a4a10" fill-opacity="0.75" text-anchor="middle" dominant-baseline="central">S..0</text>
<text x="363.6" y="113.1" transform="rotate(434.7 363.6 113.1)" font-size="4.2" fill="#3a4a10" fill-opacity="0.75" text-anchor="middle" dominant-baseline="central">V..1</text>
<text x="324.9" y="133.6" transform="rotate(400.9 324.9 133.6)" font-size="5.4" fill="#3a4a10" fill-opacity="0.75" text-anchor="middle" dominant-baseline="central">P..al</text>
<text x="439.1" y="222.2" transform="rotate(34.3 439.1 222.2)" font-size="5.4" fill="#3a4a10" fill-opacity="0.75" text-anchor="middle" dominant-baseline="central">C..m</text>
<text x="310.8" y="163.6" transform="rotate(375.8 310.8 163.6)" font-size="5.4" fill="#3a4a10" fill-opacity="0.75" text-anchor="middle" dominant-baseline="central">F..</text>
<text x="420.8" y="249.7" transform="rotate(60.1 420.8 249.7)" font-size="4.2" fill="#3a4a10" fill-opacity="0.75" text-anchor="middle" dominant-baseline="central">M..l</text>
<text x="349.8" y="123.1" transform="rotate(421.4 349.8 123.1)" font-size="4.8" fill="#3a4a10" fill-opacity="0.75" text-anchor="middle" dominant-baseline="central">S..0</text>
<text x="351.1" y="98.3" transform="rotate(429.6 351.1 98.3)" font-size="4.8" fill="#3a4a10" fill-opacity="0.75" text-anchor="middle" dominant-baseline="central">T..r</text>
<text x="350.4" y="268.0" transform="rotate(291.2 350.4 268.0)" font-size="4.2" fill="#3a4a10" fill-opacity="0.75" text-anchor="middle" dominant-baseline="central">D..e</text>
<text x="283.1" y="186.8" transform="rotate(358.4 283.1 186.8)" font-size="4.8" fill="#3a4a10" fill-opacity="0.75" text-anchor="middle" dominant-baseline="central">T..r</text>
<text x="358.6" y="270.1" transform="rotate(285.8 358.6 270.1)" font-size="5.4" fill="#3a4a10" fill-opacity="0.75" text-anchor="middle" dominant-baseline="central">P..al</text>
<text x="370.8" y="117.6" transform="rotate(439.5 370.8 117.6)" font-size="4.2" fill="#3a4a10" fill-opacity="0.75" text-anchor="middle" dominant-baseline="central">D..e</text>
<text x="402.5" y="97.3" transform="rotate(-77.3 402.5 97.3)" font-size="4.2" fill="#3a4a10" fill-opacity="0.75" text-anchor="middle" dominant-baseline="central">T..r</text>
<text x="324.2" y="106.6" transform="rotate(412.8 324.2 106.6)" font-size="4.2" fill="#3a4a10" fill-opacity="0.75" text-anchor="middle" dominant-baseline="central">V..1</text>
<text x="390.3" y="96.4" transform="rotate(-85.3 390.3 96.4)" font-size="5.4" fill="#3a4a10" fill-opacity="0.75" text-anchor="middle" dominant-baseline="central">a_b</text>
<text x="467.5" y="211.4" transform="rotate(18.0 467.5 211.4)" font-size="5.4" fill="#3a4a10" fill-opacity="0.75" text-anchor="middle" dominant-baseline="central">T..r</text>
<text x="429.7" y="261.5" transform="rotate(59.0 429.7 261.5)" font-size="4.2" fill="#3a4a10" fill-opacity="0.75" text-anchor="middle" dominant-baseline="central">V..1</text>
<text x="443.2" y="222.9" transform="rotate(32.9 443.2 222.9)" font-size="4.8" fill="#3a4a10" fill-opacity="0.75" text-anchor="middle" dominant-baseline="central">T..r</text>
<text x="321.6" y="159.0" transform="rotate(382.2 321.6 159.0)" font-size="4.2" fill="#3a4a10" fill-opacity="0.75" text-anchor="middle" dominant-baseline="central">D..e</text>
<text x="448.4" y="116.3" transform="rotate(-46.0 448.4 116.3)" font-size="4.2" fill="#3a4a10" fill-opacity="0.75" text-anchor="middle" dominant-baseline="central">P..al</text>
<text x="458.1" y="179.0" transform="rotate(-3.8 458.1 179.0)" font-size="4.2" fill="#3a4a10" fill-opacity="0.75" text-anchor="middle" dominant-baseline="central">a_b</text>
<text x="389.6" y="267.7" transform="rotate(85.5 389.6 267.7)" font-size="4.2" fill="#3a4a10" fill-opacity="0.75" text-anchor="middle" dominant-baseline="central">M..l</text>
<text x="309.0" y="181.0" transform="rotate(362.3 309.0 181.0)" font-size="5.4" fill="#3a4a10" fill-opacity="0.75" text-anchor="middle" dominant-baseline="central">V..1</text>
<text x="374.9" y="249.2" transform="rotate(277.1 374.9 249.2)" font-size="4.2" fill="#3a4a10" fill-opacity="0.75" text-anchor="middle" dominant-baseline="central">F..</text>
<text x="310.3" y="126.1" transform="rotate(398.5 310.3 126.1)" font-size="4.2" fill="#3a4a10" fill-opacity="0.75" text-anchor="middle" dominant-baseline="central">S..0</text>
<text x="407.3" y="108.9" transform="rotate(-72.1 407.3 108.9)" font-size="5.4" fill="#3a4a10" fill-opacity="0.75" text-anchor="middle" dominant-baseline="central">S..0</text>
<text x="424.0" y="115.8" transform="rotate(-59.0 424.0 115.8)" font-size="4.2" fill="#3a4a10" fill-opacity="0.75" text-anchor="middle" dominant-baseline="central">F..</text>
<text x="453.1" y="214.1" transform="rotate(23.2 453.1 214.1)" font-size="5.4" fill="#3a4a10" fill-opacity="0.75" text-anchor="middle" dominant-baseline="central">M..l</text>
<text x="452.6" y="208.6" transform="rotate(19.5 452.6 208.6)" font-size="4.8" fill="#3a4a10" fill-opacity="0.75" text-anchor="middle" dominant-baseline="central">F..</text>
<text x="441.3" y="124.8" transform="rotate(-45.4 441.3 124.8)" font-size="4.2" fill="#3a4a10" fill-opacity="0.75" text-anchor="middle" dominant-baseline="central">M..l</text>
<text x="356.5" y="243.5" transform="rotate(294.0 356.5 243.5)" font-size="5.4" fill="#3a4a10" fill-opacity="0.75" text-anchor="middle" dominant-baseline="central">3..0</text>
<text x="321.0" y="228.9" transform="rotate(324.1 321.0 228.9)" font-size="5.4" fill="#3a4a10" fill-opacity="0.75" text-anchor="middle" dominant-baseline="central">S..0</text>
<text x="339.8" y="134.1" transform="rotate(409.2 339.8 134.1)" font-size="5.4" fill="#3a4a10" fill-opacity="0.75" text-anchor="middle" dominant-baseline="central">3..0</text>
<text x="472.2" y="222.6" transform="rotate(23.4 472.2 222.6)" font-size="4.8" fill="#3a4a10" fill-opacity="0.75" text-anchor="middle" dominant-baseline="central">M..l</text>
<text x="391.0" y="113.5" transform="rotate(-83.5 391.0 113.5)" font-size="5.4" fill="#3a4a10" fill-opacity="0.75" text-anchor="middle" dominant-baseline="central">C..m</text>
<text x="338.6" y="254.0" transform="rotate(302.4 338.6 254.0)" font-size="4.8" fill="#3a4a10" fill-opacity="0.75" text-anchor="middle" dominant-baseline="central">D..e</text>
<text x="430.5" y="139.6" transform="rotate(-43.1 430.5 139.6)" font-size="4.8" fill="#3a4a10" fill-opacity="0.75" text-anchor="middle" dominant-baseline="central">F..</text>
<text x="367.4" y="105.2" transform="rotate(438.8 367.4 105.2)" font-size="4.2" fill="#3a4a10" fill-opacity="0.75" text-anchor="middle" dominant-baseline="central">C..m</text>
<text x="398.0" y="249.6" transform="rotate(77.1 398.0 249.6)" font-size="4.8" fill="#3a4a10" fill-opacity="0.75" text-anchor="middle" dominant-baseline="central">T..r</text>
<text x="314.1" y="223.3" transform="rotate(330.3 314.1 223.3)" font-size="5.4" fill="#3a4a10" fill-opacity="0.75" text-anchor="middle" dominant-baseline="central">V..1</text>
<text x="432.9" y="118.1" transform="rotate(-52.9 432.9 118.1)" font-size="4.8" fill="#3a4a10" fill-opacity="0.75" text-anchor="middle" dominant-baseline="central">S..0</text>
<text x="456.1" y="126.2" transform="rotate(-38.3 456.1 126.2)" font-size="5.4" fill="#3a4a10" fill-opacity="0.75" text-anchor="middle" dominant-baseline="central">S..0</text>
<text x="419.6" y="127.7" transform="rotate(-57.0 419.6 127.7)" font-size="4.2" fill="#3a4a10" fill-opacity="0.75" text-anchor="middle" dominant-baseline="central">M..l</text>
<text x="313.5" y="151.6" transform="rotate(385.0 313.5 151.6)" font-size="4.2" fill="#3a4a10" fill-opacity="0.75" text-anchor="middle" dominant-baseline="central">P..al</text>
<text x="309.7" y="134.9" transform="rotate(393.8 309.7 134.9)" font-size="5.4" fill="#3a4a10" fill-opacity="0.75" text-anchor="middle" dominant-baseline="central">C..m</text>
<text x="447.1" y="204.6" transform="rotate(17.8 447.1 204.6)" font-size="5.4" fill="#3a4a10" fill-opacity="0.75" text-anchor="middle" dominant-baseline="central">V..1</text>
<text x="370.0" y="254.4" transform="rotate(280.4 370.0 254.4)" font-size="5.4" fill="#3a4a10" fill-opacity="0.75" text-anchor="middle" dominant-baseline="central">T..r</text>
<text x="430.9" y="118.1" transform="rotate(-54.0 430.9 118.1)" font-size="4.8" fill="#3a4a10" fill-opacity="0.75" text-anchor="middle" dominant-baseline="central">T..r</text>
<text x="331.1" y="135.6" transform="rotate(403.0 331.1 135.6)" font-size="4.2" fill="#3a4a10" fill-opacity="0.75" text-anchor="middle" dominant-baseline="central">P..al</text>
<text x="382.1" y="98.8" transform="rotate(449.4 382.1 98.8)" font-size="5.4" fill="#3a4a10" fill-opacity="0.75" text-anchor="middle" dominant-baseline="central">3..0</text>
<text x="289.9" y="214.2" transform="rotate(342.0 289.9 214.2)" font-size="4.8" fill="#3a4a10" fill-opacity="0.75" text-anchor="middle" dominant-baseline="central">C..m</text>
<text x="332.8" y="253.5" transform="rotate(305.8 332.8 253.5)" font-size="4.8" fill="#3a4a10" fill-opacity="0.75" text-anchor="middle" dominant-baseline="central">T..r</text>
<text x="367.2" y="110.6" transform="rotate(437.9 367.2 110.6)" font-size="4.8" fill="#3a4a10" fill-opacity="0.75" text-anchor="middle" dominant-baseline="central">D..e</text>
<text x="300.8" y="129.2" transform="rotate(393.7 300.8 129.2)" font-size="5.4" fill="#3a4a10" fill-opacity="0.75" text-anchor="middle" dominant-baseline="central">M..l</text>
<text x="350.3" y="255.4" transform="rotate(294.6 350.3 255.4)" font-size="5.4" fill="#3a4a10" fill-opacity="0.75" text-anchor="middle" dominant-baseline="central">T..r</text>
<text x="391.8" y="269.5" transform="rotate(84.1 391.8 269.5)" font-size="4.2" fill="#3a4a10" fill-opacity="0.75" text-anchor="middle" dominant-baseline="central">a_b</text>
<text x="432.6" y="111.9" transform="rotate(-55.5 432.6 111.9)" font-size="4.8" fill="#3a4a10" fill-opacity="0.75" text-anchor="middle" dominant-baseline="central">T..r</text>
<text x="339.4" y="256.2" transform="rotate(301.1 339.4 256.2)" font-size="4.8" fill="#3a4a10" fill-opacity="0.75" text-anchor="middle" dominant-baseline="central">a_b</text>
<text x="312.9" y="183.1" transform="rotate(360.7 312.9 183.1)" font-size="4.8" fill="#3a4a10" fill-opacity="0.75" text-anchor="middle" dominant-baseline="central">T..r</text>
<text x="346.5" y="100.0" transform="rotate(426.5 346.5 100.0)" font-size="4.8" fill="#3a4a10" fill-opacity="0.75" text-anchor="middle" dominant-baseline="central">T..r</text>
<text x="311.3" y="222.6" transform="rotate(331.7 311.3 222.6)" font-size="5.4" fill="#3a4a10" fill-opacity="0.75" text-anchor="middle" dominant-baseline="central">V..1</text>
<text x="347.3" y="244.7" transform="rotate(300.5 347.3 244.7)" font-size="4.8" fill="#3a4a10" fill-opacity="0.75" text-anchor="middle" dominant-baseline="central">D..e</text>
<text x="394.4" y="105.8" transform="rotate(-81.7 394.4 105.8)" font-size="4.2" fill="#3a4a10" fill-opacity="0.75" text-anchor="middle" dominant-baseline="central">M..l</text>
<text x="452.6" y="147.0" transform="rotate(-28.0 452.6 147.0)" font-size="4.8" fill="#3a4a10" fill-opacity="0.75" text-anchor="middle" dominant-baseline="central">F..</text>
<text x="314.1" y="173.4" transform="rotate(368.7 314.1 173.4)" font-size="5.4" fill="#3a4a10" fill-opacity="0.75" text-anchor="middle" dominant-baseline="central">3..0</text>
<text x="339.4" y="244.8" transform="rotate(305.6 339.4 244.8)" font-size="4.2" fill="#3a4a10" fill-opacity="0.75" text-anchor="middle" dominant-baseline="central">T..r</text>
<text x="393.3" y="271.4" transform="rotate(83.3 393.3 271.4)" font-size="5.4" fill="#3a4a10" fill-opacity="0.75" text-anchor="middle" dominant-baseline="central">M..l</text>
<text x="338.5" y="135.5" transform="rotate(407.5 338.5 135.5)" font-size="4.2" fill="#3a4a10" fill-opacity="0.75" text-anchor="middle" dominant-baseline="central">D..e</text>
<text x="317.1" y="233.0" transform="rotate(323.4 317.1 233.0)" font-size="4.2" fill="#3a4a10" fill-opacity="0.75" text-anchor="middle" dominant-baseline="central">P..al</text>
<text x="325.0" y="139.7" transform="rotate(397.4 325.0 139.7)" font-size="4.8" fill="#3a4a10" fill-opacity="0.75" text-anchor="middle" dominant-baseline="central">D..e</text>
<text x="449.0" y="127.6" transform="rotate(-40.5 449.0 127.6)" font-size="4.8" fill="#3a4a10" fill-opacity="0.75" text-anchor="middle" dominant-baseline="central">S..0</text>
<text x="440.6" y="152.2" transform="rotate(-28.9 440.6 152.2)" font-size="4.8" fill="#3a4a10" fill-opacity="0.75" text-anchor="middle" dominant-baseline="central">a_b</text>
<text x="431.1" y="109.2" transform="rotate(-57.3 431.1 109.2)" font-size="4.2" fill="#3a4a10" fill-opacity="0.75" text-anchor="middle" dominant-baseline="central">P..al</text>
<text x="483.1" y="192.9" transform="rotate(5.1 483.1 192.9)" font-size="4.8" fill="#3a4a10" fill-opacity="0.75" text-anchor="middle" dominant-baseline="central">S..0</text>
<text x="407.4" y="263.0" transform="rotate(72.8 407.4 263.0)" font-size="4.2" fill="#3a4a10" fill-opacity="0.75" text-anchor="middle" dominant-baseline="central">F..</text>
<text x="396.6" y="111.0" transform="rotate(-79.4 396.6 111.0)" font-size="4.8" fill="#3a4a10" fill-opacity="0.75" text-anchor="middle" dominant-baseline="central">M..l</text>
<text x="422.5" y="109.9" transform="rotate(-61.9 422.5 109.9)" font-size="4.8" fill="#3a4a10" fill-opacity="0.75" text-anchor="middle" dominant-baseline="central">3..0</text>
<text x="436.2" y="131.1" transform="rotate(-44.8 436.2 131.1)" font-size="4.2" fill="#3a4a10" fill-opacity="0.75" text-anchor="middle" dominant-baseline="central">C..m</text>
<text x="325.8" y="217.6" transform="rotate(329.6 325.8 217.6)" font-size="4.8" fill="#3a4a10" fill-opacity="0.75" text-anchor="middle" dominant-baseline="central">T..r</text>
<text x="436.6" y="107.2" transform="rotate(-55.1 436.6 107.2)" font-size="5.4" fill="#3a4a10" fill-opacity="0.75" text-anchor="middle" dominant-baseline="central">F..</text>
<text x="289.9" y="170.8" transform="rotate(368.1 289.9 170.8)" font-size="5.4" fill="#3a4a10" fill-opacity="0.75" text-anchor="middle" dominant-baseline="central">C..m</text>
<text x="314.3" y="218.5" transform="rotate(333.3 314.3 218.5)" font-size="4.2" fill="#3a4a10" fill-opacity="0.75" text-anchor="middle" dominant-baseline="central">C..m</text>
<text x="279.5" y="181.3" transform="rotate(361.5 279.5 181.3)" font-size="5.4" fill="#3a4a10" fill-opacity="0.75" text-anchor="middle" dominant-baseline="central">V..1</text>
<text x="369.2" y="268.5" transform="rotate(279.2 369.2 268.5)" font-size="4.8" fill="#3a4a10" fill-opacity="0.75" text-anchor="middle" dominant-baseline="central">T..r</text>
<text x="409.7" y="115.9" transform="rotate(-68.6 409.7 115.9)" font-size="5.4" fill="#3a4a10" fill-opacity="0.75" text-anchor="middle" dominant-baseline="central">V..1</text>
<text x="465.3" y="146.5" transform="rotate(-24.5 465.3 146.5)" font-size="4.2" fill="#3a4a10" fill-opacity="0.75" text-anchor="middle" dominant-baseline="central">a_b</text>
<text x="447.7" y="245.4" transform="rotate(43.5 447.7 245.4)" font-size="4.2" fill="#3a4a10" fill-opacity="0.75" text-anchor="middle" dominant-baseline="central">3..0</text>
<text x="434.5" y="120.3" transform="rotate(-51.0 434.5 120.3)" font-size="5.4" fill="#3a4a10" fill-opacity="0.75" text-anchor="middle" dominant-baseline="central">F..</text>
<text x="294.3" y="200.6" transform="rotate(349.4 294.3 200.6)" font-size="4.8" fill="#3a4a10" fill-opacity="0.75" text-anchor="middle" dominant-baseline="central">T..r</text>
<text x="323.3" y="228.9" transform="rotate(323.1 323.3 228.9)" font-size="4.2" fill="#3a4a10" fill-opacity="0.75" text-anchor="middle" dominant-baseline="central">C..m</text>
<text x="317.3" y="202.9" transform="rotate(344.0 317.3 202.9)" font-size="5.4" fill="#3a4a10" fill-opacity="0.75" text-anchor="middle" dominant-baseline="central">a_b</text>
<text x="360.2" y="266.2" transform="rotate(285.5 360.2 266.2)" font-size="4.2" fill="#3a4a10" fill-opacity="0.75" text-anchor="middle" dominant-baseline="central">F..</text>
<text x="461.9" y="191.9" transform="rotate(5.7 461.9 191.9)" font-size="4.2" fill="#3a4a10" fill-opacity="0.75" text-anchor="middle" dominant-baseline="central">a_b</text>
<text x="392.7" y="256.1" transform="rotate(82.3 392.7 256.1)" font-size="4.8" fill="#3a4a10" fill-opacity="0.75" text-anchor="middle" dominant-baseline="central">T..r</text>
<text x="311.8" y="112.6" transform="rotate(405.1 311.8 112.6)" font-size="5.4" fill="#3a4a10" fill-opacity="0.75" text-anchor="middle" dominant-baseline="central">3..0</text>
<text x="320.9" y="159.8" transform="rotate(381.3 320.9 159.8)" font-size="4.2" fill="#3a4a10" fill-opacity="0.75" text-anchor="middle" dominant-baseline="central">3..0</text>
<text x="453.8" y="133.6" transform="rotate(-35.4 453.8 133.6)" font-size="5.4" fill="#3a4a10" fill-opacity="0.75" text-anchor="middle" dominant-baseline="central">P..al</text>
<text x="291.4" y="167.1" transform="rotate(370.4 291.4 167.1)" font-size="5.4" fill="#3a4a10" fill-opacity="0.75" text-anchor="middle" dominant-baseline="central">a_b</text>
<text x="458.2" y="153.8" transform="rotate(-21.9 458.2 153.8)" font-size="5.4" fill="#3a4a10" fill-opacity="0.75" text-anchor="middle" dominant-baseline="central">M..l</text>
<text x="444.7" y="125.0" transform="rotate(-43.7 444.7 125.0)" font-size="4.2" fill="#3a4a10" fill-opacity="0.75" text-anchor="middle" dominant-baseline="central">M..l</text>
<text x="363.9" y="250.2" transform="rotate(286.1 363.9 250.2)" font-size="4.2" fill="#3a4a10" fill-opacity="0.75" text-anchor="middle" dominant-baseline="central">a_b</text>
<text x="325.5" y="131.0" transform="rotate(402.7 325.5 131.0)" font-size="4.2" fill="#3a4a10" fill-opacity="0.75" text-anchor="middle" dominant-baseline="central">C..m</text>
<text x="316.1" y="140.2" transform="rotate(393.2 316.1 140.2)" font-size="4.8" fill="#3a4a10" fill-opacity="0.75" text-anchor="middle" dominant-baseline="central">M..l</text></g></g>
<circle cx="383" cy="184" r="41.3" fill="#fff"/></svg>
<div class="t" style="left:39px;top:37.2px;letter-spacing:-0.04px;">Building Facilities</div>
<div class="t" style="left:424.5px;top:35.5px;letter-spacing:-0.03px;">IT Infrastructure</div>
<div class="t" style="left:905.3px;top:35.3px;letter-spacing:-0.2px;">Services &amp; Apps</div>
<div class="clbl" style="left:62px;top:107px;">Max: 22.00 &#176; C</div>
<div class="clbl mn" style="left:14px;top:146px;">Min: 20.00 &#176; C</div>
<div class="ct" style="left:17px;top:84px;">Temperature - Air Conditioning System/ 10 Hours</div>
<div class="clbl" style="left:72.4px;top:199.8px;">Max: 38.00 %</div>
<div class="clbl mn" style="left:14px;top:248px;">Min: 34.00 %</div>
<div class="ct" style="left:17px;top:181.5px;">Humidity / 10 Hours</div>
<div class="sb" style="left:96px;top:284.2px;width:96px;height:35.10000000000002px;"></div>
<div class="sbt" style="left:96px;width:96px;top:284.5px;">Website</div>
<div class="sbo" style="left:96px;width:96px;top:297.5px;">OK</div>
<div class="sl" style="left:17px;top:284.7px;">Access Management<br>System</div>
<div class="sb" style="left:98px;top:347.4px;width:95.6px;height:33.700000000000045px;"></div>
<div class="sbt" style="left:98px;width:95.6px;top:347px;">Surveillance</div>
<div class="sbo" style="left:98px;width:95.6px;top:360.2px;">OK</div>
<div class="sl" style="left:17.6px;top:346.8px;">Security-cameras<br>System</div>
<div class="sb" style="left:96px;top:406.7px;width:96.1px;height:34.900000000000034px;"></div>
<div class="sbt" style="left:96px;width:96.1px;top:406.6px;">Uptime</div>
<div class="sbo" style="left:96px;width:96.1px;top:419.2px;">OK</div>
<div class="sl" style="left:17.6px;top:407px;">Electric System</div>
<div class="il" style="left:550.2px;top:133.0px;">Server</div>
<div class="ck" style="left:548.0px;top:143.4px;width:9.2px;height:9px;"><svg width="9.2" height="9" viewBox="0 0 10 10"><path d="M2.2,5.2 L4.2,7.2 L8,3" fill="none" stroke="#fff" stroke-width="1.6"/></svg></div>
<div class="cn" style="left:559.4000000000001px;top:145.0px;">3</div>
<div class="il" style="left:696.3px;top:130.29999999999998px;">Storage</div>
<div class="ck" style="left:695.5999999999999px;top:141.2px;width:9.2px;height:9px;"><svg width="9.2" height="9" viewBox="0 0 10 10"><path d="M2.2,5.2 L4.2,7.2 L8,3" fill="none" stroke="#fff" stroke-width="1.6"/></svg></div>
<div class="cn" style="left:707.0px;top:142.79999999999998px;">1</div>
<div class="il" style="left:536.9px;top:222.89999999999998px;">Virtual Hosting</div>
<div class="ck" style="left:546.8px;top:233.2px;width:9.2px;height:9px;"><svg width="9.2" height="9" viewBox="0 0 10 10"><path d="M2.2,5.2 L4.2,7.2 L8,3" fill="none" stroke="#fff" stroke-width="1.6"/></svg></div>
<div class="cn" style="left:558.2px;top:234.79999999999998px;">16</div>
<div class="il" style="left:698.6px;top:223.5px;">Network</div>
<div class="ck" style="left:701.5px;top:234.5px;width:9.2px;height:9px;"><svg width="9.2" height="9" viewBox="0 0 10 10"><path d="M2.2,5.2 L4.2,7.2 L8,3" fill="none" stroke="#fff" stroke-width="1.6"/></svg></div>
<div class="cn" style="left:712.9000000000001px;top:236.1px;">3</div>
<div class="il" style="left:550px;top:309.4px;">SQL 01</div>
<div class="ck" style="left:548.9px;top:320.40000000000003px;width:9.2px;height:9px;"><svg width="9.2" height="9" viewBox="0 0 10 10"><path d="M2.2,5.2 L4.2,7.2 L8,3" fill="none" stroke="#fff" stroke-width="1.6"/></svg></div>
<div class="cn" style="left:560.3000000000001px;top:322.0px;">2</div>
<div class="il" style="left:690.8px;top:309.4px;">Demo Server</div>
<div class="ck" style="left:707.5999999999999px;top:320.40000000000003px;width:9.2px;height:9px;"><svg width="9.2" height="9" viewBox="0 0 10 10"><path d="M2.2,5.2 L4.2,7.2 L8,3" fill="none" stroke="#fff" stroke-width="1.6"/></svg></div>
<div class="cn" style="left:719.0px;top:322.0px;">4</div>
<div class="il" style="left:1051.8px;top:194.29999999999998px;">XenServer VM Backup</div>
<div class="ck" style="left:1074.3999999999999px;top:206.1px;width:9.2px;height:9px;"><svg width="9.2" height="9" viewBox="0 0 10 10"><path d="M2.2,5.2 L4.2,7.2 L8,3" fill="none" stroke="#fff" stroke-width="1.6"/></svg></div>
<div class="cn" style="left:1085.8px;top:207.7px;">1</div>
<div class="il" style="left:1060.5px;top:364.4px;">Cloud Services</div>
<div class="ck" style="left:1071.8px;top:375.6px;width:9.2px;height:9px;"><svg width="9.2" height="9" viewBox="0 0 10 10"><path d="M2.2,5.2 L4.2,7.2 L8,3" fill="none" stroke="#fff" stroke-width="1.6"/></svg></div>
<div class="cn" style="left:1083.2px;top:377.2px;">2</div>
<div class="wb" style="left:690px;top:320.4px;">W</div>
<div class="cn" style="left:701.8px;top:322px;">1</div>
<div class="th" style="left:259.5px;top:347px;">Host (WBEM)</div>
<div class="tn" style="left:273.2px;top:360.4px;">System</div>
<div class="tn" style="left:273.2px;top:396.9px;">Power Supply</div>
<div class="tn" style="left:273.2px;top:417.4px;">Fan</div>
<div class="sc" style="left:357px;top:361.6px;"><div class="scg"><svg width="8" height="14" viewBox="0 0 8 14"><path d="M1.8,7.2 L3.5,8.9 L6.4,5.6" fill="none" stroke="#fff" stroke-width="1.2"/></svg></div><div class="sct">System Board 1 Ambient Temp<br>26 &#176;C</div></div>
<div class="sc" style="left:453.5px;top:361.6px;"><div class="scg"><svg width="8" height="14" viewBox="0 0 8 14"><path d="M1.8,7.2 L3.5,8.9 L6.4,5.6" fill="none" stroke="#fff" stroke-width="1.2"/></svg></div><div class="sct">System Board 1 FAN 1 RPM<br>3,600 RPM</div></div>
<div class="sc" style="left:550px;top:361.6px;"><div class="scg"><svg width="8" height="14" viewBox="0 0 8 14"><path d="M1.8,7.2 L3.5,8.9 L6.4,5.6" fill="none" stroke="#fff" stroke-width="1.2"/></svg></div><div class="sct">System Board 1 FAN 2 RPM<br>2,600 RPM</div></div>
<div class="sc" style="left:646.5px;top:361.6px;"><div class="scg"><svg width="8" height="14" viewBox="0 0 8 14"><path d="M1.8,7.2 L3.5,8.9 L6.4,5.6" fill="none" stroke="#fff" stroke-width="1.2"/></svg></div><div class="sct">System Board 1 FAN 3 RPM<br>3,600 RPM</div></div>
<div class="sc" style="left:357px;top:378.2px;"><div class="scg"><svg width="8" height="14" viewBox="0 0 8 14"><path d="M1.8,7.2 L3.5,8.9 L6.4,5.6" fill="none" stroke="#fff" stroke-width="1.2"/></svg></div><div class="sct">System Board 1 FAN 4 RPM<br>3,600 RPM</div></div>
<div class="sc" style="left:453.5px;top:378.2px;"><div class="scg"><svg width="8" height="14" viewBox="0 0 8 14"><path d="M1.8,7.2 L3.5,8.9 L6.4,5.6" fill="none" stroke="#fff" stroke-width="1.2"/></svg></div><div class="sct">System Board 1 FAN 5 RPM<br>3,600 RPM</div></div>
<div class="sc" style="left:550px;top:378.2px;"><div class="scg"><svg width="8" height="14" viewBox="0 0 8 14"><path d="M1.8,7.2 L3.5,8.9 L6.4,5.6" fill="none" stroke="#fff" stroke-width="1.2"/></svg></div><div class="sct">System Board 1 System Level<br>252 Watt</div></div>
<div class="sc" style="left:357px;top:398.1px;"><div class="scg"><svg width="8" height="14" viewBox="0 0 8 14"><path d="M1.8,7.2 L3.5,8.9 L6.4,5.6" fill="none" stroke="#fff" stroke-width="1.2"/></svg></div><div class="sct">Power Supply 1 Current<br>480 mA</div></div>
<div class="sc" style="left:453.5px;top:398.1px;"><div class="scg"><svg width="8" height="14" viewBox="0 0 8 14"><path d="M1.8,7.2 L3.5,8.9 L6.4,5.6" fill="none" stroke="#fff" stroke-width="1.2"/></svg></div><div class="sct">Power Supply 1 Voltage<br>228 Volt</div></div>
<div class="sc" style="left:550px;top:398.1px;"><div class="scg"><svg width="8" height="14" viewBox="0 0 8 14"><path d="M1.8,7.2 L3.5,8.9 L6.4,5.6" fill="none" stroke="#fff" stroke-width="1.2"/></svg></div><div class="sct">Power Supply 2 Current<br>600 mA</div></div>
<div class="sc" style="left:646.5px;top:398.1px;"><div class="scg"><svg width="8" height="14" viewBox="0 0 8 14"><path d="M1.8,7.2 L3.5,8.9 L6.4,5.6" fill="none" stroke="#fff" stroke-width="1.2"/></svg></div><div class="sct">Power Supply 2 Voltage<br>226 Volt</div></div>
<div class="sc" style="left:357px;top:418.4px;"><div class="scg"><svg width="8" height="14" viewBox="0 0 8 14"><path d="M1.8,7.2 L3.5,8.9 L6.4,5.6" fill="none" stroke="#fff" stroke-width="1.2"/></svg></div><div class="sct">System Board 1 FAN 1 RPM<br>3,600 RPM</div></div>
<div class="sc" style="left:453.5px;top:418.4px;"><div class="scg"><svg width="8" height="14" viewBox="0 0 8 14"><path d="M1.8,7.2 L3.5,8.9 L6.4,5.6" fill="none" stroke="#fff" stroke-width="1.2"/></svg></div><div class="sct">System Board 1 FAN 2 RPM<br>3,600 RPM</div></div>
<div class="sc" style="left:550px;top:418.4px;"><div class="scg"><svg width="8" height="14" viewBox="0 0 8 14"><path d="M1.8,7.2 L3.5,8.9 L6.4,5.6" fill="none" stroke="#fff" stroke-width="1.2"/></svg></div><div class="sct">System Board 1 FAN 3 RPM<br>3,600 RPM</div></div>
<div class="sc" style="left:646.5px;top:418.4px;"><div class="scg"><svg width="8" height="14" viewBox="0 0 8 14"><path d="M1.8,7.2 L3.5,8.9 L6.4,5.6" fill="none" stroke="#fff" stroke-width="1.2"/></svg></div><div class="sct">System Board 1 FAN 4 RPM<br>3,600 RPM</div></div>
<div class="sc" style="left:357px;top:434.7px;"><div class="scg"><svg width="8" height="14" viewBox="0 0 8 14"><path d="M1.8,7.2 L3.5,8.9 L6.4,5.6" fill="none" stroke="#fff" stroke-width="1.2"/></svg></div><div class="sct">System Board 1 FAN 5 RPM<br>3,600 RPM</div></div>
<div class="svh" style="left:798.3px;top:89.6px;">Services</div>
<div class="svc" style="top:104.6px;border-bottom-color:#ead27a;"><div class="svs" style="background:#f5c000;">W</div><div class="sv1">Terminal Services</div><div class="sv2">Connection c...</div><div class="sv3">Total Sessions</div><div class="sv4">No data</div></div>
<div class="svc" style="top:149px;border-bottom-color:#ec8088;"><div class="svs" style="background:#e2001a;">!!</div><div class="sv1">Service: Print Spooler</div><div class="sv2">Connection c...</div><div class="sv3">Sensor Executi...</div><div class="sv4">No data</div></div>
<div class="svc" style="top:193.3px;border-bottom-color:#ead27a;"><div class="svs" style="background:#f5c000;">W</div><div class="sv1">Service: Remote Procedu...</div><div class="sv2">Connection c...</div><div class="sv3">Sensor Executi...</div><div class="sv4">No data</div></div>
<div class="tm" style="left:943.7px;top:104.5px;width:32.19999999999993px;height:46.5px;background:#f5c000;">MS SQL<br>2019</div>
<div style="left:966.9px;top:141.7px;width:8px;height:7.6px;border:0.7px solid #7a5a20;"><div style="left:2.6px;top:3.6px;width:2.4px;height:2.2px;background:#d02020"></div><div style="left:0;top:1.6px;width:6.6px;height:0.6px;background:#7a5a20"></div></div>
<div class="tm" style="left:977px;top:104.5px;width:32px;height:46.5px;background:#b5c51c;">IIS</div>
<div style="left:1000.4px;top:142.2px;width:8px;height:8px;"><svg width="8" height="8" viewBox="0 0 8 8"><circle cx="3" cy="2.4" r="1.8" fill="none" stroke="#6a7020" stroke-width="0.7"/><circle cx="5.6" cy="5.2" r="1.8" fill="none" stroke="#6a7020" stroke-width="0.7"/><path d="M0.5,7.5 Q1,4.5 3,4.6" fill="none" stroke="#6a7020" stroke-width="0.7"/></svg></div>
<div class="tm" style="left:943.7px;top:153px;width:31.899999999999977px;height:46.599999999999994px;background:#b5c51c;">IMAP</div>
<div style="left:967.2px;top:192.2px;width:7.4px;height:3.6px;border:0.6px solid #8a3a2a;background:#c9c9a0"><div style="left:0.6px;top:0.5px;width:2.2px;height:1.8px;background:#d02020"></div></div>
<div class="tm" style="left:977px;top:153px;width:32px;height:46.599999999999994px;background:#b5c51c;">POP3</div>
<div style="left:1000.6px;top:192.2px;width:7.4px;height:3.6px;border:0.6px solid #8a3a2a;background:#c9c9a0"><div style="left:0.6px;top:0.5px;width:2.2px;height:1.8px;background:#d02020"></div></div>
<div class="tm" style="left:943.7px;top:201px;width:65.29999999999995px;height:21.80000000000001px;background:#b5c51c;">SMTP</div>
<div style="left:1000.6px;top:215.4px;width:7.4px;height:3.6px;border:0.6px solid #8a3a2a;background:#c9c9a0"><div style="left:0.6px;top:0.5px;width:2.2px;height:1.8px;background:#d02020"></div></div>
<div class="bk" style="left:1047.5px;top:97.2px;">Backup System</div>
<div class="tll" style="left:809px;top:267.6px;">File</div>
<div class="tll" style="left:867.3px;top:267.6px;">WWW</div>
<div class="tll" style="left:924.4px;top:267.6px;">eCom</div>
<div class="tll" style="left:985.8px;top:267.6px;">E-Mail</div>
</body></html>
